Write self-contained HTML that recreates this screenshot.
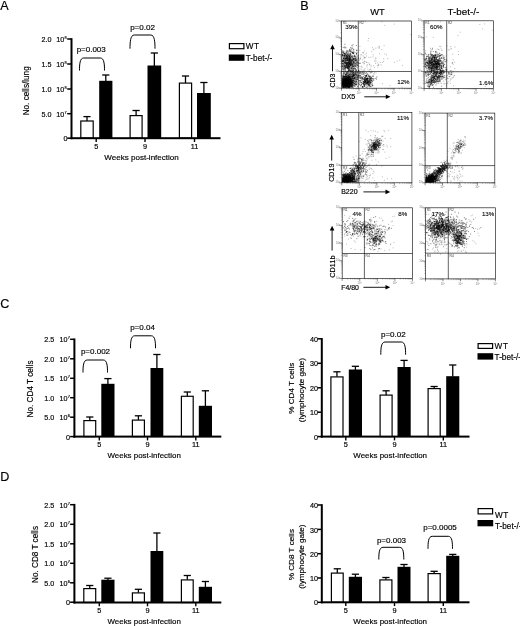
<!DOCTYPE html>
<html lang="en"><head><meta charset="utf-8"><title>Figure</title>
<style>html,body{margin:0;padding:0;background:#fff;overflow:hidden}svg{display:block}text{font-family:'Liberation Sans', sans-serif;fill:#000;stroke:#000;stroke-width:0.17px}</style></head><body>
<svg width="520" height="626" viewBox="0 0 520 626">
<rect width="520" height="626" fill="#fff"/>
<defs><filter id="soft" x="0" y="0" width="520" height="626" filterUnits="userSpaceOnUse"><feGaussianBlur stdDeviation="0.38"/></filter></defs>
<g id="fig" filter="url(#soft)">
<text x="0.3" y="10.3" font-size="12.6">A</text>
<text x="300.3" y="10.2" font-size="12.6">B</text>
<text x="0.2" y="308.2" font-size="12.6">C</text>
<text x="0.3" y="481.4" font-size="12.6">D</text>
<line x1="87.0" y1="116.6" x2="87.0" y2="120.9" stroke="#000" stroke-width="1.3"/>
<line x1="83.4" y1="116.6" x2="90.6" y2="116.6" stroke="#000" stroke-width="1.3"/>
<rect x="80.8" y="121.0" width="12.399999999999995" height="17.19999999999998" fill="#fff" stroke="#000" stroke-width="1.2"/>
<line x1="105.80000000000001" y1="75" x2="105.80000000000001" y2="81.3" stroke="#000" stroke-width="1.3"/>
<line x1="102.20000000000002" y1="75" x2="109.4" y2="75" stroke="#000" stroke-width="1.3"/>
<rect x="99.2" y="80.8" width="13.200000000000003" height="57.39999999999999" fill="#000"/>
<line x1="136.1" y1="110.5" x2="136.1" y2="115.5" stroke="#000" stroke-width="1.3"/>
<line x1="132.5" y1="110.5" x2="139.7" y2="110.5" stroke="#000" stroke-width="1.3"/>
<rect x="130.1" y="115.6" width="11.99999999999999" height="22.599999999999987" fill="#fff" stroke="#000" stroke-width="1.2"/>
<line x1="154.35" y1="53" x2="154.35" y2="66.0" stroke="#000" stroke-width="1.3"/>
<line x1="150.75" y1="53" x2="157.95" y2="53" stroke="#000" stroke-width="1.3"/>
<rect x="147.5" y="65.5" width="13.699999999999989" height="72.69999999999999" fill="#000"/>
<line x1="185.5" y1="76" x2="185.5" y2="83.0" stroke="#000" stroke-width="1.3"/>
<line x1="181.9" y1="76" x2="189.1" y2="76" stroke="#000" stroke-width="1.3"/>
<rect x="179.4" y="83.1" width="12.199999999999978" height="55.09999999999999" fill="#fff" stroke="#000" stroke-width="1.2"/>
<line x1="203.9" y1="82.5" x2="203.9" y2="93.5" stroke="#000" stroke-width="1.3"/>
<line x1="200.3" y1="82.5" x2="207.5" y2="82.5" stroke="#000" stroke-width="1.3"/>
<rect x="197" y="93" width="13.800000000000011" height="45.19999999999999" fill="#000"/>
<rect x="70.5" y="38.2" width="2" height="100.99999999999999" fill="#000"/>
<rect x="70.5" y="137.2" width="150.0" height="2" fill="#000"/>
<line x1="67.2" y1="39" x2="71.5" y2="39" stroke="#000" stroke-width="1.5"/>
<line x1="67.2" y1="64" x2="71.5" y2="64" stroke="#000" stroke-width="1.5"/>
<line x1="67.2" y1="89" x2="71.5" y2="89" stroke="#000" stroke-width="1.5"/>
<line x1="67.2" y1="113.7" x2="71.5" y2="113.7" stroke="#000" stroke-width="1.5"/>
<line x1="67.2" y1="138.2" x2="71.5" y2="138.2" stroke="#000" stroke-width="1.5"/>
<line x1="96.2" y1="138.2" x2="96.2" y2="142.0" stroke="#000" stroke-width="1.4"/>
<text x="96.2" y="149.3" font-size="7.3" text-anchor="middle">5</text>
<line x1="145" y1="138.2" x2="145" y2="142.0" stroke="#000" stroke-width="1.4"/>
<text x="145" y="149.3" font-size="7.3" text-anchor="middle">9</text>
<line x1="194.5" y1="138.2" x2="194.5" y2="142.0" stroke="#000" stroke-width="1.4"/>
<text x="194.5" y="149.3" font-size="7.3" text-anchor="middle">11</text>
<text x="104.3" y="160" font-size="8" textLength="74.5" lengthAdjust="spacingAndGlyphs">Weeks post-infection</text>
<text x="51.4" y="42.2" font-size="7.2" text-anchor="end">2.0</text>
<text x="56.3" y="42.2" font-size="7.2">10<tspan dx="0.3" dy="-3.1" font-size="3.9">8</tspan></text>
<text x="51.4" y="67.19999999999999" font-size="7.2" text-anchor="end">1.5</text>
<text x="56.3" y="67.19999999999999" font-size="7.2">10<tspan dx="0.3" dy="-3.1" font-size="3.9">8</tspan></text>
<text x="51.4" y="92.19999999999999" font-size="7.2" text-anchor="end">1.0</text>
<text x="56.3" y="92.19999999999999" font-size="7.2">10<tspan dx="0.3" dy="-3.1" font-size="3.9">8</tspan></text>
<text x="51.4" y="116.89999999999999" font-size="7.2" text-anchor="end">5.0</text>
<text x="56.3" y="116.89999999999999" font-size="7.2">10<tspan dx="0.3" dy="-3.1" font-size="3.9">7</tspan></text>
<text x="67.4" y="141.39999999999998" font-size="7.2" text-anchor="end">0</text>
<text x="29.2" y="115.3" font-size="8.3" textLength="49" lengthAdjust="spacingAndGlyphs" transform="rotate(-90 29.2 115.3)">No. cells/lung</text>
<path d="M79.5 70.5 C79.5 64.5 79.8 58 83.7 58 L100.3 58 C104.2 58 104.5 64.5 104.5 70.5" fill="none" stroke="#000" stroke-width="1"/>
<text x="91.2" y="52.28" font-size="8" text-anchor="middle">p=0.003</text>
<path d="M130 48.7 C130 42.7 130.3 35 134.2 35 L150.8 35 C154.7 35 155 42.7 155 48.7" fill="none" stroke="#000" stroke-width="1"/>
<text x="142.5" y="30.279999999999998" font-size="8" text-anchor="middle">p=0.02</text>
<rect x="229.4" y="43.6" width="14.49999999999999" height="5.099999999999997" fill="#fff" stroke="#000" stroke-width="1.2"/>
<rect x="228.8" y="54.5" width="15.699999999999989" height="6.299999999999997" fill="#000"/>
<text x="245.8" y="48.9" font-size="8.2" textLength="13.3" lengthAdjust="spacing">WT</text>
<text x="245.8" y="60.5" font-size="8.2">T-bet-/-</text>
<line x1="89.8" y1="417" x2="89.8" y2="420.5" stroke="#000" stroke-width="1.3"/>
<line x1="86.2" y1="417" x2="93.39999999999999" y2="417" stroke="#000" stroke-width="1.3"/>
<rect x="83.89999999999999" y="420.6" width="11.8" height="16.00000000000002" fill="#fff" stroke="#000" stroke-width="1.2"/>
<line x1="107.9" y1="378.6" x2="107.9" y2="384.3" stroke="#000" stroke-width="1.3"/>
<line x1="104.30000000000001" y1="378.6" x2="111.5" y2="378.6" stroke="#000" stroke-width="1.3"/>
<rect x="101.3" y="383.8" width="13.200000000000003" height="52.80000000000001" fill="#000"/>
<line x1="138.4" y1="415.8" x2="138.4" y2="420.0" stroke="#000" stroke-width="1.3"/>
<line x1="134.8" y1="415.8" x2="142.0" y2="415.8" stroke="#000" stroke-width="1.3"/>
<rect x="132.4" y="420.1" width="11.99999999999999" height="16.50000000000002" fill="#fff" stroke="#000" stroke-width="1.2"/>
<line x1="156.9" y1="354.5" x2="156.9" y2="368.5" stroke="#000" stroke-width="1.3"/>
<line x1="153.3" y1="354.5" x2="160.5" y2="354.5" stroke="#000" stroke-width="1.3"/>
<rect x="150.5" y="368" width="12.800000000000011" height="68.60000000000002" fill="#000"/>
<line x1="187.3" y1="392" x2="187.3" y2="396.2" stroke="#000" stroke-width="1.3"/>
<line x1="183.70000000000002" y1="392" x2="190.9" y2="392" stroke="#000" stroke-width="1.3"/>
<rect x="181.4" y="396.3" width="11.8" height="40.30000000000003" fill="#fff" stroke="#000" stroke-width="1.2"/>
<line x1="205.4" y1="390.8" x2="205.4" y2="406.3" stroke="#000" stroke-width="1.3"/>
<line x1="201.8" y1="390.8" x2="209.0" y2="390.8" stroke="#000" stroke-width="1.3"/>
<rect x="198.8" y="405.8" width="13.199999999999989" height="30.80000000000001" fill="#000"/>
<rect x="73.4" y="338.5" width="2" height="99.10000000000001" fill="#000"/>
<rect x="73.4" y="435.6" width="147.9" height="2" fill="#000"/>
<line x1="70.10000000000001" y1="339.3" x2="74.4" y2="339.3" stroke="#000" stroke-width="1.5"/>
<line x1="70.10000000000001" y1="358.8" x2="74.4" y2="358.8" stroke="#000" stroke-width="1.5"/>
<line x1="70.10000000000001" y1="378.3" x2="74.4" y2="378.3" stroke="#000" stroke-width="1.5"/>
<line x1="70.10000000000001" y1="397.7" x2="74.4" y2="397.7" stroke="#000" stroke-width="1.5"/>
<line x1="70.10000000000001" y1="417.2" x2="74.4" y2="417.2" stroke="#000" stroke-width="1.5"/>
<line x1="70.10000000000001" y1="436.6" x2="74.4" y2="436.6" stroke="#000" stroke-width="1.5"/>
<line x1="99.3" y1="436.6" x2="99.3" y2="440.40000000000003" stroke="#000" stroke-width="1.4"/>
<text x="99.3" y="447.3" font-size="7.3" text-anchor="middle">5</text>
<line x1="147.5" y1="436.6" x2="147.5" y2="440.40000000000003" stroke="#000" stroke-width="1.4"/>
<text x="147.5" y="447.3" font-size="7.3" text-anchor="middle">9</text>
<line x1="195.8" y1="436.6" x2="195.8" y2="440.40000000000003" stroke="#000" stroke-width="1.4"/>
<text x="195.8" y="447.3" font-size="7.3" text-anchor="middle">11</text>
<text x="107.5" y="458.2" font-size="8" textLength="73.3" lengthAdjust="spacingAndGlyphs">Weeks post-infection</text>
<text x="54.3" y="342.3" font-size="7.2" text-anchor="end">2.5</text>
<text x="59.5" y="342.3" font-size="7.2">10<tspan dx="0.3" dy="-3.1" font-size="3.9">7</tspan></text>
<text x="54.3" y="361.8" font-size="7.2" text-anchor="end">2.0</text>
<text x="59.5" y="361.8" font-size="7.2">10<tspan dx="0.3" dy="-3.1" font-size="3.9">7</tspan></text>
<text x="54.3" y="381.3" font-size="7.2" text-anchor="end">1.5</text>
<text x="59.5" y="381.3" font-size="7.2">10<tspan dx="0.3" dy="-3.1" font-size="3.9">7</tspan></text>
<text x="54.3" y="400.7" font-size="7.2" text-anchor="end">1.0</text>
<text x="59.5" y="400.7" font-size="7.2">10<tspan dx="0.3" dy="-3.1" font-size="3.9">7</tspan></text>
<text x="54.3" y="420.2" font-size="7.2" text-anchor="end">5.0</text>
<text x="59.5" y="420.2" font-size="7.2">10<tspan dx="0.3" dy="-3.1" font-size="3.9">6</tspan></text>
<text x="70" y="439.6" font-size="7.2" text-anchor="end">0</text>
<text x="33.4" y="417.4" font-size="8.3" textLength="57" lengthAdjust="spacingAndGlyphs" transform="rotate(-90 33.4 417.4)">No. CD4 T cells</text>
<path d="M83 372.5 C83 366.5 83.3 360 87.2 360 L103.3 360 C107.2 360 107.5 366.5 107.5 372.5" fill="none" stroke="#000" stroke-width="1"/>
<text x="95.5" y="354.08" font-size="8" text-anchor="middle">p=0.002</text>
<path d="M130.5 348.3 C130.5 342.3 130.8 335.8 134.7 335.8 L151.3 335.8 C155.2 335.8 155.5 342.3 155.5 348.3" fill="none" stroke="#000" stroke-width="1"/>
<text x="142.5" y="330.28" font-size="8" text-anchor="middle">p=0.04</text>
<line x1="336.95000000000005" y1="371.8" x2="336.95000000000005" y2="376.8" stroke="#000" stroke-width="1.3"/>
<line x1="333.35" y1="371.8" x2="340.55000000000007" y2="371.8" stroke="#000" stroke-width="1.3"/>
<rect x="330.90000000000003" y="376.90000000000003" width="12.100000000000012" height="59.70000000000001" fill="#fff" stroke="#000" stroke-width="1.2"/>
<line x1="355.4" y1="366.3" x2="355.4" y2="370.0" stroke="#000" stroke-width="1.3"/>
<line x1="351.79999999999995" y1="366.3" x2="359.0" y2="366.3" stroke="#000" stroke-width="1.3"/>
<rect x="348.8" y="369.5" width="13.199999999999989" height="67.10000000000002" fill="#000"/>
<line x1="386.1" y1="390.8" x2="386.1" y2="395.0" stroke="#000" stroke-width="1.3"/>
<line x1="382.5" y1="390.8" x2="389.70000000000005" y2="390.8" stroke="#000" stroke-width="1.3"/>
<rect x="380.1" y="395.1" width="11.99999999999999" height="41.50000000000002" fill="#fff" stroke="#000" stroke-width="1.2"/>
<line x1="404.1" y1="360.4" x2="404.1" y2="367.5" stroke="#000" stroke-width="1.3"/>
<line x1="400.5" y1="360.4" x2="407.70000000000005" y2="360.4" stroke="#000" stroke-width="1.3"/>
<rect x="397.5" y="367" width="13.199999999999989" height="69.60000000000002" fill="#000"/>
<line x1="434.15" y1="386.5" x2="434.15" y2="388.5" stroke="#000" stroke-width="1.3"/>
<line x1="430.54999999999995" y1="386.5" x2="437.75" y2="386.5" stroke="#000" stroke-width="1.3"/>
<rect x="428.1" y="388.6" width="12.100000000000012" height="48.00000000000002" fill="#fff" stroke="#000" stroke-width="1.2"/>
<line x1="452.75" y1="365" x2="452.75" y2="376.7" stroke="#000" stroke-width="1.3"/>
<line x1="449.15" y1="365" x2="456.35" y2="365" stroke="#000" stroke-width="1.3"/>
<rect x="446.2" y="376.2" width="13.100000000000023" height="60.400000000000034" fill="#000"/>
<rect x="320.8" y="338.0" width="2" height="99.60000000000001" fill="#000"/>
<rect x="320.8" y="435.6" width="148.7" height="2" fill="#000"/>
<line x1="317.5" y1="338.8" x2="321.8" y2="338.8" stroke="#000" stroke-width="1.5"/>
<line x1="317.5" y1="363.3" x2="321.8" y2="363.3" stroke="#000" stroke-width="1.5"/>
<line x1="317.5" y1="387.8" x2="321.8" y2="387.8" stroke="#000" stroke-width="1.5"/>
<line x1="317.5" y1="412.2" x2="321.8" y2="412.2" stroke="#000" stroke-width="1.5"/>
<line x1="317.5" y1="436.6" x2="321.8" y2="436.6" stroke="#000" stroke-width="1.5"/>
<line x1="345.8" y1="436.6" x2="345.8" y2="440.40000000000003" stroke="#000" stroke-width="1.4"/>
<text x="345.8" y="447.3" font-size="7.3" text-anchor="middle">5</text>
<line x1="394.5" y1="436.6" x2="394.5" y2="440.40000000000003" stroke="#000" stroke-width="1.4"/>
<text x="394.5" y="447.3" font-size="7.3" text-anchor="middle">9</text>
<line x1="443.3" y1="436.6" x2="443.3" y2="440.40000000000003" stroke="#000" stroke-width="1.4"/>
<text x="443.3" y="447.3" font-size="7.3" text-anchor="middle">11</text>
<text x="353.3" y="457.7" font-size="8" textLength="73.7" lengthAdjust="spacingAndGlyphs">Weeks post-infection</text>
<text x="318.0" y="341.95" font-size="7.2" text-anchor="end">40</text>
<text x="318.0" y="366.45" font-size="7.2" text-anchor="end">30</text>
<text x="318.0" y="390.95" font-size="7.2" text-anchor="end">20</text>
<text x="318.0" y="415.34999999999997" font-size="7.2" text-anchor="end">10</text>
<text x="318.0" y="439.75" font-size="7.2" text-anchor="end">0</text>
<text x="293.6" y="413.7" font-size="8" textLength="51" lengthAdjust="spacingAndGlyphs" transform="rotate(-90 293.6 413.7)">% CD4 T cells</text>
<text x="304.3" y="422.2" font-size="8" textLength="64.2" lengthAdjust="spacingAndGlyphs" transform="rotate(-90 304.3 422.2)">(lymphocyte gate)</text>
<path d="M380.8 354.7 C380.8 348.7 381.1 342 385.0 342 L401.40000000000003 342 C405.3 342 405.6 348.7 405.6 354.7" fill="none" stroke="#000" stroke-width="1"/>
<text x="393.3" y="337.08" font-size="8" text-anchor="middle">p=0.02</text>
<rect x="478.1" y="343.6" width="14.49999999999999" height="4.8" fill="#fff" stroke="#000" stroke-width="1.2"/>
<rect x="477.5" y="353.2" width="15.699999999999989" height="6.400000000000034" fill="#000"/>
<text x="494.6" y="348.9" font-size="8.2" textLength="13.3" lengthAdjust="spacing">WT</text>
<text x="494.6" y="359.7" font-size="8.2">T-bet-/-</text>
<line x1="89.75" y1="585.5" x2="89.75" y2="588.5" stroke="#000" stroke-width="1.3"/>
<line x1="86.15" y1="585.5" x2="93.35" y2="585.5" stroke="#000" stroke-width="1.3"/>
<rect x="83.8" y="588.6" width="11.899999999999995" height="13.9" fill="#fff" stroke="#000" stroke-width="1.2"/>
<line x1="107.9" y1="578.2" x2="107.9" y2="580.2" stroke="#000" stroke-width="1.3"/>
<line x1="104.30000000000001" y1="578.2" x2="111.5" y2="578.2" stroke="#000" stroke-width="1.3"/>
<rect x="101.3" y="579.7" width="13.200000000000003" height="22.799999999999955" fill="#000"/>
<line x1="138.4" y1="589.3" x2="138.4" y2="592.8" stroke="#000" stroke-width="1.3"/>
<line x1="134.8" y1="589.3" x2="142.0" y2="589.3" stroke="#000" stroke-width="1.3"/>
<rect x="132.4" y="592.9" width="11.99999999999999" height="9.600000000000046" fill="#fff" stroke="#000" stroke-width="1.2"/>
<line x1="156.9" y1="533" x2="156.9" y2="551.5" stroke="#000" stroke-width="1.3"/>
<line x1="153.3" y1="533" x2="160.5" y2="533" stroke="#000" stroke-width="1.3"/>
<rect x="150.5" y="551" width="12.800000000000011" height="51.5" fill="#000"/>
<line x1="187.3" y1="575.5" x2="187.3" y2="579.8" stroke="#000" stroke-width="1.3"/>
<line x1="183.70000000000002" y1="575.5" x2="190.9" y2="575.5" stroke="#000" stroke-width="1.3"/>
<rect x="181.4" y="579.9" width="11.8" height="22.600000000000044" fill="#fff" stroke="#000" stroke-width="1.2"/>
<line x1="205.4" y1="581.5" x2="205.4" y2="587.3" stroke="#000" stroke-width="1.3"/>
<line x1="201.8" y1="581.5" x2="209.0" y2="581.5" stroke="#000" stroke-width="1.3"/>
<rect x="198.8" y="586.8" width="13.199999999999989" height="15.700000000000045" fill="#000"/>
<rect x="73.4" y="503.9" width="2" height="99.60000000000001" fill="#000"/>
<rect x="73.4" y="601.5" width="147.9" height="2" fill="#000"/>
<line x1="70.10000000000001" y1="504.7" x2="74.4" y2="504.7" stroke="#000" stroke-width="1.5"/>
<line x1="70.10000000000001" y1="524.3" x2="74.4" y2="524.3" stroke="#000" stroke-width="1.5"/>
<line x1="70.10000000000001" y1="543.8" x2="74.4" y2="543.8" stroke="#000" stroke-width="1.5"/>
<line x1="70.10000000000001" y1="563.3" x2="74.4" y2="563.3" stroke="#000" stroke-width="1.5"/>
<line x1="70.10000000000001" y1="582.8" x2="74.4" y2="582.8" stroke="#000" stroke-width="1.5"/>
<line x1="70.10000000000001" y1="602.2" x2="74.4" y2="602.2" stroke="#000" stroke-width="1.5"/>
<line x1="99.3" y1="602.5" x2="99.3" y2="606.3" stroke="#000" stroke-width="1.4"/>
<text x="99.3" y="613" font-size="7.3" text-anchor="middle">5</text>
<line x1="147.5" y1="602.5" x2="147.5" y2="606.3" stroke="#000" stroke-width="1.4"/>
<text x="147.5" y="613" font-size="7.3" text-anchor="middle">9</text>
<line x1="195.8" y1="602.5" x2="195.8" y2="606.3" stroke="#000" stroke-width="1.4"/>
<text x="195.8" y="613" font-size="7.3" text-anchor="middle">11</text>
<text x="107.5" y="623.8" font-size="8" textLength="73.3" lengthAdjust="spacingAndGlyphs">Weeks post-infection</text>
<text x="54.3" y="507.7" font-size="7.2" text-anchor="end">2.5</text>
<text x="59.5" y="507.7" font-size="7.2">10<tspan dx="0.3" dy="-3.1" font-size="3.9">7</tspan></text>
<text x="54.3" y="527.3" font-size="7.2" text-anchor="end">2.0</text>
<text x="59.5" y="527.3" font-size="7.2">10<tspan dx="0.3" dy="-3.1" font-size="3.9">7</tspan></text>
<text x="54.3" y="546.8" font-size="7.2" text-anchor="end">1.5</text>
<text x="59.5" y="546.8" font-size="7.2">10<tspan dx="0.3" dy="-3.1" font-size="3.9">7</tspan></text>
<text x="54.3" y="566.3" font-size="7.2" text-anchor="end">1.0</text>
<text x="59.5" y="566.3" font-size="7.2">10<tspan dx="0.3" dy="-3.1" font-size="3.9">7</tspan></text>
<text x="54.3" y="585.8" font-size="7.2" text-anchor="end">5.0</text>
<text x="59.5" y="585.8" font-size="7.2">10<tspan dx="0.3" dy="-3.1" font-size="3.9">6</tspan></text>
<text x="70" y="605.2" font-size="7.2" text-anchor="end">0</text>
<text x="38.3" y="583" font-size="8.3" textLength="57" lengthAdjust="spacingAndGlyphs" transform="rotate(-90 38.3 583)">No. CD8 T cells</text>
<line x1="337.3" y1="568.8" x2="337.3" y2="573.0" stroke="#000" stroke-width="1.3"/>
<line x1="333.7" y1="568.8" x2="340.90000000000003" y2="568.8" stroke="#000" stroke-width="1.3"/>
<rect x="331.40000000000003" y="573.1" width="11.8" height="29.199999999999953" fill="#fff" stroke="#000" stroke-width="1.2"/>
<line x1="355.4" y1="574.2" x2="355.4" y2="577.3" stroke="#000" stroke-width="1.3"/>
<line x1="351.79999999999995" y1="574.2" x2="359.0" y2="574.2" stroke="#000" stroke-width="1.3"/>
<rect x="348.8" y="576.8" width="13.199999999999989" height="25.5" fill="#000"/>
<line x1="385.9" y1="577.5" x2="385.9" y2="579.8" stroke="#000" stroke-width="1.3"/>
<line x1="382.29999999999995" y1="577.5" x2="389.5" y2="577.5" stroke="#000" stroke-width="1.3"/>
<rect x="379.90000000000003" y="579.9" width="11.99999999999999" height="22.4" fill="#fff" stroke="#000" stroke-width="1.2"/>
<line x1="404.0" y1="564.5" x2="404.0" y2="567.3" stroke="#000" stroke-width="1.3"/>
<line x1="400.4" y1="564.5" x2="407.6" y2="564.5" stroke="#000" stroke-width="1.3"/>
<rect x="397.5" y="566.8" width="13.0" height="35.5" fill="#000"/>
<line x1="434.15" y1="571.3" x2="434.15" y2="573.5" stroke="#000" stroke-width="1.3"/>
<line x1="430.54999999999995" y1="571.3" x2="437.75" y2="571.3" stroke="#000" stroke-width="1.3"/>
<rect x="428.1" y="573.6" width="12.100000000000012" height="28.699999999999953" fill="#fff" stroke="#000" stroke-width="1.2"/>
<line x1="452.75" y1="554.4" x2="452.75" y2="556.3" stroke="#000" stroke-width="1.3"/>
<line x1="449.15" y1="554.4" x2="456.35" y2="554.4" stroke="#000" stroke-width="1.3"/>
<rect x="446.2" y="555.8" width="13.100000000000023" height="46.5" fill="#000"/>
<rect x="320.8" y="504.2" width="2" height="99.09999999999995" fill="#000"/>
<rect x="320.8" y="601.3" width="148.7" height="2" fill="#000"/>
<line x1="317.5" y1="505" x2="321.8" y2="505" stroke="#000" stroke-width="1.5"/>
<line x1="317.5" y1="529.4" x2="321.8" y2="529.4" stroke="#000" stroke-width="1.5"/>
<line x1="317.5" y1="553.7" x2="321.8" y2="553.7" stroke="#000" stroke-width="1.5"/>
<line x1="317.5" y1="578" x2="321.8" y2="578" stroke="#000" stroke-width="1.5"/>
<line x1="317.5" y1="602.3" x2="321.8" y2="602.3" stroke="#000" stroke-width="1.5"/>
<line x1="345.8" y1="602.3" x2="345.8" y2="606.0999999999999" stroke="#000" stroke-width="1.4"/>
<text x="345.8" y="613" font-size="7.3" text-anchor="middle">5</text>
<line x1="394.5" y1="602.3" x2="394.5" y2="606.0999999999999" stroke="#000" stroke-width="1.4"/>
<text x="394.5" y="613" font-size="7.3" text-anchor="middle">9</text>
<line x1="443.3" y1="602.3" x2="443.3" y2="606.0999999999999" stroke="#000" stroke-width="1.4"/>
<text x="443.3" y="613" font-size="7.3" text-anchor="middle">11</text>
<text x="353.3" y="623.5" font-size="8" textLength="73.7" lengthAdjust="spacingAndGlyphs">Weeks post-infection</text>
<text x="318.0" y="508.15" font-size="7.2" text-anchor="end">40</text>
<text x="318.0" y="532.55" font-size="7.2" text-anchor="end">30</text>
<text x="318.0" y="556.85" font-size="7.2" text-anchor="end">20</text>
<text x="318.0" y="581.15" font-size="7.2" text-anchor="end">10</text>
<text x="318.0" y="605.4499999999999" font-size="7.2" text-anchor="end">0</text>
<text x="293.6" y="580.3" font-size="8" textLength="51.3" lengthAdjust="spacingAndGlyphs" transform="rotate(-90 293.6 580.3)">% CD8 T cells</text>
<text x="304.3" y="588.8" font-size="8" textLength="64.2" lengthAdjust="spacingAndGlyphs" transform="rotate(-90 304.3 588.8)">(lymphocyte gate)</text>
<path d="M378.8 559.5 C378.8 553.5 379.1 547.3 383.0 547.3 L399.6 547.3 C403.5 547.3 403.8 553.5 403.8 559.5" fill="none" stroke="#000" stroke-width="1"/>
<text x="391.5" y="543.0799999999999" font-size="8" text-anchor="middle">p=0.003</text>
<path d="M428 548.8 C428 542.8 428.3 536.3 432.2 536.3 L448.3 536.3 C452.2 536.3 452.5 542.8 452.5 548.8" fill="none" stroke="#000" stroke-width="1"/>
<text x="440" y="530.28" font-size="8" text-anchor="middle">p=0.0005</text>
<rect x="478.1" y="508.6" width="14.49999999999999" height="5.3" fill="#fff" stroke="#000" stroke-width="1.2"/>
<rect x="477.5" y="520" width="15.699999999999989" height="6.2999999999999545" fill="#000"/>
<text x="495" y="517.5" font-size="8.2" textLength="13.3" lengthAdjust="spacing">WT</text>
<text x="495" y="528.8" font-size="8.2">T-bet-/-</text>
<text x="377.5" y="15" font-size="9.3" text-anchor="middle">WT</text>
<text x="463.4" y="15.3" font-size="9.8" text-anchor="middle">T-bet-/-</text>
<path d="M365.1 54.4h0M375.6 58.2h0M373.3 54.8h0M366.6 72.9h0M358.0 65.6h0M344.8 72.7h0M371.7 51.6h0M365.7 76.5h0M346.3 81.1h0M379.4 47.2h0M352.7 48.6h0M352.9 48.7h0M363.0 55.8h0M354.9 64.8h0M358.0 78.9h0M373.1 49.9h0M351.6 45.4h0M356.2 49.7h0M372.0 78.6h0M384.8 54.0h0M343.6 77.5h0M359.7 85.0h0M358.9 58.4h0M345.1 85.8h0M364.0 63.9h0M360.8 78.0h0M377.7 65.5h0M349.7 62.5h0M380.3 62.5h0M370.4 69.1h0M361.8 69.7h0M352.5 69.0h0M379.2 48.4h0M357.9 82.9h0M384.1 45.6h0M369.0 72.2h0M378.3 65.2h0M347.6 57.9h0M372.6 76.3h0M350.8 72.6h0M370.2 73.3h0M342.9 64.0h0M356.0 70.7h0M356.5 50.5h0M370.8 57.3h0M376.0 58.1h0M365.5 79.7h0M347.0 76.4h0M344.9 85.3h0M343.1 76.1h0M357.9 52.7h0M359.0 66.6h0M359.8 50.3h0M364.5 57.9h0M383.6 61.5h0M360.7 54.8h0M383.7 58.8h0M369.8 80.8h0M358.9 77.5h0M354.0 49.7h0M343.8 64.3h0M379.6 53.7h0M360.9 77.8h0M353.9 51.6h0M364.3 63.3h0M382.4 83.6h0M352.2 69.1h0M359.9 46.5h0M361.1 84.4h0M355.0 70.2h0M372.5 47.7h0M381.7 49.7h0M355.0 75.8h0M342.8 61.1h0M347.4 65.4h0M342.7 51.5h0M351.6 48.5h0M345.9 53.4h0M364.3 50.9h0M377.3 62.9h0M352.8 55.4h0M378.1 47.0h0M373.9 49.2h0M382.6 62.6h0M367.7 82.1h0M346.3 47.8h0M371.8 70.3h0M373.0 56.9h0M363.4 53.0h0M360.8 57.1h0M356.2 63.0h0M360.2 75.9h0M374.4 72.4h0M356.2 66.1h0M369.2 71.5h0M349.2 65.7h0M356.2 71.1h0M367.0 62.5h0M378.8 64.2h0M381.1 65.0h0M361.3 78.8h0M357.9 62.9h0M373.6 65.8h0M365.7 57.7h0M376.0 72.7h0M364.8 70.8h0M358.1 62.9h0M349.7 68.6h0M371.7 71.8h0M369.2 70.9h0M354.8 57.4h0M367.0 67.2h0M369.7 64.3h0M355.1 69.1h0M357.6 55.2h0M357.2 60.2h0M353.3 62.4h0M369.4 81.8h0M375.5 63.3h0M370.9 65.6h0M365.2 61.6h0M361.4 54.9h0M376.0 61.0h0M366.6 62.2h0M364.1 58.3h0M359.1 72.2h0M366.7 53.2h0M368.7 57.4h0M364.2 69.6h0M357.0 64.0h0M360.1 68.8h0M369.2 75.2h0M364.6 79.4h0M354.6 78.0h0M360.0 71.2h0M361.0 66.7h0M354.8 68.7h0M377.9 67.1h0M361.8 66.1h0M367.6 64.8h0M362.0 67.6h0M372.2 72.4h0M353.8 61.9h0M362.2 71.8h0M369.6 64.7h0M378.7 65.0h0M373.0 75.6h0M374.5 67.5h0M366.5 56.0h0M348.1 62.1h0M367.6 73.2h0M361.2 73.0h0M366.5 76.2h0M349.5 60.6h0M354.5 59.2h0M374.9 60.0h0M355.5 63.5h0M368.9 63.0h0M367.8 69.8h0M357.0 50.4h0M354.8 57.8h0M374.8 61.3h0M353.6 68.6h0M362.4 59.9h0M370.6 72.2h0M364.2 61.1h0M355.2 52.5h0M365.0 68.7h0M354.8 66.3h0M387.7 58.6h0M348.6 70.2h0M358.7 62.8h0M366.9 65.2h0M369.8 69.5h0M371.1 66.9h0M345.1 75.1h0M348.7 73.0h0M364.0 56.9h0M362.5 72.0h0M354.0 66.4h0M386.5 54.9h0M364.3 61.7h0M410.8 34.6h0M365.2 21.8h0M348.5 24.7h0M371.2 77.0h0M390.1 85.7h0M399.7 60.3h0M382.0 21.8h0M368.5 38.5h0M384.8 25.4h0M379.4 46.2h0M375.9 48.1h0M349.1 70.0h0M397.2 61.1h0M350.0 61.1h0M402.1 87.1h0M394.3 24.1h0M402.6 65.6h0M361.1 82.6h0M399.0 81.0h0M359.1 59.7h0M368.1 40.8h0M394.5 62.3h0M364.9 57.4h0" stroke="#000" stroke-width="0.6" stroke-linecap="square" stroke-opacity="0.45" fill="none"/>
<path d="M345.7 84.1h0M345.8 81.5h0M343.5 81.8h0M350.1 83.9h0M349.8 83.3h0M347.8 83.1h0M348.1 84.1h0M343.7 81.0h0M347.5 82.4h0M348.2 80.4h0M347.5 83.8h0M348.3 86.3h0M344.5 80.1h0M345.4 82.2h0M348.5 83.3h0M345.1 79.4h0M344.8 86.4h0M343.9 83.3h0M347.9 77.7h0M346.7 86.7h0M346.2 79.9h0M348.1 82.3h0M348.6 85.5h0M351.1 83.7h0M346.9 78.3h0M348.5 80.5h0M345.1 78.5h0M343.4 80.8h0M350.6 76.0h0M351.1 84.4h0M347.6 80.1h0M342.9 85.6h0M350.0 83.0h0M347.3 83.9h0M351.6 84.5h0M348.2 84.3h0M349.6 84.2h0M349.2 76.7h0M345.9 85.8h0M348.3 82.0h0M347.5 84.6h0M346.9 86.2h0M344.4 81.2h0M349.8 82.6h0M343.7 85.5h0M351.2 81.1h0M346.0 81.5h0M351.0 79.2h0M350.5 78.4h0M344.0 84.5h0M350.1 85.2h0M347.6 83.0h0M347.0 84.3h0M345.9 83.4h0M348.3 82.5h0M348.9 84.3h0M352.9 83.5h0M345.1 81.3h0M346.5 85.5h0M345.4 83.7h0M352.4 74.3h0M342.9 83.3h0M347.8 83.3h0M345.1 84.6h0M347.4 80.8h0M354.3 83.6h0M344.7 82.2h0M345.8 82.3h0M349.7 78.8h0M346.3 85.6h0M349.2 87.3h0M345.4 84.5h0M350.0 73.9h0M350.0 77.9h0M348.7 77.7h0M347.1 86.3h0M346.0 83.1h0M349.1 83.0h0M346.2 87.4h0M349.9 81.6h0M355.3 78.8h0M349.4 81.6h0M346.9 84.8h0M347.2 84.5h0M348.5 79.4h0M343.2 77.8h0M350.6 84.9h0M351.2 79.5h0M346.5 78.9h0M349.0 87.6h0M343.7 87.5h0M349.7 81.9h0M346.2 80.6h0M347.8 83.8h0M351.3 79.2h0M350.1 87.3h0M351.1 81.9h0M344.1 85.8h0M346.9 82.9h0M351.1 81.7h0M347.5 80.5h0M346.5 85.2h0M346.8 86.7h0M346.3 85.8h0M344.4 85.3h0M342.6 82.5h0M345.9 82.4h0M344.6 83.2h0M352.2 82.6h0M348.2 85.7h0M345.9 78.5h0M344.7 85.9h0M349.7 85.0h0M346.5 85.1h0M347.0 78.7h0M349.5 80.7h0M343.6 80.0h0M342.7 83.7h0M344.4 76.3h0M348.8 81.6h0M347.4 81.0h0M349.0 84.9h0M348.6 83.5h0M350.8 84.6h0M347.9 75.8h0M349.4 86.7h0M345.5 81.0h0M352.7 76.9h0M343.5 84.7h0M352.5 82.1h0M348.3 85.4h0M343.6 82.2h0M347.4 85.1h0M346.4 81.9h0M343.2 81.4h0M349.4 82.8h0M343.8 79.8h0M355.0 86.1h0M348.5 74.2h0M348.5 84.0h0M351.9 83.9h0M346.3 84.2h0M347.5 80.3h0M347.4 83.1h0M345.2 79.4h0M353.3 85.8h0M342.7 78.2h0M352.0 85.7h0M352.3 85.1h0M343.7 83.3h0M346.3 84.2h0M344.2 82.1h0M348.0 83.7h0M348.5 83.2h0M345.5 85.0h0M346.7 79.9h0M344.5 82.5h0M346.1 83.0h0M346.5 83.1h0M346.1 78.5h0M347.8 85.9h0M347.9 81.9h0M347.9 79.4h0M343.5 84.9h0M343.0 74.1h0M343.2 87.5h0M345.3 78.1h0M344.1 84.2h0M348.1 83.1h0M351.2 84.8h0M346.4 84.4h0M351.8 85.6h0M349.8 79.0h0M346.0 84.8h0M345.6 85.9h0M348.4 85.4h0M350.5 81.8h0M345.4 85.3h0M349.6 82.5h0M342.8 83.1h0M347.7 86.1h0M349.0 82.6h0M349.2 84.2h0M347.2 82.7h0M345.7 84.7h0M343.1 80.5h0M346.5 77.8h0M345.1 76.1h0M344.3 84.3h0M348.3 82.3h0M345.8 78.0h0M352.3 84.2h0M350.0 79.7h0M345.9 76.7h0M349.0 85.5h0M348.5 76.9h0M344.5 78.0h0M346.6 83.3h0M348.5 84.7h0M351.3 86.2h0M342.3 80.9h0M343.1 79.1h0M346.2 82.5h0M348.1 77.4h0M342.5 82.4h0M345.9 81.5h0M346.3 80.1h0M348.7 83.6h0M346.2 80.3h0M345.9 73.8h0M343.4 82.6h0M347.0 78.1h0M345.7 81.5h0M348.0 84.5h0M346.4 79.8h0M346.0 82.3h0M348.9 83.4h0M344.2 78.2h0M345.3 80.1h0M342.9 82.1h0M344.9 82.8h0M348.2 81.2h0M353.9 81.5h0M350.0 82.9h0M350.1 74.9h0M344.1 83.3h0M347.5 86.6h0M349.0 85.5h0M348.1 82.0h0M348.1 79.0h0M350.3 79.2h0M345.8 82.6h0M350.2 82.6h0M343.9 83.3h0M348.4 84.8h0M351.8 82.6h0M347.4 81.1h0M351.0 80.2h0M348.7 81.0h0M344.3 84.8h0M350.8 82.5h0M344.3 85.1h0M346.3 83.5h0M351.4 86.1h0M346.5 85.0h0M344.4 82.4h0M350.9 78.6h0M350.3 81.0h0M346.3 81.5h0M346.1 79.0h0M346.6 77.9h0M346.3 83.5h0M348.0 81.8h0M343.6 83.0h0M344.9 87.5h0M349.0 82.1h0M345.0 80.3h0M343.5 81.4h0M347.4 84.1h0M344.2 82.5h0M355.4 76.5h0M344.8 83.0h0M347.0 83.8h0M345.7 83.7h0M346.7 85.0h0M346.5 79.2h0M343.2 84.5h0M344.4 84.5h0M348.9 83.5h0M348.1 82.2h0M348.0 80.8h0M346.2 84.9h0M343.7 84.5h0M352.5 80.7h0M347.0 82.0h0M351.4 83.5h0M349.4 80.3h0M346.4 82.5h0M349.4 76.9h0M348.9 82.1h0M347.9 83.7h0M351.3 80.7h0M343.2 78.1h0M342.6 83.6h0M351.9 83.9h0M344.8 80.3h0M348.2 84.3h0M343.3 78.8h0M347.4 83.3h0M342.3 81.9h0M344.8 84.0h0M346.1 82.2h0M345.4 85.9h0M351.0 81.3h0M349.2 80.1h0M346.7 84.9h0M351.3 81.3h0M346.3 83.1h0M344.3 83.7h0M342.9 76.2h0M346.6 83.3h0M344.7 85.3h0M345.6 80.6h0M348.0 77.5h0M344.3 82.4h0M349.2 82.0h0M347.5 80.4h0M344.4 82.6h0M347.1 85.8h0M342.5 75.8h0M348.4 85.0h0M347.2 83.3h0M349.5 83.7h0M351.8 78.5h0M345.3 71.5h0M349.1 81.3h0M346.5 81.7h0M344.9 79.8h0M344.5 84.5h0M346.6 82.7h0M345.9 85.4h0M348.1 82.0h0M348.6 82.0h0M342.8 87.2h0M348.0 79.4h0M350.0 83.6h0M347.6 85.4h0M347.1 82.0h0M346.6 81.6h0M347.6 82.7h0M348.7 81.3h0M346.4 75.7h0M345.1 84.7h0M350.8 81.3h0M346.1 87.6h0M345.5 84.8h0M351.9 82.6h0M350.4 80.2h0M347.2 82.3h0M346.9 86.1h0M354.1 80.4h0M344.7 84.1h0M343.1 84.1h0M348.3 81.6h0M348.2 77.5h0M348.9 77.6h0M344.3 80.7h0M345.2 85.2h0M346.8 81.2h0M348.2 87.6h0M346.5 83.7h0M350.5 83.4h0M353.6 76.1h0M346.4 83.8h0M349.6 84.6h0M345.6 79.1h0M346.8 85.8h0M343.0 79.2h0M346.4 76.3h0M345.7 81.1h0M347.9 80.3h0M343.7 81.2h0M346.3 80.4h0M346.5 84.9h0M344.0 81.2h0M344.2 82.4h0M348.2 78.2h0M348.0 82.4h0M350.3 76.5h0M349.1 83.2h0M348.0 83.9h0M350.7 81.8h0M349.3 81.2h0M348.8 79.9h0M347.9 82.0h0M342.8 80.0h0M347.1 85.5h0M347.9 84.2h0M346.4 86.8h0M345.2 80.7h0M349.3 82.7h0M345.6 80.7h0M345.7 84.5h0M347.6 78.6h0M347.9 83.1h0M343.3 85.0h0M345.6 81.4h0M349.0 86.7h0M344.3 83.9h0M344.9 86.3h0M344.4 85.1h0M353.6 74.4h0M345.1 84.1h0M346.2 80.4h0M353.4 82.8h0M344.7 83.0h0M350.5 82.9h0M350.3 84.9h0M343.9 85.3h0M348.1 84.6h0M349.4 84.8h0M349.3 74.6h0M347.0 84.1h0M354.7 79.4h0M345.4 82.6h0M349.3 81.1h0M350.2 80.0h0M347.4 80.8h0M347.0 80.3h0M347.5 80.7h0M347.1 85.7h0M343.4 82.1h0M348.2 84.2h0M345.4 75.8h0M350.5 83.6h0M346.5 81.6h0M347.3 81.1h0M343.2 80.1h0M344.6 80.5h0M342.8 84.5h0M342.3 84.6h0M343.3 83.6h0M350.9 83.2h0M344.2 82.7h0M347.0 77.0h0M344.6 83.0h0M345.0 82.8h0M348.8 85.0h0M349.4 84.4h0M345.6 82.4h0M345.6 81.5h0M345.9 77.0h0M345.4 82.4h0M343.4 82.4h0M348.1 82.0h0M353.1 74.2h0M345.8 76.7h0M348.2 81.5h0M348.3 75.3h0M349.2 83.7h0M346.6 80.6h0M348.5 80.9h0M347.2 80.9h0M347.1 84.9h0M343.7 82.4h0M348.5 83.0h0M343.6 76.4h0M349.2 87.4h0M349.5 85.1h0M344.5 80.2h0M349.3 79.6h0M344.3 80.2h0M347.2 80.1h0M350.7 82.2h0M343.0 86.7h0M344.6 83.2h0M346.5 81.5h0M347.5 80.3h0M342.4 80.1h0M346.4 82.7h0M348.3 82.9h0M344.0 80.2h0M348.1 84.2h0M346.1 81.9h0M349.5 82.5h0M348.9 84.4h0M347.2 86.7h0M344.7 81.4h0M343.9 79.9h0M346.6 84.3h0M350.3 85.1h0M350.4 78.5h0M344.5 83.9h0M351.1 82.8h0M343.8 81.4h0M344.4 79.8h0M351.3 80.5h0M350.3 83.6h0M344.5 83.8h0M351.7 84.5h0M350.5 82.8h0M348.2 81.9h0M347.9 86.7h0M347.3 80.7h0M345.5 85.0h0M352.9 84.5h0M347.5 77.5h0M352.7 82.7h0M346.4 78.9h0M346.3 79.0h0M346.7 84.0h0M346.6 83.4h0M343.8 87.1h0M344.4 76.7h0M345.9 80.1h0M343.3 81.4h0M347.4 78.7h0M346.1 87.1h0M348.7 82.0h0M346.9 82.1h0M346.3 84.8h0M346.2 74.8h0M346.4 79.7h0M348.6 80.5h0M343.1 78.9h0M344.5 76.5h0M344.0 81.3h0M347.6 86.8h0M352.7 85.8h0M347.0 83.1h0M352.3 87.1h0M345.5 84.0h0M347.4 82.7h0M344.9 78.3h0M344.8 77.6h0M350.4 84.2h0M342.6 87.0h0M349.4 76.4h0M352.4 85.1h0M353.1 78.6h0M348.2 83.9h0M347.1 83.0h0M349.9 77.7h0M342.5 78.0h0M344.7 80.6h0M347.7 83.4h0M346.6 80.3h0M345.1 85.5h0M348.9 82.8h0M345.5 87.5h0M344.6 84.6h0M350.2 81.7h0M349.1 78.9h0M349.7 83.1h0M343.6 86.6h0M344.3 82.0h0M347.4 81.4h0M347.3 80.7h0M348.6 82.5h0M347.2 73.7h0M350.2 82.6h0M348.0 85.9h0M343.0 87.5h0M346.0 84.7h0M345.3 78.9h0M350.0 85.4h0M351.4 85.2h0M344.7 77.2h0M344.4 80.3h0M343.9 84.4h0M347.5 81.6h0M347.1 82.0h0M347.2 84.9h0M349.6 80.3h0M346.9 86.0h0M346.6 77.9h0M344.8 84.8h0M343.7 78.0h0M348.2 85.5h0M347.1 78.3h0M349.0 85.0h0M348.3 80.9h0M347.5 85.0h0M344.7 76.6h0M347.6 84.0h0M346.5 85.3h0M344.6 82.2h0M345.5 84.3h0M351.6 81.7h0M353.1 87.4h0M349.0 84.4h0M352.2 81.9h0M346.1 79.1h0M348.0 86.8h0M348.2 83.9h0M345.9 83.0h0M345.2 79.0h0M344.1 79.9h0M349.2 85.9h0M342.2 85.5h0M349.3 80.6h0M344.5 83.6h0M345.4 76.0h0M347.2 77.6h0M349.4 78.6h0M344.3 79.8h0M344.8 86.7h0M349.2 84.4h0M347.5 77.5h0M344.8 80.7h0M343.4 84.1h0M344.1 80.2h0M343.2 75.9h0M348.4 86.8h0M347.1 79.4h0M350.4 83.5h0M349.5 87.2h0M350.1 81.1h0M349.9 85.0h0M348.4 79.1h0M347.7 87.2h0M342.3 85.9h0M345.8 83.4h0M346.0 85.7h0M349.8 82.8h0M342.2 84.9h0M345.0 84.5h0M350.1 81.1h0M344.8 83.9h0M350.3 86.5h0M348.2 78.3h0M342.5 83.3h0M343.7 86.1h0M349.0 77.2h0M343.9 83.0h0M344.9 82.0h0M348.0 79.9h0M348.0 80.5h0M344.8 84.2h0M344.7 83.4h0M351.6 82.6h0M346.0 84.9h0M345.3 86.0h0M342.4 84.5h0M344.9 79.9h0M352.2 79.8h0M352.1 84.6h0M351.1 79.4h0M350.3 87.2h0M346.1 82.1h0M354.4 83.1h0M345.1 80.5h0M347.9 83.6h0M345.5 84.0h0M351.2 79.3h0M342.2 79.0h0M343.2 76.6h0M347.9 76.6h0M348.1 87.2h0M344.1 81.6h0M346.7 84.2h0M345.4 82.5h0M344.8 82.9h0M342.7 82.7h0M352.6 82.8h0M342.5 83.3h0M343.4 77.2h0M344.1 84.9h0M347.7 82.2h0M343.5 79.0h0M350.8 83.3h0M343.5 75.7h0M342.8 82.3h0M347.2 82.0h0M345.6 78.1h0M344.1 85.2h0M347.3 85.8h0M342.9 84.4h0M347.7 80.1h0M348.0 79.6h0M344.0 82.4h0M343.3 77.8h0M345.1 84.9h0M345.2 86.6h0M342.8 78.3h0M351.5 83.8h0M349.5 79.9h0M349.1 83.3h0M348.6 82.6h0M350.4 80.4h0M343.4 77.8h0M350.2 80.1h0M343.2 79.5h0M345.1 78.4h0M345.6 80.5h0M344.7 79.4h0M346.6 81.0h0M346.9 83.3h0M347.6 75.5h0M344.8 80.0h0M349.0 77.5h0M344.2 81.6h0M345.4 85.7h0M345.1 85.6h0M350.4 83.9h0M348.1 82.9h0M348.0 78.6h0M349.5 80.8h0M349.7 82.8h0M350.1 82.1h0M345.2 83.3h0M345.1 80.8h0M346.8 83.0h0M351.4 82.6h0M352.0 85.9h0M346.9 82.9h0M346.0 80.2h0M346.3 80.4h0M351.7 84.2h0M345.1 76.4h0M346.3 81.2h0M343.0 78.9h0M346.4 82.0h0M351.1 82.9h0M347.0 81.3h0M344.6 87.3h0M345.4 82.6h0M343.7 85.6h0M350.0 87.0h0M343.5 86.0h0M344.2 80.1h0M342.3 86.2h0M351.8 80.6h0M344.1 81.4h0M354.5 85.7h0M344.8 76.8h0M344.3 86.3h0M352.5 81.6h0M344.3 80.9h0M343.0 85.9h0M347.4 80.1h0M349.0 82.5h0M342.7 84.5h0M349.2 76.4h0M352.3 84.1h0M348.9 76.5h0M344.2 81.4h0M349.9 77.8h0M343.7 76.0h0M345.7 83.6h0M348.1 87.6h0M348.6 81.5h0M342.7 79.5h0M344.4 83.0h0M347.4 79.1h0M351.4 85.5h0M346.8 80.2h0M349.4 79.9h0M342.3 83.1h0M347.3 84.4h0M348.6 87.0h0M343.8 85.6h0M343.3 84.7h0M347.1 83.3h0M349.6 82.4h0M350.1 85.3h0M346.9 80.7h0M344.1 80.8h0M345.9 82.4h0M356.0 84.5h0M349.0 79.7h0M344.2 81.5h0M347.1 79.2h0M351.7 80.7h0M350.0 75.0h0M346.5 83.4h0M347.1 84.4h0M347.4 83.0h0M347.5 81.9h0M343.9 80.6h0M346.3 86.6h0M345.0 79.7h0M344.7 83.1h0M356.2 80.4h0M346.7 83.4h0M346.4 85.5h0M352.2 78.5h0M347.0 81.7h0M347.6 77.6h0M348.2 83.1h0M346.7 74.9h0M345.3 80.1h0M348.7 84.2h0M346.4 84.1h0M344.6 82.7h0M346.6 84.3h0M346.3 82.0h0M346.1 80.4h0M353.6 84.1h0M351.0 77.5h0M348.7 85.2h0M352.5 86.7h0M349.0 78.7h0M343.7 83.4h0M348.1 79.2h0M345.3 81.2h0M346.7 83.6h0M345.6 78.5h0M346.2 85.8h0M347.9 84.6h0M348.0 80.1h0M348.3 85.7h0M352.9 84.9h0M345.4 80.6h0M343.9 82.9h0M346.4 84.6h0M353.8 82.4h0M348.7 84.0h0M347.4 81.8h0M346.1 79.9h0M347.1 82.4h0M347.5 79.8h0M346.6 82.7h0M348.4 79.1h0M347.8 85.6h0M348.4 81.3h0M344.9 81.7h0M348.8 87.5h0M346.0 80.4h0M347.7 83.2h0M343.6 80.1h0M346.2 84.6h0M342.7 79.2h0M348.1 78.6h0M346.8 83.6h0M346.1 79.2h0M346.3 81.4h0M347.6 79.8h0M350.0 77.1h0M345.9 82.5h0M349.6 80.6h0M348.2 80.7h0M345.2 83.9h0M343.5 85.6h0M350.4 82.6h0M342.9 83.8h0M350.2 86.0h0M349.1 76.6h0M344.3 87.1h0M342.6 86.1h0M352.5 84.9h0M350.1 81.4h0M342.6 82.2h0M345.9 82.3h0M348.7 82.0h0M347.1 83.9h0M347.9 82.8h0M345.8 80.5h0M350.8 83.0h0M343.0 80.7h0M346.1 81.1h0M350.0 78.8h0M348.1 83.0h0M342.7 82.7h0M346.2 84.1h0M345.1 83.5h0M349.0 85.8h0M346.5 80.6h0M350.0 75.8h0M343.9 84.7h0M348.6 79.2h0M347.0 79.6h0M346.7 85.4h0M348.9 75.8h0M349.0 76.8h0M350.1 83.8h0M353.7 80.5h0M346.5 85.9h0M344.5 80.2h0M345.3 82.3h0M343.0 84.0h0M348.2 82.7h0M351.9 81.5h0M350.7 80.8h0M348.9 76.3h0M347.1 81.9h0M344.9 80.5h0M345.4 80.2h0M344.7 80.8h0M343.1 82.1h0M349.0 81.7h0M344.9 86.8h0M349.6 85.4h0M350.2 81.5h0M346.1 86.1h0M344.7 82.1h0M347.7 83.7h0M345.6 85.6h0M345.9 84.8h0M349.9 84.6h0M348.8 78.8h0M342.3 80.5h0M348.0 87.3h0M342.6 83.5h0M343.8 80.2h0M345.6 84.7h0M347.2 86.3h0M343.3 85.3h0M349.5 82.7h0M348.0 80.7h0M343.0 81.2h0M347.1 83.5h0M348.9 80.0h0M349.4 83.7h0M348.3 83.9h0M351.6 81.2h0M348.1 84.9h0M343.6 86.3h0M348.2 79.0h0M346.1 77.2h0M346.7 78.9h0M347.6 77.6h0M347.9 81.6h0M346.7 82.3h0M346.9 78.3h0M343.5 81.0h0M347.9 76.1h0M344.1 80.5h0M343.1 83.5h0M346.1 79.9h0M343.3 85.1h0M344.4 84.4h0M347.9 76.4h0M343.0 82.5h0M347.6 85.0h0M349.1 85.8h0M345.3 81.8h0M349.0 81.1h0M349.9 77.4h0M348.6 81.9h0M347.5 82.6h0M343.1 81.0h0M351.3 79.9h0M342.7 82.1h0M345.2 79.6h0M343.8 85.9h0M344.8 79.0h0M349.0 84.3h0M343.2 84.9h0M350.1 81.7h0M342.3 84.1h0M349.4 82.4h0M347.8 85.0h0M352.4 81.7h0M345.0 82.4h0M350.4 79.5h0M350.7 73.7h0M349.1 80.3h0M348.0 84.7h0M342.7 82.2h0M347.3 84.4h0M343.5 79.3h0M345.9 81.8h0M344.8 87.1h0M349.2 82.6h0M348.8 78.9h0M345.5 80.7h0M342.4 82.6h0M346.0 87.1h0M343.6 81.0h0M347.9 83.8h0M346.6 81.0h0M348.1 83.7h0M342.1 78.7h0M347.0 82.7h0M346.9 79.7h0M345.9 79.6h0M347.7 84.7h0M352.1 86.6h0M343.9 81.0h0M343.5 83.5h0M352.8 84.8h0M342.4 84.1h0M346.5 83.5h0M352.2 79.9h0M347.6 80.0h0M346.6 85.7h0M346.1 80.3h0M346.6 84.5h0M345.2 84.1h0M349.1 82.0h0M345.0 81.9h0M343.4 81.8h0M345.5 83.2h0M350.8 86.7h0M345.1 84.4h0M347.4 84.9h0M346.6 83.4h0M345.0 80.0h0M349.3 86.7h0M348.6 83.9h0M347.4 81.1h0M347.1 80.7h0M343.4 86.6h0M344.2 82.4h0M344.9 83.0h0M345.8 80.1h0M349.9 80.0h0M344.9 84.3h0M344.8 81.1h0M347.6 81.3h0M342.5 82.2h0M343.0 85.6h0M344.0 81.4h0M345.5 83.4h0M344.5 86.8h0M349.7 85.1h0M344.1 85.4h0M346.2 83.6h0M345.6 84.6h0M350.1 86.1h0M345.8 85.7h0M351.1 79.5h0M351.2 78.2h0M348.2 84.4h0M351.2 83.4h0M345.0 80.0h0M342.5 85.0h0M345.7 80.2h0M348.2 80.1h0M345.1 81.0h0M351.8 87.2h0M346.0 77.5h0M347.4 82.7h0M347.6 84.3h0M345.5 85.5h0M349.2 83.2h0M345.2 81.0h0M348.7 79.0h0M346.0 80.1h0M346.4 82.6h0M349.3 77.7h0M346.3 83.4h0M349.2 79.0h0M348.8 83.2h0M350.8 86.1h0M346.5 81.1h0M345.4 79.5h0M346.4 76.5h0M346.2 83.9h0M349.7 81.4h0M350.9 80.4h0M346.1 76.5h0M344.1 80.0h0M351.2 84.2h0M343.0 84.2h0M348.0 81.8h0M346.6 81.5h0M344.8 77.0h0M346.2 86.5h0M351.0 81.6h0M344.2 81.8h0M349.3 83.6h0M344.7 83.6h0M345.9 84.1h0M345.2 77.9h0M346.7 84.9h0M343.0 82.2h0M349.2 81.3h0M349.1 85.7h0M343.6 87.6h0M348.8 86.6h0M343.6 80.4h0M347.1 76.5h0M348.5 84.2h0M345.1 84.2h0M348.9 83.5h0M348.1 87.2h0M345.0 83.0h0M344.9 85.7h0M345.2 84.0h0M346.9 82.7h0M351.8 82.2h0M350.9 85.1h0M350.6 82.0h0M349.4 84.8h0M344.6 83.3h0M346.1 82.4h0M350.5 80.3h0M345.1 80.5h0M346.5 84.2h0M351.9 83.5h0M347.9 80.2h0M348.3 86.7h0M350.6 76.5h0M349.2 87.4h0M349.1 77.9h0M345.6 84.3h0M347.8 80.0h0M343.8 85.5h0M342.4 86.9h0M346.6 83.4h0M342.4 80.7h0M348.6 78.0h0M352.9 78.2h0M342.7 82.6h0M348.0 84.8h0M345.4 81.9h0M345.8 80.7h0M347.3 83.0h0M344.6 83.3h0M346.5 82.3h0M349.9 77.2h0M347.3 79.2h0M345.5 87.1h0M343.2 82.2h0M344.7 85.4h0M343.5 77.3h0M348.1 81.4h0M345.5 85.8h0M343.8 81.4h0M347.0 83.8h0M344.9 85.7h0M353.4 81.2h0M352.2 76.0h0M350.8 81.4h0M346.9 81.5h0M344.5 78.6h0M345.3 86.5h0M350.0 81.4h0M344.9 80.3h0M348.5 82.9h0M345.0 79.4h0M350.5 84.9h0M343.6 85.5h0M343.1 84.5h0M343.5 81.2h0M348.0 83.8h0M349.6 79.9h0M351.4 86.6h0M346.5 83.9h0M344.1 82.0h0M342.4 82.8h0M347.1 86.6h0M349.4 85.0h0M345.4 81.8h0M345.5 83.2h0M346.6 80.9h0M351.6 82.2h0M351.3 86.1h0M345.0 83.7h0M350.5 81.5h0M346.8 80.8h0M346.7 81.4h0M346.8 85.6h0M350.8 82.9h0M347.1 85.1h0M345.6 79.2h0M349.9 79.6h0M349.4 79.5h0M352.1 79.3h0M349.1 87.1h0M343.5 87.1h0M344.0 77.1h0M348.7 84.7h0M345.9 74.7h0M346.3 81.6h0M345.3 81.6h0M352.0 87.3h0M345.4 80.3h0M347.7 85.8h0M348.7 78.9h0M347.0 82.9h0M350.9 86.2h0M348.1 86.2h0M345.3 87.2h0M345.2 83.7h0M349.3 79.7h0M344.3 77.1h0M347.0 82.3h0M345.5 84.0h0M346.8 81.7h0M345.1 79.6h0M344.6 82.8h0M348.3 79.9h0M349.6 79.4h0M349.0 83.8h0M345.7 82.0h0M348.0 85.2h0M342.4 83.3h0M344.2 84.4h0M350.7 82.7h0M346.2 83.1h0M348.2 83.0h0M345.3 80.3h0M345.9 86.2h0M346.2 86.6h0M347.3 82.5h0M350.3 78.5h0M343.5 79.1h0M344.8 84.5h0M348.3 76.3h0M351.0 80.7h0M346.2 78.7h0M344.5 80.3h0M343.4 81.5h0M349.2 83.6h0M343.5 82.9h0M346.6 84.8h0M345.5 83.9h0M353.0 82.8h0M343.2 83.5h0M344.0 81.4h0M347.1 83.5h0M345.6 85.1h0M345.9 78.5h0M349.2 81.4h0M350.2 80.5h0M348.3 83.5h0M343.1 86.8h0M349.9 84.0h0M348.6 81.0h0M346.5 83.2h0M347.8 84.7h0M345.9 80.3h0M344.8 83.8h0M345.2 80.8h0M345.7 74.3h0M345.5 81.7h0M348.9 76.4h0M345.6 84.0h0M348.0 86.2h0M349.7 79.3h0M348.5 81.5h0M344.0 87.2h0M344.6 79.9h0M345.2 79.9h0M349.6 83.7h0M350.8 83.8h0M344.6 85.7h0M344.5 81.1h0M346.0 82.6h0M350.2 80.6h0M347.6 82.4h0M342.6 79.1h0M345.8 83.7h0M347.5 84.0h0M346.6 81.1h0M347.8 79.4h0M342.4 81.5h0M344.2 80.8h0M346.4 80.0h0M345.2 77.2h0M346.9 79.8h0M347.7 73.8h0M344.0 83.2h0M346.8 82.8h0M347.0 79.5h0M348.8 82.3h0M346.6 81.1h0M348.2 82.8h0M350.0 83.9h0M344.6 81.8h0M349.3 81.4h0M347.7 84.1h0M345.9 75.3h0M346.9 83.2h0M346.9 80.2h0M350.2 82.1h0M344.6 80.3h0M347.6 79.1h0M350.6 85.8h0M350.7 84.3h0M350.3 84.0h0M350.7 81.0h0M346.9 84.9h0M346.2 85.9h0M346.8 84.6h0M346.8 77.9h0M347.4 86.6h0M348.2 80.7h0M346.6 76.5h0M345.9 85.3h0M349.1 86.6h0M343.6 80.5h0M342.9 86.8h0M347.8 81.0h0M353.3 74.7h0M346.3 83.2h0M353.5 82.9h0M349.5 86.7h0M348.1 83.6h0M345.9 81.2h0M345.1 76.0h0M347.3 82.4h0M346.2 81.7h0M344.2 82.4h0M345.1 83.1h0M356.2 83.7h0M349.2 85.0h0M348.7 85.1h0M348.6 86.9h0M349.6 86.7h0M344.9 82.5h0M344.2 85.5h0M349.1 81.0h0M350.4 79.0h0M346.2 84.5h0M346.4 83.7h0M350.2 83.5h0M343.1 84.7h0M346.2 82.9h0M344.7 78.2h0M342.6 81.4h0M343.2 74.0h0M350.1 78.9h0M344.2 84.2h0M344.1 84.6h0M345.0 83.5h0M346.8 82.5h0M346.4 86.9h0M345.3 65.1h0M348.8 64.8h0M352.8 53.2h0M349.3 61.0h0M346.5 57.0h0M344.2 56.0h0M342.7 76.7h0M356.3 62.1h0M351.6 56.3h0M348.7 70.4h0M347.8 56.1h0M346.8 56.2h0M346.1 57.3h0M343.7 56.6h0M349.2 70.1h0M347.0 75.1h0M342.4 61.1h0M348.5 65.3h0M353.5 58.8h0M349.4 57.9h0M352.4 71.8h0M353.0 50.8h0M349.0 60.7h0M349.1 59.2h0M350.2 65.8h0M351.7 65.4h0M350.0 55.1h0M345.9 62.8h0M346.2 55.8h0M348.2 58.6h0M346.0 56.8h0M344.3 61.4h0M344.9 66.0h0M347.3 62.8h0M350.0 69.4h0M350.9 63.3h0M347.2 57.3h0M346.3 66.0h0M349.1 59.7h0M349.6 68.0h0M349.8 54.0h0M347.0 63.3h0M343.5 64.0h0M347.0 57.1h0M349.7 56.8h0M343.1 67.2h0M350.9 60.2h0M355.8 60.3h0M342.9 68.4h0M347.1 64.0h0M348.2 56.1h0M342.2 60.9h0M354.8 56.1h0M354.6 63.3h0M342.6 63.6h0M350.8 56.7h0M342.6 64.6h0M344.1 53.4h0M346.8 63.0h0M345.3 55.1h0M349.0 51.8h0M350.6 64.9h0M356.2 67.2h0M349.7 63.5h0M348.1 54.3h0M355.1 65.1h0M346.6 55.3h0M355.2 65.1h0M342.2 65.9h0M357.2 61.9h0M349.9 59.6h0M344.9 68.3h0M363.0 62.7h0M347.4 66.6h0M346.5 66.2h0M352.0 56.1h0M342.8 61.6h0M352.0 63.6h0M354.0 54.0h0M350.4 58.4h0M348.5 63.9h0M343.3 60.7h0M342.4 63.5h0M343.9 59.1h0M349.1 58.2h0M353.6 58.3h0M352.1 63.6h0M343.0 60.7h0M343.9 59.9h0M346.7 72.6h0M346.0 71.1h0M350.2 54.4h0M353.0 64.3h0M347.0 60.5h0M349.3 60.2h0M345.4 59.8h0M353.7 58.4h0M349.8 55.3h0M344.5 54.0h0M347.0 66.0h0M349.5 59.1h0M351.0 60.0h0M349.8 63.6h0M350.6 47.6h0M347.5 75.0h0M346.9 58.8h0M355.2 65.2h0M357.2 65.0h0M347.0 66.2h0M344.2 59.4h0M345.3 60.7h0M351.8 59.2h0M349.6 59.1h0M352.3 46.0h0M347.0 63.0h0M342.8 67.9h0M349.0 69.4h0M352.6 65.7h0M347.3 55.7h0M346.9 59.3h0M349.2 59.3h0M362.8 52.7h0M353.7 59.3h0M346.8 67.4h0M348.0 55.0h0M350.0 60.9h0M342.9 57.7h0M350.3 63.7h0M346.6 74.6h0M350.0 58.4h0M349.1 61.3h0M347.1 60.4h0M345.3 67.7h0M348.1 71.9h0M351.8 71.5h0M347.4 64.2h0M345.9 61.0h0M343.4 58.2h0M353.9 63.5h0M353.9 67.0h0M352.4 67.8h0M345.1 66.6h0M346.4 58.9h0M353.8 74.5h0M343.3 72.0h0M352.0 57.1h0M349.3 64.1h0M349.8 59.9h0M352.2 66.5h0M351.2 68.4h0M343.2 61.8h0M349.6 67.8h0M348.8 65.0h0M348.6 74.1h0M359.9 63.4h0M349.1 71.9h0M350.2 65.9h0M352.9 63.2h0M343.9 61.4h0M349.6 60.4h0M344.8 59.9h0M347.6 59.9h0M348.2 70.1h0M349.4 61.8h0M342.4 55.8h0M349.8 57.0h0M350.1 55.8h0M348.6 61.6h0M352.8 59.7h0M346.2 63.4h0M348.3 71.8h0M346.8 58.9h0M346.5 64.7h0M349.1 66.0h0M356.9 61.8h0M342.2 62.9h0M350.0 49.1h0M348.1 53.5h0M350.2 70.0h0M353.0 53.3h0M354.6 67.2h0M346.3 64.9h0M355.3 60.1h0M347.9 58.8h0M353.6 49.6h0M354.8 56.4h0M352.5 52.6h0M343.5 58.5h0M352.0 52.6h0M350.9 58.3h0M354.0 60.2h0M350.3 61.0h0M356.6 59.9h0M347.9 73.5h0M348.4 66.0h0M344.5 63.2h0M344.9 53.3h0M350.1 53.2h0M356.7 58.0h0M346.2 63.4h0M342.5 52.7h0M344.4 68.8h0M352.6 52.9h0M353.8 62.2h0M350.4 62.3h0M350.0 56.2h0M343.6 57.9h0M346.2 65.6h0M342.1 71.2h0M345.0 58.6h0M351.4 64.5h0M346.4 55.8h0M343.2 52.8h0M353.5 68.3h0M357.0 64.9h0M349.6 66.4h0M352.6 60.5h0M349.7 74.4h0M343.4 66.4h0M353.7 60.0h0M351.2 61.7h0M349.4 58.9h0M347.9 62.0h0M353.4 74.9h0M348.0 67.6h0M353.1 66.5h0M351.9 56.5h0M353.8 56.5h0M354.2 65.9h0M343.2 68.7h0M344.7 57.7h0M352.9 58.1h0M356.9 66.0h0M345.4 55.0h0M354.3 55.9h0M348.0 60.4h0M346.8 64.9h0M358.1 58.3h0M352.1 68.3h0M346.6 61.1h0M345.4 58.2h0M348.3 57.0h0M343.0 60.3h0M355.2 60.8h0M350.5 53.5h0M346.1 53.1h0M347.5 65.5h0M349.3 56.7h0M351.8 67.6h0M350.1 59.5h0M347.8 58.3h0M347.4 63.8h0M346.6 67.6h0M360.5 58.8h0M349.7 66.8h0M351.1 60.6h0M345.7 67.8h0M351.0 64.9h0M344.1 65.7h0M351.8 60.9h0M351.1 74.6h0M342.3 54.1h0M346.9 65.2h0M348.3 55.2h0M348.1 57.2h0M343.9 61.1h0M345.3 58.6h0M348.2 60.3h0M351.0 55.1h0M347.6 66.5h0M353.7 65.2h0M348.2 53.0h0M351.3 65.3h0M342.9 55.1h0M348.8 56.1h0M355.7 58.4h0M345.3 67.0h0M349.6 56.8h0M352.0 73.2h0M342.8 50.7h0M351.0 66.1h0M352.7 64.5h0M344.8 55.1h0M342.6 66.5h0M346.6 73.5h0M350.3 50.9h0M352.3 69.3h0M348.2 54.9h0M356.6 54.3h0M347.6 50.9h0M353.3 68.9h0M346.0 54.1h0M347.7 64.2h0M347.5 66.1h0M348.4 64.6h0M349.5 56.6h0M347.4 59.8h0M350.3 57.5h0M355.0 62.2h0M350.6 65.7h0M353.1 64.4h0M357.1 64.8h0M350.7 64.7h0M344.9 58.0h0M344.8 68.8h0M349.8 72.4h0M350.4 73.1h0M350.2 55.1h0M356.5 64.0h0M353.8 63.3h0M346.4 63.0h0M342.5 55.0h0M343.6 58.9h0M349.5 73.9h0M357.0 61.7h0M352.3 60.7h0M349.9 61.8h0M345.3 62.4h0M346.6 55.6h0M346.2 65.3h0M344.7 64.8h0M350.8 71.2h0M342.7 61.3h0M350.5 70.9h0M349.3 66.5h0M356.2 60.3h0M358.6 57.7h0M346.6 52.6h0M351.1 63.6h0M357.9 63.0h0M346.8 53.7h0M347.6 67.6h0M351.7 69.3h0M352.3 61.7h0M351.0 63.0h0M349.8 55.8h0M349.9 63.7h0M352.9 70.6h0M355.6 56.4h0M349.7 64.1h0M342.5 59.2h0M349.0 66.4h0M358.8 63.7h0M345.0 48.0h0M353.3 61.2h0M347.5 56.1h0M351.6 51.3h0M348.5 62.7h0M349.5 69.8h0M347.5 62.6h0M352.2 52.8h0M346.6 62.4h0M352.7 57.2h0M352.0 64.3h0M349.0 66.3h0M352.1 58.7h0M353.3 66.9h0M350.3 64.9h0M342.9 54.9h0M346.3 62.8h0M347.7 60.0h0M343.0 63.1h0M344.3 53.6h0M348.5 70.7h0M346.0 55.7h0M354.9 72.2h0M346.5 60.7h0M349.1 79.6h0M348.7 67.9h0M350.2 51.1h0M342.5 54.6h0M350.2 62.6h0M356.9 60.4h0M349.5 62.4h0M348.7 75.8h0M349.4 70.8h0M354.5 58.4h0M351.4 59.7h0M348.5 62.9h0M348.1 59.2h0M355.8 60.4h0M351.5 72.0h0M351.1 68.1h0M354.9 68.5h0M356.6 53.5h0M357.8 62.2h0M349.5 62.9h0M344.0 60.6h0M347.5 62.4h0M348.0 60.7h0M352.4 52.4h0M345.5 62.8h0M346.0 58.7h0M345.8 63.3h0M354.2 60.9h0M346.7 64.1h0M346.8 50.4h0M349.3 59.7h0M345.1 65.8h0M348.2 58.6h0M348.1 61.3h0M350.2 63.3h0M345.6 54.4h0M342.5 61.2h0M342.3 66.5h0M347.0 51.4h0M356.1 56.0h0M347.7 60.5h0M343.9 51.4h0M353.1 75.0h0M347.9 67.1h0M345.4 66.3h0M352.5 65.6h0M355.2 61.0h0M355.7 57.8h0M356.3 45.5h0M348.1 57.2h0M348.0 68.2h0M351.6 62.6h0M356.5 53.1h0M343.9 71.1h0M349.6 49.6h0M349.7 54.9h0M355.4 68.9h0M345.3 69.8h0M343.8 67.5h0M350.9 61.2h0M343.2 47.4h0M350.9 64.2h0M345.5 74.7h0M351.9 62.4h0M344.8 44.3h0M350.4 67.8h0M345.0 53.5h0M347.8 52.0h0M348.0 66.6h0M355.5 63.6h0M349.0 66.5h0M355.0 60.1h0M347.4 64.1h0M348.8 62.4h0M346.2 64.5h0M352.4 66.6h0M355.5 60.3h0M346.7 72.2h0M349.0 64.5h0M346.3 67.8h0M346.0 56.0h0M347.7 59.3h0M352.2 59.7h0M348.6 60.7h0M349.7 58.2h0M353.5 53.5h0M346.1 57.7h0M351.2 62.2h0M350.4 60.0h0M344.4 55.3h0M346.3 58.8h0M349.4 64.1h0M352.9 61.4h0M344.3 55.6h0M348.3 64.2h0M357.7 63.1h0M356.8 73.2h0M342.8 69.3h0M353.7 70.1h0M348.0 67.7h0M345.6 61.6h0M348.1 72.7h0M346.9 67.7h0M348.3 57.7h0M349.2 66.0h0M344.4 65.8h0M344.4 56.7h0M349.1 60.6h0M343.1 52.2h0M348.1 63.5h0M345.7 63.1h0M350.1 63.7h0M344.9 62.5h0M348.7 68.4h0M349.4 63.5h0M344.4 67.2h0M353.9 59.0h0M351.2 63.8h0M347.8 54.3h0M356.8 50.8h0M349.5 59.7h0M353.7 59.5h0M348.2 65.7h0M350.3 58.9h0M351.4 64.3h0M352.9 58.9h0M347.8 59.7h0M343.8 63.5h0M350.0 70.5h0M346.4 64.3h0M353.7 61.3h0M348.3 62.8h0M344.6 56.1h0M353.6 63.0h0M347.6 54.6h0M348.6 69.0h0M342.3 56.7h0M353.5 70.6h0M355.7 58.7h0M351.0 57.5h0M350.6 59.8h0M349.0 70.0h0M349.7 60.6h0M348.3 63.6h0M345.4 63.2h0M351.0 71.3h0M360.1 63.2h0M348.6 68.8h0M345.5 59.1h0M349.7 58.5h0M353.5 62.0h0M349.9 77.1h0M345.8 67.5h0M343.9 69.4h0M352.8 62.8h0M352.9 71.6h0M354.8 62.0h0M347.7 68.6h0M350.4 65.4h0M357.2 72.5h0M349.6 64.6h0M349.3 60.7h0M348.3 65.6h0M343.3 58.6h0M342.8 51.9h0M351.8 60.7h0M352.8 59.8h0M358.5 66.2h0M348.7 62.7h0M347.0 66.8h0M357.9 59.5h0M342.6 65.5h0M353.3 53.1h0M344.6 56.1h0M350.8 65.0h0M344.4 55.3h0M351.4 49.8h0M351.2 61.1h0M357.5 67.9h0M345.1 60.4h0M346.6 57.7h0M348.4 67.7h0M355.4 66.4h0M344.0 57.2h0M343.8 52.5h0M353.7 62.4h0M344.6 53.5h0M346.1 59.0h0M356.5 59.3h0M348.6 68.3h0M351.3 60.9h0M350.9 59.4h0M347.6 56.4h0M343.6 53.2h0M350.5 65.1h0M348.9 66.6h0M350.6 62.7h0M343.7 65.5h0M353.8 65.7h0M354.1 59.2h0M343.2 69.4h0M345.1 63.4h0M347.1 62.1h0M346.7 58.8h0M349.0 50.7h0M343.5 55.4h0M344.4 47.0h0M350.8 71.7h0M346.8 66.4h0M350.9 54.7h0M354.0 52.1h0M345.2 59.9h0M354.2 62.7h0M347.4 57.3h0M348.4 62.2h0M351.6 70.2h0M351.6 62.1h0M347.3 71.4h0M349.0 61.9h0M356.8 71.2h0M350.8 61.4h0M344.9 68.3h0M345.8 67.6h0M344.2 62.6h0M350.0 62.9h0M349.1 64.2h0M342.5 55.5h0M347.3 72.6h0M347.4 56.6h0M344.8 62.2h0M353.8 58.7h0M350.7 63.1h0M346.3 56.5h0M347.3 57.8h0M350.6 51.7h0M353.5 66.4h0M350.8 70.8h0M350.9 52.0h0M348.3 64.6h0M344.7 55.4h0M350.1 65.0h0M345.9 60.6h0M345.5 58.7h0M347.7 68.3h0M355.9 63.9h0M348.8 66.9h0M343.1 54.9h0M349.2 67.0h0M346.0 58.0h0M350.0 65.6h0M349.3 50.9h0M345.3 47.2h0M349.2 57.0h0M344.8 70.8h0M354.4 64.8h0M349.3 63.0h0M345.1 61.7h0M357.3 56.9h0M344.8 62.9h0M352.3 66.9h0M343.3 61.2h0M346.7 54.8h0M348.4 59.2h0M352.5 64.5h0M344.2 62.5h0M346.3 58.3h0M345.6 68.2h0M346.0 52.0h0M344.2 66.7h0M358.5 55.9h0M346.3 60.1h0M347.8 63.6h0M358.9 60.4h0M351.9 66.9h0M344.9 58.5h0M355.6 66.2h0M348.7 55.6h0M352.3 65.1h0M358.7 70.6h0M351.9 63.6h0M348.3 58.8h0M349.5 63.4h0M351.2 68.3h0M349.5 58.8h0M351.9 71.1h0M343.9 64.5h0M350.7 65.1h0M350.5 61.5h0M347.5 71.8h0M356.4 53.8h0M344.7 59.0h0M347.7 58.9h0M352.4 76.2h0M355.2 68.8h0M346.0 65.8h0M347.8 68.7h0M350.8 61.8h0M350.7 57.8h0M351.9 70.8h0M346.2 65.2h0M352.3 56.1h0M356.5 62.7h0M352.2 60.4h0M353.4 53.0h0M347.5 67.7h0M344.7 66.0h0M346.3 64.0h0M349.6 75.0h0M354.4 55.4h0M348.4 75.5h0M353.1 44.7h0M346.8 52.0h0M349.5 57.8h0M345.3 57.1h0M349.4 59.3h0M343.6 60.7h0M350.0 57.0h0M353.4 52.3h0M350.0 59.7h0M355.6 58.3h0M344.8 54.2h0M357.6 65.6h0M342.7 60.0h0M343.3 70.9h0M350.0 50.1h0M349.0 67.3h0M348.0 64.8h0M347.5 63.2h0M349.0 57.9h0M349.7 63.0h0M347.8 58.0h0M343.1 63.4h0M352.0 47.9h0M345.4 69.9h0M352.4 57.8h0M354.6 56.2h0M344.2 73.3h0M345.9 60.7h0M342.3 61.2h0M346.3 58.5h0M344.9 66.3h0M355.5 59.6h0M371.7 86.3h0M370.9 82.0h0M362.7 83.2h0M365.8 81.6h0M361.5 80.1h0M367.7 77.9h0M367.9 86.5h0M367.7 78.7h0M374.0 73.9h0M364.3 82.4h0M365.3 73.4h0M367.8 83.8h0M364.7 85.9h0M368.5 84.9h0M362.5 81.0h0M370.9 81.0h0M367.5 78.9h0M370.2 78.7h0M367.4 74.2h0M362.6 86.9h0M367.2 81.7h0M360.6 80.9h0M373.1 76.0h0M360.0 80.5h0M365.4 80.3h0M363.3 76.5h0M363.4 83.1h0M366.9 83.7h0M363.8 83.0h0M365.7 81.3h0M369.7 81.1h0M366.0 75.5h0M367.2 83.6h0M365.1 80.8h0M361.8 76.6h0M368.2 85.3h0M366.1 75.4h0M365.9 75.8h0M366.2 87.4h0M367.9 80.5h0M370.0 79.7h0M368.0 81.7h0M368.3 76.1h0M369.1 83.9h0M360.3 72.0h0M364.4 86.0h0M367.1 83.3h0M368.6 84.0h0M365.1 79.0h0M368.1 83.0h0M368.7 82.1h0M365.6 84.7h0M368.4 84.6h0M359.5 84.4h0M359.8 81.7h0M365.0 81.4h0M365.6 80.0h0M367.6 82.2h0M364.6 72.5h0M364.7 82.8h0M364.5 82.4h0M365.9 77.8h0M370.5 86.6h0M366.7 80.8h0M369.8 76.5h0M364.4 84.8h0M369.7 79.3h0M364.7 82.2h0M362.8 79.3h0M366.3 72.7h0M368.8 83.6h0M370.2 76.2h0M363.2 78.3h0M364.1 79.9h0M367.6 82.5h0M371.3 77.3h0M369.6 81.5h0M363.5 81.5h0M362.8 86.5h0M364.8 84.4h0M370.9 78.9h0M364.3 81.4h0M363.9 84.0h0M367.5 78.4h0M365.0 83.4h0M362.7 86.7h0M364.7 80.3h0M364.2 86.5h0M369.5 85.4h0M368.9 81.3h0M372.1 83.2h0M368.3 83.0h0M369.2 81.9h0M366.5 75.6h0M373.1 76.6h0M360.6 78.6h0M372.8 85.1h0M365.2 81.9h0M366.9 74.3h0M366.0 82.0h0M370.5 76.9h0M360.3 75.7h0M368.0 81.3h0M367.4 81.5h0M365.9 76.4h0M368.4 82.3h0M368.7 85.2h0M363.3 73.1h0M364.3 82.4h0M367.0 83.5h0M376.6 79.2h0M366.5 79.0h0M367.7 82.8h0M364.1 85.5h0M370.4 82.5h0M366.7 80.2h0M362.1 83.2h0M364.1 79.3h0M370.0 77.9h0M365.4 83.9h0M372.6 78.7h0M370.3 78.8h0M368.2 82.6h0M363.6 84.5h0M372.4 81.2h0M367.8 77.0h0M372.4 81.2h0M363.2 83.6h0M362.6 78.7h0M360.6 85.7h0M373.6 78.8h0M365.0 79.0h0M365.3 82.9h0M371.4 77.6h0M368.3 74.9h0M371.6 80.7h0M364.9 86.2h0M366.7 85.7h0M370.2 86.6h0M364.6 81.2h0M368.1 80.3h0M371.6 78.6h0M370.0 85.6h0M361.1 77.7h0M364.3 79.1h0M368.2 80.4h0M367.2 79.4h0M366.8 82.6h0M369.2 78.3h0M366.7 78.4h0M366.5 76.1h0M369.9 83.3h0M366.6 78.7h0M365.6 78.7h0M362.4 86.6h0M376.9 76.8h0M363.5 83.0h0M368.8 75.7h0M361.2 82.8h0M361.0 85.8h0M365.5 81.3h0M367.0 79.1h0M366.6 80.0h0M370.7 80.7h0M366.9 79.2h0M365.1 78.5h0M367.0 87.2h0M370.3 81.8h0M372.0 84.4h0M367.6 80.4h0M363.7 81.8h0M366.1 75.6h0M363.1 87.6h0M367.6 82.7h0M367.6 79.4h0M368.4 84.7h0M366.1 82.7h0M370.1 79.4h0M367.5 78.5h0M368.8 79.7h0M370.4 78.4h0M372.1 79.9h0M364.5 77.9h0M369.0 78.1h0M372.4 85.4h0M368.6 76.2h0M366.9 78.5h0M361.6 82.4h0M373.6 79.2h0M369.4 85.4h0M364.1 79.8h0M367.8 82.6h0M363.6 81.7h0M366.7 84.2h0M362.2 79.1h0M365.5 79.9h0M369.2 78.9h0M375.2 78.6h0M369.5 84.5h0M369.9 80.3h0M364.5 80.1h0M369.0 81.4h0M368.7 83.0h0M364.3 77.8h0M371.3 79.3h0M362.2 87.3h0M364.5 77.8h0M369.9 77.2h0M364.4 84.6h0M367.4 81.2h0M365.1 80.2h0M365.5 80.9h0M369.3 76.7h0M364.2 73.9h0M371.5 80.7h0M367.0 80.8h0M370.0 82.1h0M369.6 80.4h0M366.6 80.8h0M361.4 84.7h0M362.3 77.6h0M369.0 81.2h0M369.4 86.8h0M372.6 85.7h0M364.4 80.7h0M370.0 80.3h0M366.6 79.8h0M371.1 72.6h0M370.8 84.6h0M366.8 82.9h0M364.1 84.8h0M376.2 77.9h0M371.2 80.8h0M366.0 79.3h0M366.4 76.7h0M362.9 86.7h0M366.9 82.9h0M367.9 82.6h0M362.4 77.8h0M368.9 84.4h0M363.6 79.0h0M363.8 83.2h0M368.0 81.1h0M365.1 82.2h0M367.1 78.5h0M368.0 78.7h0M369.9 83.1h0M364.9 83.0h0M367.2 78.6h0M364.3 75.3h0M363.6 82.2h0M370.6 78.9h0M367.5 82.2h0M369.3 82.5h0M370.7 83.6h0M364.7 82.3h0M360.0 80.4h0M367.1 83.0h0M366.1 83.8h0M371.0 78.1h0M365.4 81.9h0M368.5 81.5h0M369.5 77.0h0M369.3 85.0h0M370.3 82.5h0M366.3 82.4h0M366.8 75.6h0M365.2 80.9h0M365.5 77.8h0M366.3 79.7h0M367.2 80.8h0M367.5 84.4h0M367.4 82.4h0M363.3 71.0h0M365.8 83.3h0M366.0 78.9h0M363.3 84.0h0M365.4 81.8h0M370.4 82.8h0M373.7 80.5h0M369.9 83.4h0M365.0 81.2h0M365.3 77.5h0M367.9 78.4h0M372.0 78.5h0M365.4 81.3h0M365.4 81.2h0M365.2 76.2h0M359.8 76.6h0M371.6 82.5h0M367.5 79.4h0M366.6 82.0h0M362.8 78.3h0M364.3 85.3h0M351.8 81.7h0M354.8 77.1h0M359.1 80.5h0M357.8 72.7h0M358.4 83.7h0M354.7 75.1h0M351.7 81.1h0M355.9 77.0h0M351.3 83.5h0M357.6 76.9h0M359.4 73.2h0M357.6 73.0h0M359.2 75.9h0M358.7 75.3h0M356.2 81.6h0M352.3 77.4h0M352.5 80.4h0M353.2 75.5h0M354.4 81.7h0M351.9 76.9h0M354.0 74.8h0M352.6 76.4h0M355.6 70.8h0M355.7 72.3h0M355.0 86.1h0M352.1 76.7h0M354.2 80.9h0M353.6 69.9h0M350.2 77.7h0M355.8 81.3h0M353.4 79.7h0M351.8 82.2h0M354.8 74.3h0M355.5 84.0h0M352.5 72.0h0M352.0 72.4h0M354.8 78.4h0M354.5 77.8h0M358.6 75.8h0M351.2 67.9h0M355.7 74.3h0M354.3 78.6h0M356.4 70.7h0M352.1 77.3h0M354.6 81.6h0M353.5 68.7h0M358.5 70.5h0M352.1 78.6h0M351.8 87.0h0M355.7 79.1h0M353.7 85.9h0M356.6 74.1h0M358.8 70.2h0M353.2 78.2h0M355.4 73.2h0M359.7 82.9h0M352.2 78.5h0M353.1 75.3h0M358.0 77.5h0M354.7 77.4h0M351.5 81.9h0M352.7 82.2h0M353.6 75.2h0M359.5 77.8h0M353.1 74.9h0M356.8 84.5h0M356.8 75.4h0M351.6 74.3h0M354.6 78.0h0M353.0 82.1h0M352.1 74.1h0M356.5 78.9h0M353.8 80.8h0M350.8 83.5h0M361.6 84.8h0M355.4 84.9h0M355.2 82.3h0M354.4 77.8h0M356.6 70.0h0M354.4 83.9h0M346.2 78.5h0M357.8 78.3h0M355.6 82.5h0M356.0 69.4h0M352.2 75.8h0M355.4 75.2h0M354.7 83.7h0M346.2 81.6h0M357.8 79.4h0M355.0 77.3h0M356.1 78.0h0M352.8 80.1h0M352.5 76.8h0M353.9 72.4h0M356.8 76.7h0M351.5 76.7h0M350.9 82.7h0M356.5 84.9h0M353.3 79.8h0M352.1 73.6h0M354.7 78.6h0M357.8 75.9h0M358.3 80.9h0M352.4 76.3h0M352.3 83.8h0M353.4 80.5h0M357.7 76.0h0M353.5 78.4h0M352.7 72.0h0M352.1 78.4h0M355.6 84.0h0M349.5 79.0h0M351.6 81.6h0M357.1 77.5h0M359.4 75.5h0M353.4 72.8h0M353.0 77.5h0M357.0 82.1h0M354.2 74.1h0M354.0 75.3h0M353.6 75.4h0M352.4 76.8h0M353.5 76.3h0M350.9 77.6h0M356.7 79.6h0M353.4 72.5h0M351.1 72.3h0M353.1 75.8h0M349.7 79.7h0M350.4 74.3h0M352.9 80.3h0M360.5 75.6h0M354.2 75.4h0M354.4 76.3h0M362.3 72.7h0M354.7 73.9h0M356.1 74.9h0M356.7 72.7h0M361.3 77.8h0M349.7 79.8h0M353.6 72.4h0M356.3 75.0h0M357.2 74.8h0M357.7 77.6h0M356.1 77.6h0M353.9 75.6h0M356.3 79.8h0M353.8 85.8h0M360.0 72.5h0M358.2 76.7h0M355.7 73.9h0M359.9 73.7h0M354.8 74.1h0M360.7 82.0h0M351.1 75.2h0M356.1 75.3h0M354.0 72.8h0M355.7 72.7h0M357.5 86.5h0M354.0 83.5h0M356.1 74.4h0M354.0 73.2h0M355.3 79.8h0M357.8 75.9h0M351.5 76.7h0M360.0 78.1h0M354.8 68.8h0M353.7 79.1h0M352.2 82.3h0M353.3 73.6h0M353.3 76.6h0M358.0 74.8h0M349.7 76.7h0M356.5 83.1h0M351.7 82.8h0M357.0 78.8h0M352.7 73.5h0M352.2 80.7h0M355.6 81.2h0M360.4 77.1h0M354.9 84.5h0M351.1 75.3h0M353.9 75.5h0M355.4 73.7h0M358.4 71.7h0M352.6 70.4h0M350.9 79.3h0M356.9 76.2h0M357.5 79.4h0M353.3 76.9h0M356.1 84.9h0M353.7 78.5h0M356.6 81.8h0M356.3 81.2h0M351.9 76.0h0M349.3 76.8h0M361.9 78.0h0M355.3 78.1h0M355.4 71.8h0" stroke="#000" stroke-width="0.6" stroke-linecap="square" stroke-opacity="0.8" fill="none"/>
<rect x="341.5" y="21" width="70.0" height="67.2" fill="none" stroke="#111" stroke-width="0.65"/>
<line x1="358.3" y1="21" x2="358.3" y2="88.2" stroke="#000" stroke-width="0.62"/>
<line x1="341.5" y1="71.5" x2="411.5" y2="71.5" stroke="#000" stroke-width="0.62"/>
<line x1="338.5" y1="88.2" x2="341.5" y2="88.2" stroke="#000" stroke-width="0.6" stroke-opacity="0.75"/>
<line x1="341.5" y1="88.2" x2="341.5" y2="90.7" stroke="#000" stroke-width="0.6" stroke-opacity="0.75"/>
<text x="335.2" y="88.8" font-size="2.8" fill-opacity="0.55" style="stroke:none">10<tspan dy="-1" font-size="2">0</tspan></text>
<line x1="338.5" y1="71.4" x2="341.5" y2="71.4" stroke="#000" stroke-width="0.6" stroke-opacity="0.75"/>
<line x1="359.0" y1="88.2" x2="359.0" y2="90.7" stroke="#000" stroke-width="0.6" stroke-opacity="0.75"/>
<text x="335.2" y="72.0" font-size="2.8" fill-opacity="0.55" style="stroke:none">10<tspan dy="-1" font-size="2">1</tspan></text>
<text x="356.8" y="93.8" font-size="2.8" fill-opacity="0.55" style="stroke:none">10<tspan dy="-1" font-size="2">1</tspan></text>
<line x1="338.5" y1="54.6" x2="341.5" y2="54.6" stroke="#000" stroke-width="0.6" stroke-opacity="0.75"/>
<line x1="376.5" y1="88.2" x2="376.5" y2="90.7" stroke="#000" stroke-width="0.6" stroke-opacity="0.75"/>
<text x="335.2" y="55.2" font-size="2.8" fill-opacity="0.55" style="stroke:none">10<tspan dy="-1" font-size="2">2</tspan></text>
<text x="374.3" y="93.8" font-size="2.8" fill-opacity="0.55" style="stroke:none">10<tspan dy="-1" font-size="2">2</tspan></text>
<line x1="338.5" y1="37.8" x2="341.5" y2="37.8" stroke="#000" stroke-width="0.6" stroke-opacity="0.75"/>
<line x1="394.0" y1="88.2" x2="394.0" y2="90.7" stroke="#000" stroke-width="0.6" stroke-opacity="0.75"/>
<text x="335.2" y="38.4" font-size="2.8" fill-opacity="0.55" style="stroke:none">10<tspan dy="-1" font-size="2">3</tspan></text>
<text x="391.8" y="93.8" font-size="2.8" fill-opacity="0.55" style="stroke:none">10<tspan dy="-1" font-size="2">3</tspan></text>
<line x1="338.5" y1="21.0" x2="341.5" y2="21.0" stroke="#000" stroke-width="0.6" stroke-opacity="0.75"/>
<line x1="411.5" y1="88.2" x2="411.5" y2="90.7" stroke="#000" stroke-width="0.6" stroke-opacity="0.75"/>
<text x="335.2" y="21.6" font-size="2.8" fill-opacity="0.55" style="stroke:none">10<tspan dy="-1" font-size="2">4</tspan></text>
<text x="409.3" y="93.8" font-size="2.8" fill-opacity="0.55" style="stroke:none">10<tspan dy="-1" font-size="2">4</tspan></text>
<path d="M340.20 83.14h1.3M346.77 88.2v1.3M340.20 80.18h1.3M349.85 88.2v1.3M340.20 78.09h1.3M352.04 88.2v1.3M340.20 76.46h1.3M353.73 88.2v1.3M340.20 75.13h1.3M355.12 88.2v1.3M340.20 74.00h1.3M356.29 88.2v1.3M340.20 73.03h1.3M357.30 88.2v1.3M340.20 72.17h1.3M358.20 88.2v1.3M340.20 66.34h1.3M364.27 88.2v1.3M340.20 63.38h1.3M367.35 88.2v1.3M340.20 61.29h1.3M369.54 88.2v1.3M340.20 59.66h1.3M371.23 88.2v1.3M340.20 58.33h1.3M372.62 88.2v1.3M340.20 57.20h1.3M373.79 88.2v1.3M340.20 56.23h1.3M374.80 88.2v1.3M340.20 55.37h1.3M375.70 88.2v1.3M340.20 49.54h1.3M381.77 88.2v1.3M340.20 46.58h1.3M384.85 88.2v1.3M340.20 44.49h1.3M387.04 88.2v1.3M340.20 42.86h1.3M388.73 88.2v1.3M340.20 41.53h1.3M390.12 88.2v1.3M340.20 40.40h1.3M391.29 88.2v1.3M340.20 39.43h1.3M392.30 88.2v1.3M340.20 38.57h1.3M393.20 88.2v1.3M340.20 32.74h1.3M399.27 88.2v1.3M340.20 29.78h1.3M402.35 88.2v1.3M340.20 27.69h1.3M404.54 88.2v1.3M340.20 26.06h1.3M406.23 88.2v1.3M340.20 24.73h1.3M407.62 88.2v1.3M340.20 23.60h1.3M408.79 88.2v1.3M340.20 22.63h1.3M409.80 88.2v1.3M340.20 21.77h1.3M410.70 88.2v1.3" stroke="#000" stroke-width="0.4" stroke-opacity="0.55" fill="none"/>
<text x="357.6" y="29" font-size="6.2" text-anchor="end" style="stroke-width:0.1px">39%</text>
<text x="409.6" y="84" font-size="6.2" text-anchor="end" style="stroke-width:0.1px">12%</text>
<text x="342.7" y="24.4" font-size="3.3" fill-opacity="0.8" style="stroke:none">R1</text>
<text x="359.5" y="24.4" font-size="3.3" fill-opacity="0.8" style="stroke:none">R2</text>
<text x="342.7" y="74.9" font-size="3.3" fill-opacity="0.8" style="stroke:none">R3</text>
<text x="359.5" y="74.9" font-size="3.3" fill-opacity="0.8" style="stroke:none">R4</text>
<text x="335" y="87.5" font-size="7" transform="rotate(-90 335 87.5)">CD3</text>
<line x1="332.5" y1="71.3" x2="332.5" y2="48" stroke="#000" stroke-width="0.9"/>
<path d="M332.5 44.5L330.2 49.2L334.8 49.2Z" fill="#000"/>
<text x="341.3" y="99.3" font-size="7.2">DX5</text>
<line x1="364.3" y1="96.8" x2="387" y2="96.8" stroke="#000" stroke-width="0.9"/>
<path d="M390.5 96.8L385.8 94.5L385.8 99.1Z" fill="#000"/>
<path d="M440.6 73.0h0M452.8 72.9h0M440.5 78.1h0M439.7 46.4h0M441.4 62.8h0M435.1 61.9h0M431.6 58.4h0M447.4 83.1h0M438.7 81.4h0M428.8 67.2h0M447.3 78.6h0M436.6 52.2h0M453.8 71.2h0M444.6 59.9h0M428.4 69.5h0M437.1 83.3h0M444.9 77.5h0M442.1 77.4h0M442.4 70.7h0M430.7 48.9h0M446.2 76.2h0M445.0 56.0h0M439.6 78.0h0M444.2 84.1h0M427.7 78.3h0M425.4 71.9h0M441.0 48.2h0M437.6 73.7h0M451.0 48.3h0M440.3 79.2h0M428.5 83.4h0M453.2 59.7h0M431.3 51.3h0M431.6 63.0h0M446.2 85.3h0M441.8 86.0h0M437.8 73.3h0M425.0 63.0h0M425.7 50.7h0M449.3 49.9h0M434.0 67.6h0M440.8 46.3h0M428.3 74.1h0M437.1 49.0h0M439.4 61.0h0M455.0 47.1h0M430.4 48.2h0M441.5 86.3h0M448.3 49.8h0M441.2 60.4h0M454.3 75.4h0M443.1 56.0h0M438.1 67.6h0M436.4 69.3h0M427.7 63.1h0M454.6 62.2h0M440.2 77.4h0M449.4 76.7h0M436.4 75.6h0M431.0 71.5h0M425.5 53.3h0M430.3 60.1h0M447.1 45.9h0M451.3 48.9h0M453.5 85.8h0M443.4 81.1h0M453.2 64.3h0M450.7 46.5h0M448.4 72.9h0M448.4 72.2h0M452.2 78.0h0M443.2 70.3h0M450.2 80.8h0M451.0 74.3h0M452.3 63.5h0M446.0 70.2h0M444.1 77.8h0M449.1 76.4h0M447.5 78.0h0M451.1 72.2h0M451.7 70.5h0M454.8 68.6h0M446.9 69.7h0M448.2 81.4h0M445.2 83.7h0M453.5 76.9h0M445.8 79.4h0M437.0 71.3h0M451.8 74.8h0M457.6 71.7h0M442.9 73.9h0M450.3 83.3h0M441.3 75.8h0M452.9 71.7h0M446.3 69.1h0M451.0 79.1h0M450.3 76.2h0M451.9 74.4h0M450.8 79.0h0M453.1 77.5h0M448.4 78.5h0M442.1 66.4h0M454.3 75.7h0M444.0 72.2h0M447.5 75.4h0M445.1 79.9h0M443.9 83.2h0M450.6 66.7h0M458.5 54.5h0M482.4 28.9h0M440.3 21.9h0M458.4 51.4h0M490.0 83.4h0M452.6 54.2h0M432.1 71.5h0M460.3 32.2h0M484.6 23.9h0M438.1 53.0h0M492.8 30.3h0M443.1 74.0h0M447.9 83.2h0M426.3 36.9h0M446.1 77.8h0M431.9 66.2h0M485.3 86.3h0M479.8 24.4h0M457.9 35.6h0M433.3 37.3h0" stroke="#000" stroke-width="0.6" stroke-linecap="square" stroke-opacity="0.45" fill="none"/>
<path d="M439.8 60.9h0M439.5 60.3h0M435.2 63.9h0M427.9 65.7h0M432.1 49.7h0M429.9 59.6h0M429.9 58.9h0M430.6 51.2h0M438.4 64.4h0M435.3 62.6h0M434.3 62.7h0M428.6 56.1h0M434.4 69.4h0M435.2 72.5h0M427.3 62.7h0M431.0 70.5h0M442.3 61.3h0M437.6 62.8h0M429.1 63.5h0M428.9 72.2h0M436.9 70.3h0M435.8 51.3h0M437.9 64.5h0M439.0 73.0h0M429.0 68.2h0M435.6 63.1h0M432.6 66.8h0M436.8 67.5h0M432.0 57.1h0M440.5 70.9h0M431.2 63.9h0M438.0 54.8h0M436.5 76.7h0M435.3 60.3h0M444.0 64.1h0M435.0 61.8h0M434.9 54.6h0M427.7 56.3h0M438.4 63.5h0M439.7 53.3h0M431.1 71.7h0M430.1 54.2h0M430.3 62.2h0M433.9 70.9h0M440.5 72.2h0M436.9 61.4h0M431.6 56.2h0M440.3 70.6h0M434.4 59.3h0M437.3 66.6h0M434.8 57.9h0M435.2 61.0h0M437.6 67.2h0M436.2 61.8h0M441.5 68.1h0M440.2 68.4h0M437.3 66.1h0M428.7 54.4h0M429.4 67.2h0M438.5 65.0h0M434.4 73.7h0M432.0 54.6h0M426.4 62.3h0M437.4 67.9h0M432.9 68.3h0M433.8 60.2h0M432.1 68.0h0M438.7 58.1h0M429.1 64.7h0M444.4 57.8h0M427.9 66.2h0M436.5 60.8h0M433.9 66.6h0M425.4 63.9h0M436.9 68.9h0M439.7 63.6h0M426.9 71.1h0M437.8 60.6h0M439.1 69.5h0M433.3 51.6h0M431.7 60.0h0M429.9 63.6h0M428.7 66.1h0M443.3 57.7h0M439.1 61.2h0M436.7 63.3h0M440.3 60.3h0M437.6 59.9h0M435.1 63.9h0M439.3 55.7h0M427.4 71.3h0M435.9 73.0h0M429.0 65.1h0M437.0 73.3h0M433.7 61.6h0M437.5 63.5h0M430.3 68.0h0M440.7 61.4h0M432.4 66.0h0M439.5 66.8h0M429.3 61.0h0M439.1 63.4h0M430.9 68.6h0M439.6 75.5h0M428.7 60.3h0M430.6 65.9h0M431.7 69.9h0M430.9 62.6h0M436.8 65.1h0M429.1 71.9h0M436.8 61.4h0M435.0 58.2h0M428.0 62.4h0M435.8 64.5h0M430.2 56.7h0M425.8 72.4h0M435.8 59.8h0M439.8 66.9h0M432.0 60.8h0M439.6 65.7h0M442.0 65.9h0M431.1 60.8h0M430.6 65.3h0M435.2 67.2h0M436.2 58.5h0M433.0 59.0h0M436.4 57.1h0M431.2 59.5h0M431.0 62.6h0M441.4 62.7h0M427.0 62.4h0M437.6 66.9h0M435.2 74.5h0M439.4 64.5h0M439.9 56.9h0M433.2 59.4h0M434.9 72.5h0M431.6 72.4h0M429.0 71.5h0M425.8 59.5h0M438.9 63.5h0M434.7 63.9h0M434.9 63.1h0M429.2 62.5h0M434.5 59.3h0M436.3 73.3h0M426.0 61.1h0M432.6 64.1h0M434.5 60.2h0M433.8 64.0h0M433.6 72.1h0M434.6 56.2h0M426.4 67.1h0M432.3 60.7h0M427.4 62.4h0M433.6 60.4h0M432.3 68.7h0M437.8 66.9h0M433.2 56.8h0M437.8 71.9h0M440.2 70.1h0M435.3 66.0h0M433.9 70.6h0M432.7 75.3h0M437.8 62.3h0M434.0 55.5h0M430.4 62.4h0M445.9 59.7h0M438.5 64.4h0M432.6 67.3h0M443.4 65.6h0M433.7 64.8h0M437.2 61.4h0M434.6 66.7h0M432.3 66.1h0M435.6 67.8h0M429.2 61.2h0M431.9 70.3h0M435.2 55.3h0M427.8 74.2h0M435.6 57.2h0M429.6 64.8h0M440.9 72.5h0M432.2 62.4h0M443.3 58.8h0M441.6 65.8h0M434.5 70.8h0M436.3 59.6h0M426.6 64.1h0M436.5 71.2h0M437.0 72.0h0M437.9 65.1h0M436.1 66.1h0M431.0 63.4h0M434.6 61.6h0M426.9 56.4h0M436.5 66.8h0M434.5 57.8h0M438.1 61.9h0M426.8 75.9h0M436.6 61.7h0M441.2 71.2h0M435.3 55.0h0M432.2 62.5h0M436.2 63.3h0M435.7 55.4h0M430.9 71.6h0M426.9 68.9h0M445.2 67.4h0M427.3 70.6h0M425.0 65.8h0M432.0 70.5h0M439.7 65.0h0M442.7 69.2h0M431.7 58.8h0M446.0 61.9h0M436.0 63.4h0M431.7 55.5h0M433.3 63.4h0M438.8 61.3h0M426.4 58.3h0M433.8 65.3h0M437.5 62.0h0M436.6 64.8h0M442.2 63.7h0M434.7 67.0h0M439.9 59.1h0M431.7 62.5h0M439.2 64.1h0M450.3 70.7h0M443.8 72.3h0M438.4 56.5h0M441.4 66.2h0M428.2 64.3h0M437.7 69.2h0M434.9 61.2h0M437.7 60.0h0M433.6 68.0h0M427.0 66.0h0M428.0 63.5h0M437.5 63.7h0M438.4 64.5h0M433.0 66.6h0M432.8 64.7h0M439.1 61.0h0M439.6 58.1h0M432.9 54.8h0M431.4 72.4h0M435.7 70.7h0M426.9 58.6h0M436.3 68.4h0M438.1 55.1h0M436.5 63.6h0M434.6 66.5h0M432.6 55.0h0M428.8 56.3h0M427.6 63.3h0M440.4 60.2h0M430.3 57.9h0M425.6 64.4h0M431.6 62.7h0M429.3 66.6h0M428.2 66.9h0M430.8 68.2h0M429.7 66.4h0M436.1 63.6h0M441.9 64.9h0M429.7 67.7h0M430.0 61.1h0M434.1 65.0h0M442.3 54.7h0M432.7 70.0h0M433.2 65.7h0M441.4 57.5h0M434.2 68.2h0M431.1 54.7h0M429.1 65.0h0M434.9 73.8h0M440.5 55.8h0M439.1 68.9h0M441.9 63.2h0M431.3 64.8h0M441.5 67.3h0M442.3 68.2h0M431.1 58.6h0M443.0 56.0h0M432.3 62.3h0M429.6 61.0h0M434.0 76.6h0M433.7 61.2h0M434.6 69.0h0M430.0 61.8h0M425.5 67.7h0M437.3 72.0h0M428.2 75.6h0M438.3 62.5h0M432.1 62.4h0M428.1 68.1h0M431.0 60.2h0M436.5 64.6h0M431.2 62.8h0M431.6 71.2h0M438.9 60.1h0M433.8 71.3h0M432.6 73.5h0M436.2 67.6h0M435.7 67.1h0M436.3 66.8h0M431.5 68.8h0M434.3 58.4h0M429.0 64.9h0M435.6 52.3h0M433.9 79.2h0M426.5 62.7h0M431.1 67.0h0M440.9 72.6h0M429.1 70.6h0M428.1 65.6h0M434.8 67.3h0M430.1 71.1h0M433.7 63.9h0M432.7 58.3h0M437.5 65.8h0M436.2 73.9h0M429.8 62.5h0M434.0 68.6h0M433.1 69.0h0M436.2 54.6h0M430.7 53.2h0M432.6 61.8h0M436.9 64.9h0M433.7 70.7h0M436.9 57.4h0M430.6 65.8h0M442.3 62.9h0M433.2 65.4h0M437.8 63.5h0M435.4 61.8h0M431.3 59.8h0M437.2 61.0h0M436.7 66.2h0M438.8 49.7h0M429.3 57.5h0M433.2 68.3h0M446.4 72.2h0M440.6 66.0h0M432.1 66.9h0M434.0 67.3h0M429.0 58.2h0M430.9 63.8h0M435.7 62.1h0M435.7 67.6h0M428.3 63.5h0M426.4 61.1h0M438.4 60.2h0M443.1 66.7h0M438.3 64.6h0M438.2 69.8h0M434.5 61.2h0M431.3 74.3h0M433.1 61.6h0M430.5 55.0h0M431.6 65.7h0M431.6 59.9h0M436.0 66.5h0M431.9 65.6h0M429.2 68.6h0M429.2 62.2h0M434.7 61.8h0M428.4 75.2h0M441.4 54.7h0M434.6 57.2h0M435.5 57.0h0M436.8 66.8h0M442.3 70.4h0M431.8 69.1h0M431.8 63.4h0M431.6 54.6h0M436.9 53.1h0M432.8 66.8h0M434.6 55.6h0M430.8 67.6h0M439.4 72.5h0M425.1 66.5h0M431.6 68.1h0M425.8 63.2h0M437.5 60.5h0M432.2 58.8h0M439.4 56.9h0M429.5 62.2h0M432.5 75.3h0M435.3 59.5h0M436.8 65.8h0M435.4 63.7h0M436.3 57.7h0M428.1 61.7h0M428.6 67.8h0M443.5 70.6h0M436.2 65.8h0M430.7 57.0h0M436.7 56.1h0M435.5 63.2h0M437.7 64.3h0M434.5 60.9h0M425.6 62.2h0M437.4 69.6h0M440.7 58.7h0M429.4 67.8h0M431.8 77.8h0M435.5 55.9h0M431.3 72.4h0M425.1 64.8h0M427.2 72.6h0M431.8 58.5h0M425.7 60.2h0M444.7 64.5h0M432.7 57.8h0M435.7 61.5h0M429.9 71.4h0M436.1 59.2h0M441.2 63.7h0M436.5 64.8h0M439.8 67.3h0M432.3 67.8h0M432.1 64.7h0M442.0 58.3h0M428.9 61.9h0M431.6 71.0h0M426.2 76.3h0M441.7 61.6h0M434.9 62.1h0M437.3 67.6h0M437.7 68.1h0M443.4 63.1h0M437.4 63.0h0M434.2 65.2h0M433.7 65.9h0M429.8 63.2h0M431.0 57.7h0M430.5 61.3h0M433.3 55.6h0M432.7 57.9h0M430.0 65.0h0M439.4 65.5h0M431.6 61.6h0M440.6 55.3h0M439.6 55.9h0M430.9 64.2h0M432.9 72.9h0M436.4 63.7h0M438.7 64.2h0M430.1 70.0h0M441.3 70.9h0M428.3 74.2h0M432.0 68.1h0M439.8 76.8h0M426.1 58.5h0M439.8 66.7h0M432.5 48.3h0M436.2 63.0h0M434.0 65.3h0M437.7 62.6h0M429.6 62.1h0M443.7 60.3h0M433.6 74.2h0M439.2 64.7h0M437.6 62.6h0M429.6 69.4h0M434.7 72.6h0M432.7 62.0h0M435.7 63.0h0M432.5 59.2h0M435.2 65.7h0M443.0 63.9h0M425.4 66.5h0M445.2 61.6h0M430.1 63.1h0M433.1 55.9h0M436.8 59.3h0M424.9 60.1h0M437.1 74.3h0M440.1 65.1h0M431.5 62.6h0M438.7 61.2h0M436.0 69.2h0M429.6 60.8h0M436.2 64.0h0M433.4 61.2h0M433.7 74.0h0M440.7 55.3h0M434.2 64.5h0M434.2 56.6h0M433.4 64.8h0M430.7 65.7h0M434.5 66.1h0M433.2 61.5h0M434.9 69.8h0M438.4 63.6h0M431.7 69.7h0M436.7 68.8h0M432.6 59.4h0M434.9 60.6h0M439.6 68.6h0M440.5 69.6h0M431.7 59.4h0M438.8 69.5h0M434.3 57.8h0M426.5 65.4h0M429.9 60.3h0M436.2 69.7h0M440.4 63.8h0M432.3 67.4h0M428.4 57.4h0M434.1 72.4h0M439.0 64.0h0M439.0 61.8h0M428.2 55.0h0M435.3 68.8h0M435.8 63.8h0M432.0 69.9h0M433.8 56.2h0M440.7 60.5h0M435.9 64.0h0M439.2 65.3h0M440.0 65.1h0M431.7 61.3h0M437.2 59.5h0M438.6 62.7h0M429.4 59.3h0M433.3 73.5h0M437.8 64.1h0M429.6 74.3h0M432.6 64.0h0M431.9 71.2h0M434.9 61.5h0M434.9 58.6h0M428.8 63.1h0M443.8 58.0h0M433.3 55.5h0M434.8 65.1h0M437.6 56.8h0M431.0 60.5h0M432.8 76.3h0M433.0 63.8h0M431.5 68.3h0M446.6 70.3h0M441.5 58.2h0M439.2 64.2h0M440.1 69.7h0M437.2 55.0h0M434.7 61.3h0M436.2 64.2h0M439.2 55.4h0M430.4 63.6h0M435.6 61.8h0M433.9 64.3h0M439.1 63.4h0M435.2 54.2h0M435.8 51.6h0M436.0 63.5h0M434.0 60.1h0M431.9 68.5h0M435.8 63.9h0M431.6 65.1h0M439.9 63.9h0M432.2 57.6h0M434.5 59.0h0M426.9 68.7h0M430.9 53.0h0M430.5 73.9h0M433.5 56.8h0M428.6 67.9h0M436.0 65.2h0M433.0 66.6h0M441.6 66.6h0M433.2 56.4h0M436.2 72.5h0M437.2 57.2h0M434.9 71.0h0M430.9 66.7h0M440.0 72.8h0M426.2 54.6h0M435.8 67.8h0M432.3 63.9h0M432.0 70.5h0M427.7 60.3h0M426.5 59.1h0M433.9 64.1h0M442.8 62.8h0M435.7 65.9h0M435.3 71.9h0M434.7 64.8h0M433.4 64.0h0M433.7 69.4h0M434.1 64.4h0M433.8 68.1h0M431.7 69.1h0M431.2 67.8h0M443.5 65.3h0M433.6 57.6h0M437.6 64.1h0M438.5 60.4h0M436.6 73.8h0M436.0 62.2h0M427.6 64.0h0M437.2 67.2h0M428.5 58.4h0M429.2 58.5h0M432.6 65.4h0M443.5 65.1h0M441.2 55.0h0M441.6 68.3h0M436.2 68.5h0M437.0 74.4h0M438.0 54.6h0M425.4 72.7h0M433.6 71.2h0M432.3 60.4h0M432.3 65.7h0M434.9 60.6h0M436.6 67.3h0M429.5 58.0h0M434.1 60.2h0M431.0 63.3h0M434.1 67.1h0M438.1 66.4h0M439.5 58.7h0M437.0 66.0h0M428.8 60.3h0M436.2 64.4h0M427.8 61.0h0M441.5 68.6h0M434.4 71.3h0M429.5 63.1h0M438.7 62.2h0M428.5 67.2h0M441.9 50.2h0M434.8 57.2h0M432.5 56.3h0M446.8 60.3h0M434.2 60.2h0M429.1 61.5h0M435.0 73.5h0M435.4 72.5h0M428.7 64.4h0M431.8 55.5h0M452.4 62.7h0M435.2 59.9h0M431.2 58.4h0M439.1 61.8h0M433.3 65.0h0M427.9 65.3h0M433.2 66.4h0M432.1 64.2h0M436.6 69.3h0M430.6 69.3h0M429.1 63.0h0M434.6 64.8h0M433.1 69.0h0M430.5 72.2h0M425.1 64.4h0M436.7 64.1h0M435.3 69.1h0M430.0 67.2h0M439.3 62.7h0M429.8 58.2h0M436.1 59.6h0M446.3 67.1h0M427.5 62.4h0M441.6 67.7h0M429.0 69.6h0M431.7 76.0h0M431.3 67.2h0M436.8 61.6h0M433.2 70.3h0M436.5 63.7h0M436.2 73.5h0M438.6 66.6h0M435.6 55.5h0M434.7 61.4h0M437.6 60.7h0M436.2 58.3h0M438.4 60.0h0M433.9 67.1h0M432.4 64.0h0M439.2 73.6h0M425.1 59.1h0M437.3 69.1h0M431.7 64.5h0M433.0 76.4h0M433.0 57.5h0M426.3 57.1h0M440.4 61.9h0M443.6 67.5h0M435.9 67.5h0M437.9 69.0h0M429.2 61.0h0M431.3 64.6h0M432.8 57.3h0M430.6 73.7h0M444.5 59.4h0M435.9 63.8h0M429.8 67.9h0M433.7 73.1h0M436.3 62.3h0M438.2 60.1h0M438.4 67.7h0M425.3 62.9h0M435.6 68.1h0M434.8 63.9h0M432.3 62.4h0M434.0 58.2h0M437.2 62.2h0M436.6 61.2h0M436.0 64.7h0M438.4 66.5h0M438.6 63.1h0M433.7 62.6h0M427.8 63.3h0M439.4 68.2h0M429.8 65.6h0M437.7 56.6h0M435.7 65.8h0M437.7 65.4h0M425.4 53.1h0M443.8 61.9h0M440.3 70.9h0M434.4 57.8h0M440.8 63.8h0M436.6 66.6h0M438.7 69.5h0M427.0 56.4h0M434.7 64.0h0M437.8 63.3h0M433.1 75.0h0M440.8 70.3h0M439.1 59.7h0M433.6 63.6h0M428.6 59.3h0M434.8 57.4h0M436.7 66.6h0M432.8 62.2h0M437.0 66.6h0M435.8 57.4h0M426.0 75.1h0M430.8 62.0h0M425.0 59.7h0M430.4 68.3h0M432.0 61.3h0M430.2 61.6h0M426.2 65.4h0M439.9 64.8h0M431.4 70.8h0M436.4 58.4h0M431.2 60.7h0M433.8 70.6h0M430.5 63.2h0M434.6 57.6h0M431.6 67.3h0M439.6 53.9h0M437.5 62.4h0M440.4 67.4h0M443.7 65.7h0M432.0 59.5h0M426.9 67.0h0M436.5 68.4h0M435.7 55.9h0M432.0 62.7h0M434.8 68.1h0M441.0 65.5h0M433.1 78.6h0M437.7 77.8h0M428.0 85.3h0M434.3 77.0h0M441.1 72.7h0M428.4 80.5h0M436.8 76.8h0M436.6 76.1h0M433.4 87.3h0M438.1 81.4h0M443.4 71.1h0M441.9 76.6h0M438.8 76.3h0M440.2 74.2h0M437.9 76.4h0M437.4 79.7h0M430.2 82.5h0M434.3 72.5h0M443.5 77.9h0M438.7 76.9h0M429.6 81.6h0M436.6 71.9h0M433.7 81.8h0M436.3 76.7h0M434.1 77.6h0M427.4 82.6h0M432.8 78.9h0M425.1 83.5h0M442.8 76.6h0M433.4 77.6h0M437.4 81.8h0M428.9 87.1h0M432.5 77.5h0M433.0 80.7h0M428.9 84.3h0M445.0 71.1h0M432.3 80.6h0M437.5 72.4h0M438.1 80.6h0M436.3 73.3h0M430.3 82.5h0M432.7 80.5h0M430.4 77.2h0M427.5 86.2h0M434.0 78.2h0M430.8 79.5h0M446.6 69.9h0M431.4 80.9h0M436.3 81.4h0M441.6 71.1h0M433.3 80.6h0M440.6 74.0h0M439.9 71.6h0M432.2 77.4h0M442.0 73.1h0M429.8 80.4h0M438.4 77.2h0M438.8 76.2h0M442.9 76.6h0M426.0 81.8h0M431.5 75.7h0M441.3 69.0h0M433.9 74.7h0M436.9 72.4h0M430.1 83.9h0M440.6 72.5h0M442.8 73.4h0M438.7 83.2h0M429.9 83.2h0M434.1 76.2h0M436.9 78.4h0M434.5 78.4h0M426.4 82.2h0M440.1 81.4h0M431.4 82.0h0M438.6 78.4h0M434.6 76.7h0M432.0 81.1h0M434.2 80.4h0M428.5 81.8h0M442.0 77.0h0M435.6 79.1h0M433.4 82.1h0M431.4 78.7h0M437.5 78.9h0M435.5 74.3h0M435.6 79.9h0M431.5 83.8h0M434.7 81.3h0M432.1 83.0h0M429.5 79.4h0M433.7 77.8h0M431.7 77.0h0M436.7 80.4h0M438.8 76.1h0M430.9 78.1h0M431.8 82.1h0M432.6 82.5h0M431.7 76.1h0M445.7 69.1h0M441.2 75.0h0M444.1 70.8h0M434.6 78.2h0M429.0 81.8h0M432.8 80.3h0M439.5 77.5h0M433.4 79.5h0M435.3 76.1h0M427.0 83.4h0M440.1 76.5h0M433.6 78.9h0M438.3 77.2h0M437.0 76.2h0M437.5 77.9h0M433.6 79.3h0M432.0 81.3h0M433.2 81.8h0M442.5 71.7h0M435.3 76.8h0M429.3 82.2h0M436.9 77.8h0M429.2 79.4h0M440.3 70.5h0M432.0 83.1h0M444.7 75.8h0M435.7 81.3h0M428.4 82.3h0M439.9 79.7h0M435.6 71.3h0M431.8 78.5h0M442.6 70.4h0M436.4 82.8h0M443.8 72.6h0M437.6 70.6h0M437.0 75.9h0M437.6 72.7h0M440.8 74.5h0M439.0 81.6h0M431.5 81.8h0M430.8 78.8h0M431.7 77.7h0M438.2 73.4h0M431.8 80.9h0M428.4 77.4h0M436.6 75.0h0M432.9 84.6h0M441.5 73.1h0M439.7 73.1h0M441.0 76.6h0M435.3 75.6h0M434.6 78.8h0M434.9 82.2h0M435.8 79.0h0M441.8 79.1h0M426.7 79.0h0M433.2 82.4h0M432.8 79.9h0M429.1 86.5h0M429.4 87.2h0M435.1 82.5h0M426.9 82.3h0M428.1 82.4h0M434.6 72.2h0M437.5 78.8h0M438.5 75.4h0M433.8 82.2h0M436.5 72.9h0M438.3 79.0h0M430.8 80.4h0M440.0 80.8h0M429.2 86.7h0M437.7 77.7h0M431.1 83.1h0M429.6 82.1h0M440.1 75.8h0M436.1 81.5h0M433.3 77.3h0M442.4 72.1h0M443.5 71.9h0M436.9 80.1h0M433.0 84.8h0M433.6 77.2h0M443.9 77.4h0M434.4 77.1h0M434.7 78.6h0M437.9 79.2h0M442.3 76.1h0M435.6 75.8h0M431.1 79.4h0M428.0 83.1h0M436.6 79.2h0M433.9 80.0h0M440.3 72.3h0M442.0 78.2h0M439.5 79.0h0M434.4 76.7h0M440.1 73.3h0M441.2 73.6h0M441.5 72.2h0M430.9 81.6h0M438.3 72.6h0M443.4 66.5h0M437.8 71.6h0M435.3 78.3h0M436.0 80.3h0M442.2 71.5h0M434.7 76.2h0M440.4 76.8h0M442.4 76.0h0M430.8 79.4h0M440.0 80.2h0M428.0 81.8h0M435.6 76.9h0M429.0 85.1h0M439.7 81.2h0M439.2 80.2h0M432.2 80.3h0M440.6 71.6h0M437.3 77.5h0M433.0 77.2h0M430.9 85.4h0M431.8 84.6h0M431.7 81.7h0M439.3 73.7h0M439.5 77.9h0M435.9 79.4h0M440.5 75.9h0M430.1 76.3h0M441.1 83.3h0M433.5 75.9h0M426.8 80.3h0M438.7 74.7h0M434.8 82.1h0M431.2 80.5h0M438.2 76.2h0M433.1 82.1h0M441.2 74.0h0M437.8 77.2h0M443.8 73.1h0M429.9 86.2h0M429.1 86.7h0M438.6 77.6h0M434.4 81.1h0M431.9 78.0h0M431.2 79.0h0M436.0 81.2h0M436.0 84.9h0M435.5 79.4h0M432.6 85.5h0M429.0 79.2h0M430.3 81.7h0M437.7 71.6h0M441.9 79.1h0M435.8 75.1h0M435.5 75.5h0M430.9 80.8h0M439.1 79.0h0M434.1 76.3h0M433.7 73.6h0M436.5 74.6h0M430.4 84.8h0M431.5 80.2h0M441.7 70.6h0M439.4 75.6h0M439.5 76.5h0M441.1 72.3h0M431.8 80.0h0M429.6 81.1h0M444.3 72.0h0M431.1 82.3h0M430.8 83.1h0M437.6 81.4h0M434.4 83.3h0M438.0 81.1h0M440.3 74.3h0M432.0 79.8h0M439.8 70.8h0M429.1 86.0h0M443.8 75.9h0M434.1 82.4h0M439.6 73.5h0M435.2 82.1h0M430.6 84.5h0M441.5 71.9h0M442.4 74.5h0M434.3 78.7h0M435.0 74.1h0M434.5 80.6h0M434.2 75.9h0M431.3 83.5h0M439.6 73.3h0M441.2 76.7h0M432.7 77.2h0M438.1 77.2h0M437.2 76.6h0M441.8 73.4h0" stroke="#000" stroke-width="0.6" stroke-linecap="square" stroke-opacity="0.8" fill="none"/>
<rect x="424.1" y="20.8" width="69.29999999999995" height="67.60000000000001" fill="none" stroke="#111" stroke-width="0.65"/>
<line x1="446.7" y1="20.8" x2="446.7" y2="88.4" stroke="#000" stroke-width="0.62"/>
<line x1="424.1" y1="71.7" x2="493.4" y2="71.7" stroke="#000" stroke-width="0.62"/>
<line x1="421.1" y1="88.4" x2="424.1" y2="88.4" stroke="#000" stroke-width="0.6" stroke-opacity="0.75"/>
<line x1="424.1" y1="88.4" x2="424.1" y2="90.9" stroke="#000" stroke-width="0.6" stroke-opacity="0.75"/>
<text x="417.8" y="89.0" font-size="2.8" fill-opacity="0.55" style="stroke:none">10<tspan dy="-1" font-size="2">0</tspan></text>
<line x1="421.1" y1="71.5" x2="424.1" y2="71.5" stroke="#000" stroke-width="0.6" stroke-opacity="0.75"/>
<line x1="441.425" y1="88.4" x2="441.425" y2="90.9" stroke="#000" stroke-width="0.6" stroke-opacity="0.75"/>
<text x="417.8" y="72.1" font-size="2.8" fill-opacity="0.55" style="stroke:none">10<tspan dy="-1" font-size="2">1</tspan></text>
<text x="439.225" y="94.0" font-size="2.8" fill-opacity="0.55" style="stroke:none">10<tspan dy="-1" font-size="2">1</tspan></text>
<line x1="421.1" y1="54.6" x2="424.1" y2="54.6" stroke="#000" stroke-width="0.6" stroke-opacity="0.75"/>
<line x1="458.75" y1="88.4" x2="458.75" y2="90.9" stroke="#000" stroke-width="0.6" stroke-opacity="0.75"/>
<text x="417.8" y="55.2" font-size="2.8" fill-opacity="0.55" style="stroke:none">10<tspan dy="-1" font-size="2">2</tspan></text>
<text x="456.55" y="94.0" font-size="2.8" fill-opacity="0.55" style="stroke:none">10<tspan dy="-1" font-size="2">2</tspan></text>
<line x1="421.1" y1="37.7" x2="424.1" y2="37.7" stroke="#000" stroke-width="0.6" stroke-opacity="0.75"/>
<line x1="476.075" y1="88.4" x2="476.075" y2="90.9" stroke="#000" stroke-width="0.6" stroke-opacity="0.75"/>
<text x="417.8" y="38.300000000000004" font-size="2.8" fill-opacity="0.55" style="stroke:none">10<tspan dy="-1" font-size="2">3</tspan></text>
<text x="473.875" y="94.0" font-size="2.8" fill-opacity="0.55" style="stroke:none">10<tspan dy="-1" font-size="2">3</tspan></text>
<line x1="421.1" y1="20.799999999999997" x2="424.1" y2="20.799999999999997" stroke="#000" stroke-width="0.6" stroke-opacity="0.75"/>
<line x1="493.4" y1="88.4" x2="493.4" y2="90.9" stroke="#000" stroke-width="0.6" stroke-opacity="0.75"/>
<text x="417.8" y="21.4" font-size="2.8" fill-opacity="0.55" style="stroke:none">10<tspan dy="-1" font-size="2">4</tspan></text>
<text x="491.2" y="94.0" font-size="2.8" fill-opacity="0.55" style="stroke:none">10<tspan dy="-1" font-size="2">4</tspan></text>
<path d="M422.80 83.31h1.3M429.32 88.4v1.3M422.80 80.34h1.3M432.37 88.4v1.3M422.80 78.23h1.3M434.53 88.4v1.3M422.80 76.59h1.3M436.21 88.4v1.3M422.80 75.25h1.3M437.58 88.4v1.3M422.80 74.12h1.3M438.74 88.4v1.3M422.80 73.14h1.3M439.75 88.4v1.3M422.80 72.27h1.3M440.63 88.4v1.3M422.80 66.41h1.3M446.64 88.4v1.3M422.80 63.44h1.3M449.69 88.4v1.3M422.80 61.33h1.3M451.86 88.4v1.3M422.80 59.69h1.3M453.53 88.4v1.3M422.80 58.35h1.3M454.91 88.4v1.3M422.80 57.22h1.3M456.07 88.4v1.3M422.80 56.24h1.3M457.07 88.4v1.3M422.80 55.37h1.3M457.96 88.4v1.3M422.80 49.51h1.3M463.97 88.4v1.3M422.80 46.54h1.3M467.02 88.4v1.3M422.80 44.43h1.3M469.18 88.4v1.3M422.80 42.79h1.3M470.86 88.4v1.3M422.80 41.45h1.3M472.23 88.4v1.3M422.80 40.32h1.3M473.39 88.4v1.3M422.80 39.34h1.3M474.40 88.4v1.3M422.80 38.47h1.3M475.28 88.4v1.3M422.80 32.61h1.3M481.29 88.4v1.3M422.80 29.64h1.3M484.34 88.4v1.3M422.80 27.53h1.3M486.51 88.4v1.3M422.80 25.89h1.3M488.18 88.4v1.3M422.80 24.55h1.3M489.56 88.4v1.3M422.80 23.42h1.3M490.72 88.4v1.3M422.80 22.44h1.3M491.72 88.4v1.3M422.80 21.57h1.3M492.61 88.4v1.3" stroke="#000" stroke-width="0.4" stroke-opacity="0.55" fill="none"/>
<text x="442.4" y="28.9" font-size="6.2" text-anchor="end" style="stroke-width:0.1px">60%</text>
<text x="493.2" y="84.6" font-size="6.2" text-anchor="end" style="stroke-width:0.1px">1.6%</text>
<text x="425.3" y="24.2" font-size="3.3" fill-opacity="0.8" style="stroke:none">R1</text>
<text x="447.9" y="24.2" font-size="3.3" fill-opacity="0.8" style="stroke:none">R2</text>
<text x="425.3" y="75.10000000000001" font-size="3.3" fill-opacity="0.8" style="stroke:none">R3</text>
<text x="447.9" y="75.10000000000001" font-size="3.3" fill-opacity="0.8" style="stroke:none">R4</text>
<path d="M355.7 162.7h0M366.8 158.1h0M356.2 168.4h0M361.9 168.4h0M357.2 169.6h0M355.7 166.5h0M358.0 168.3h0M362.9 162.4h0M355.9 166.2h0M354.7 170.4h0M365.4 156.3h0M373.1 150.5h0M369.2 152.7h0M355.6 173.9h0M363.0 159.1h0M362.3 160.9h0M369.2 164.1h0M360.1 155.3h0M360.0 158.7h0M361.9 158.3h0M359.6 177.2h0M369.1 156.9h0M356.2 156.1h0M378.8 151.3h0M374.4 137.8h0M359.0 158.2h0M369.6 144.9h0M363.1 158.7h0M372.0 151.4h0M372.6 144.2h0M359.6 170.7h0M373.1 156.1h0M358.4 171.5h0M364.3 149.4h0M365.5 169.6h0M371.6 154.0h0M356.0 170.5h0M362.5 167.1h0M378.3 162.0h0M368.9 151.7h0M373.6 144.1h0M367.9 152.5h0M366.2 160.7h0M368.9 156.4h0M362.9 158.1h0M355.4 167.4h0M355.1 167.6h0M371.6 145.3h0M362.3 159.5h0M354.4 159.2h0M369.3 165.2h0M371.5 154.6h0M355.9 168.7h0M370.3 144.6h0M366.3 158.3h0M371.1 156.9h0M372.9 154.8h0M367.2 159.8h0M368.1 157.9h0M366.3 163.4h0M354.0 167.5h0M355.6 176.3h0M358.2 170.8h0M363.8 162.4h0M354.6 169.1h0M353.9 159.5h0M366.6 162.1h0M370.9 150.3h0M360.5 168.7h0M358.7 158.8h0M359.9 176.0h0M373.0 147.1h0M373.5 156.4h0M363.0 160.5h0M363.1 151.5h0M370.0 144.9h0M361.4 161.0h0M365.5 160.9h0M366.2 155.7h0M372.9 151.5h0M369.3 169.5h0M372.5 150.4h0M380.3 143.8h0M359.4 168.6h0M356.5 168.6h0M360.8 164.4h0M354.3 162.1h0M356.2 167.6h0M367.8 154.4h0M357.5 166.6h0M358.8 163.3h0M375.9 152.8h0M367.7 154.0h0M352.7 175.5h0M376.5 150.1h0M359.7 158.3h0M363.0 162.6h0M368.8 142.2h0M360.2 155.4h0M365.7 167.8h0M368.9 147.7h0M362.6 163.3h0M367.3 145.0h0M358.4 174.4h0M367.3 155.5h0M379.3 152.2h0M358.4 161.4h0M358.5 168.1h0M364.9 162.5h0M364.6 168.4h0M366.9 179.3h0M371.8 143.6h0M382.4 176.9h0M370.6 168.1h0M369.3 181.7h0M368.2 131.9h0M358.1 158.2h0M379.2 144.9h0M372.1 151.3h0M370.4 139.8h0M376.5 164.6h0M358.9 175.8h0M366.8 154.7h0M365.4 165.0h0M371.8 160.2h0M371.9 156.4h0M360.9 181.0h0M372.5 147.2h0M386.8 145.3h0M384.9 152.1h0M362.0 159.9h0M367.5 140.5h0M391.7 178.7h0M374.0 172.0h0M380.8 145.7h0M362.4 160.2h0M364.5 169.3h0M378.2 141.4h0M384.4 180.3h0M374.3 180.4h0M373.3 130.9h0M373.7 148.3h0M389.2 157.2h0M390.7 138.5h0M371.0 130.7h0M359.7 167.0h0M359.1 141.6h0M372.8 177.9h0M366.0 130.2h0M381.8 166.2h0M362.7 178.3h0M387.4 178.7h0M386.0 158.4h0M381.8 136.4h0M379.9 148.4h0M369.4 146.3h0M360.8 172.2h0M384.0 130.5h0M375.4 131.2h0M376.5 138.7h0M390.7 146.6h0M375.8 143.6h0M388.7 130.4h0M368.3 141.7h0M383.4 149.3h0M387.3 147.0h0M362.3 153.7h0M360.9 137.9h0M375.8 159.9h0M365.3 139.3h0M356.6 171.3h0M354.6 172.9h0M362.5 172.6h0M370.2 175.5h0M361.2 169.2h0M359.9 175.8h0M366.6 169.6h0M361.5 169.9h0M365.5 172.9h0M358.6 167.8h0M368.5 165.3h0M353.2 157.3h0M372.0 169.4h0M366.3 174.7h0M366.2 177.4h0M359.8 171.9h0M366.9 174.7h0M358.4 168.4h0M355.0 173.3h0M359.5 164.6h0M359.4 173.6h0M363.0 170.9h0M362.9 175.1h0M356.2 168.1h0M366.9 175.5h0M355.2 168.5h0M369.2 175.6h0M361.4 176.9h0M368.8 178.8h0M355.3 165.8h0M359.6 171.8h0M360.4 173.2h0M369.4 177.3h0M367.0 172.0h0M370.2 174.2h0M363.3 171.9h0M362.0 176.3h0M373.2 171.1h0M356.4 176.9h0M363.3 167.5h0M366.8 172.1h0M357.4 159.9h0M357.2 173.8h0M357.0 176.7h0M372.9 173.5h0M363.2 171.6h0M366.3 172.2h0M367.2 178.8h0M366.3 167.4h0M365.4 170.8h0M363.6 176.6h0M358.8 173.0h0M369.3 168.0h0M361.1 175.5h0M361.0 176.9h0M357.1 164.9h0M364.0 171.4h0M363.6 176.6h0M367.3 170.4h0M360.2 162.8h0M357.3 173.2h0M363.2 164.9h0M366.0 171.8h0M367.5 170.3h0M366.9 166.7h0M352.9 168.2h0M365.5 174.0h0M352.8 172.7h0M365.4 180.0h0M365.9 174.4h0M354.3 173.8h0M352.4 170.6h0M360.3 167.4h0M357.1 171.3h0M365.0 168.9h0M363.6 175.4h0M362.0 181.1h0M360.5 168.5h0M352.7 177.1h0M365.4 171.1h0M363.6 171.4h0M366.4 172.0h0M363.2 171.6h0M357.7 161.5h0M364.8 166.1h0M364.1 175.1h0M371.4 168.5h0M362.8 176.5h0M358.8 169.2h0M364.3 181.8h0M367.4 176.6h0M357.3 175.1h0M367.7 166.0h0M362.1 171.1h0M365.3 163.8h0M365.6 172.0h0M360.8 162.0h0M351.8 169.4h0M365.3 174.0h0M365.8 164.0h0M363.1 178.4h0M354.4 175.1h0M358.5 174.6h0M362.6 164.3h0M356.9 178.0h0M361.5 177.9h0M363.8 176.2h0M360.1 173.1h0M360.2 176.3h0M372.2 152.5h0M382.9 136.2h0M374.2 148.9h0M383.9 146.3h0M375.5 137.9h0M379.2 141.0h0M376.0 147.3h0M368.1 154.6h0M379.6 146.1h0M378.0 146.0h0M368.2 147.5h0M379.1 142.3h0M375.2 147.6h0M375.5 146.9h0M377.5 144.7h0M369.6 147.8h0M379.8 140.3h0M377.4 146.1h0M370.7 135.7h0M375.0 142.5h0M372.0 151.9h0M371.3 149.6h0M375.7 146.6h0M384.9 131.7h0M379.8 142.7h0M373.7 143.7h0M375.3 146.1h0M370.5 155.8h0M371.4 147.4h0M368.8 150.1h0M376.8 149.9h0M379.9 141.1h0M383.0 141.1h0M382.7 149.5h0M373.1 142.2h0M377.7 151.0h0M377.0 149.8h0M378.0 148.4h0M381.6 141.1h0M368.1 149.3h0M371.2 142.8h0M374.2 149.6h0M366.0 144.2h0M379.0 139.8h0M373.1 153.1h0M380.6 144.5h0M377.7 132.3h0M377.8 146.2h0M368.2 150.6h0M377.3 144.2h0M379.0 147.8h0M375.3 144.7h0M369.2 154.3h0M372.2 149.0h0M382.6 145.3h0M368.8 149.0h0M371.6 140.5h0M371.1 150.8h0M376.7 144.1h0M375.9 140.3h0M371.3 147.3h0M379.0 142.4h0M374.2 147.9h0M382.3 136.3h0M377.7 145.4h0M374.7 147.3h0M365.3 151.5h0M373.9 141.1h0M379.2 143.1h0M373.4 150.3h0M370.5 145.3h0M379.1 147.6h0M385.0 138.4h0M367.9 143.3h0M369.2 149.7h0M373.9 143.6h0M370.1 145.6h0M373.3 152.3h0M378.1 150.4h0M379.1 147.2h0" stroke="#000" stroke-width="0.6" stroke-linecap="square" stroke-opacity="0.45" fill="none"/>
<path d="M346.4 176.6h0M347.1 177.1h0M359.1 178.5h0M342.5 178.5h0M347.8 176.9h0M348.4 180.2h0M344.5 180.6h0M346.9 177.3h0M350.5 176.7h0M352.7 179.5h0M348.3 177.9h0M353.1 178.7h0M352.8 179.2h0M346.8 176.5h0M347.3 181.7h0M346.8 177.2h0M351.4 177.6h0M346.9 175.0h0M342.5 181.8h0M343.1 181.7h0M348.7 174.4h0M347.1 180.9h0M343.9 175.7h0M346.2 177.9h0M347.6 174.7h0M343.7 181.5h0M343.3 180.1h0M352.9 182.1h0M345.6 176.0h0M349.4 180.7h0M352.7 180.9h0M343.8 180.2h0M346.6 180.5h0M348.3 179.8h0M344.0 177.5h0M342.8 174.4h0M350.0 173.0h0M347.1 177.5h0M352.2 181.8h0M346.6 177.6h0M342.9 174.6h0M346.1 180.9h0M342.7 178.8h0M350.3 180.9h0M344.9 177.1h0M347.0 176.3h0M350.9 179.4h0M348.9 178.7h0M346.7 180.2h0M349.2 177.6h0M344.7 182.1h0M344.8 176.6h0M350.4 181.3h0M350.3 179.5h0M349.4 180.3h0M343.5 181.3h0M342.7 174.9h0M347.9 180.8h0M350.0 182.2h0M359.1 178.8h0M354.0 176.3h0M348.7 181.9h0M352.7 177.8h0M347.1 179.4h0M346.3 180.1h0M346.3 175.2h0M346.9 180.7h0M345.3 169.8h0M343.9 178.5h0M351.2 179.9h0M342.6 181.9h0M352.0 180.1h0M349.8 178.1h0M354.4 179.6h0M344.6 175.1h0M356.7 176.9h0M342.6 179.9h0M352.5 180.7h0M346.9 180.6h0M350.9 180.4h0M347.7 180.3h0M343.9 176.5h0M345.0 180.6h0M350.7 176.1h0M348.7 177.2h0M346.4 175.6h0M354.3 178.6h0M352.5 181.3h0M348.5 180.0h0M351.5 178.0h0M354.2 180.4h0M345.5 175.6h0M345.0 181.2h0M352.6 175.6h0M346.4 178.4h0M349.4 179.5h0M347.6 177.6h0M346.8 178.0h0M345.1 177.9h0M348.1 177.1h0M346.9 180.8h0M351.4 178.3h0M350.4 178.6h0M351.5 180.3h0M345.8 174.9h0M348.5 176.8h0M344.6 178.5h0M347.8 174.4h0M350.9 177.1h0M347.2 180.7h0M346.7 177.7h0M346.6 175.5h0M346.2 181.0h0M350.1 177.3h0M358.8 180.9h0M343.6 178.5h0M355.0 177.0h0M346.5 180.3h0M343.7 178.3h0M349.1 180.8h0M349.6 179.8h0M344.3 178.3h0M345.8 179.0h0M352.7 181.6h0M346.6 178.9h0M353.4 181.8h0M346.0 178.8h0M345.7 181.0h0M350.6 182.0h0M354.1 175.9h0M347.1 176.2h0M344.1 177.6h0M344.5 181.7h0M347.3 179.0h0M344.1 180.7h0M342.9 176.9h0M354.2 176.7h0M348.2 177.6h0M344.1 181.0h0M350.8 182.1h0M353.5 182.0h0M345.7 175.6h0M345.8 180.0h0M353.6 178.6h0M342.7 180.6h0M347.3 179.0h0M349.8 178.6h0M344.7 175.2h0M355.2 181.1h0M344.5 181.1h0M350.5 177.5h0M346.6 175.6h0M350.8 181.4h0M347.2 181.2h0M348.8 181.9h0M346.3 180.6h0M343.6 180.1h0M348.3 181.1h0M349.8 178.6h0M347.2 177.1h0M349.0 179.4h0M345.2 174.1h0M354.0 177.0h0M349.6 178.1h0M347.0 181.3h0M347.7 182.1h0M350.5 179.4h0M345.3 177.5h0M346.8 181.4h0M348.4 179.8h0M348.4 176.6h0M351.0 179.3h0M344.4 176.0h0M346.5 180.0h0M344.1 175.8h0M347.7 181.8h0M352.1 182.0h0M346.5 177.3h0M350.1 178.8h0M353.6 181.1h0M344.5 176.5h0M349.7 175.3h0M346.0 179.3h0M346.0 176.7h0M355.8 178.4h0M347.0 176.7h0M350.1 181.1h0M345.7 179.3h0M344.4 178.3h0M351.0 176.3h0M357.2 179.9h0M345.6 179.7h0M348.1 180.0h0M345.9 178.8h0M360.4 174.7h0M348.6 177.3h0M351.8 174.2h0M346.4 179.3h0M345.2 181.9h0M344.6 180.9h0M345.0 180.7h0M346.5 178.4h0M349.0 179.9h0M342.6 177.3h0M350.2 176.9h0M348.1 179.8h0M346.7 180.6h0M343.4 181.2h0M345.6 180.8h0M347.2 178.5h0M346.3 181.6h0M347.1 176.9h0M356.2 171.8h0M345.8 180.1h0M348.4 180.8h0M351.6 180.4h0M348.4 176.0h0M349.4 179.6h0M348.0 180.5h0M345.2 177.4h0M346.0 177.5h0M345.2 176.8h0M346.7 173.2h0M348.2 178.3h0M350.2 179.0h0M352.7 179.4h0M356.2 179.4h0M347.9 177.7h0M348.6 177.6h0M349.5 179.3h0M344.5 180.3h0M352.6 181.6h0M343.7 178.4h0M348.7 176.9h0M346.2 179.3h0M346.6 181.0h0M352.9 176.4h0M358.4 178.8h0M347.3 178.1h0M348.2 179.4h0M352.2 177.7h0M343.2 178.8h0M346.0 177.3h0M344.9 174.5h0M347.7 180.8h0M349.8 179.8h0M348.8 177.7h0M347.1 181.0h0M347.6 180.7h0M347.0 178.2h0M346.1 178.1h0M346.9 176.9h0M350.9 181.5h0M344.0 179.6h0M345.1 181.9h0M348.2 179.7h0M348.7 179.8h0M349.9 178.7h0M349.8 181.2h0M351.4 177.7h0M347.1 177.5h0M343.5 174.4h0M344.7 174.1h0M345.6 181.1h0M348.2 178.3h0M346.0 177.1h0M345.9 180.8h0M348.9 177.0h0M347.3 180.5h0M343.4 181.0h0M345.7 179.6h0M349.1 180.3h0M348.7 179.7h0M347.9 177.1h0M350.8 181.7h0M349.0 177.6h0M353.3 181.6h0M346.1 179.2h0M353.2 178.4h0M351.1 180.5h0M342.8 181.1h0M349.9 178.4h0M345.8 178.8h0M343.6 179.9h0M350.7 179.0h0M352.6 179.4h0M353.3 178.6h0M349.6 177.0h0M345.2 179.4h0M350.2 176.8h0M344.7 178.4h0M347.4 176.8h0M348.0 176.0h0M350.7 176.6h0M352.6 178.0h0M349.9 177.0h0M351.5 180.9h0M350.7 178.6h0M347.5 180.8h0M349.6 177.6h0M346.0 180.8h0M347.1 180.6h0M348.1 179.9h0M344.1 179.6h0M343.1 177.1h0M349.0 180.4h0M346.4 181.8h0M355.0 181.5h0M350.1 175.6h0M352.9 181.1h0M350.8 177.1h0M343.2 178.6h0M349.4 177.2h0M344.1 180.8h0M343.0 175.5h0M346.6 180.1h0M344.7 177.1h0M346.6 181.0h0M346.2 178.8h0M342.6 178.3h0M346.6 179.1h0M354.4 179.7h0M349.0 179.1h0M346.2 177.6h0M344.9 176.1h0M346.4 178.8h0M350.2 178.9h0M348.9 179.4h0M346.5 175.9h0M347.9 181.2h0M345.4 179.9h0M345.8 176.8h0M354.6 178.2h0M343.3 180.4h0M343.8 176.8h0M350.8 179.1h0M347.7 174.1h0M351.8 180.2h0M342.6 180.7h0M347.8 178.3h0M350.1 180.1h0M343.7 180.9h0M351.8 174.1h0M349.4 179.7h0M351.8 181.0h0M346.7 176.7h0M359.9 178.3h0M345.6 178.4h0M345.7 181.1h0M345.7 179.4h0M344.0 181.4h0M348.8 177.6h0M350.8 180.2h0M345.0 181.6h0M354.7 181.0h0M346.5 179.4h0M355.8 182.0h0M349.9 178.1h0M347.6 177.2h0M344.4 171.4h0M347.0 176.9h0M346.7 177.0h0M342.9 179.0h0M359.2 177.0h0M350.0 179.5h0M347.5 178.2h0M346.2 178.1h0M355.4 181.7h0M343.7 180.2h0M346.8 178.6h0M350.0 181.4h0M344.0 178.2h0M347.6 175.7h0M345.0 178.7h0M345.8 179.1h0M352.6 179.8h0M352.9 178.4h0M343.7 178.6h0M344.3 175.8h0M345.7 178.6h0M356.6 179.1h0M351.1 180.4h0M344.5 180.6h0M353.1 181.0h0M347.2 181.0h0M349.8 178.3h0M352.9 176.6h0M351.1 174.4h0M347.2 181.5h0M342.9 179.7h0M346.3 178.4h0M343.4 178.5h0M347.3 177.3h0M344.1 181.1h0M344.6 181.2h0M348.8 179.3h0M357.0 181.8h0M344.5 175.1h0M342.7 182.0h0M349.9 181.8h0M349.5 178.7h0M353.9 177.2h0M349.2 179.7h0M352.5 181.0h0M344.0 179.9h0M350.3 178.2h0M346.4 181.9h0M345.5 176.8h0M345.4 173.9h0M343.6 179.3h0M342.6 178.2h0M349.2 180.9h0M344.8 181.4h0M352.4 178.8h0M349.7 177.2h0M344.6 181.2h0M349.6 174.4h0M346.4 180.9h0M347.5 178.3h0M354.1 181.3h0M344.8 179.8h0M349.4 181.1h0M347.4 181.4h0M342.9 179.9h0M349.7 178.8h0M344.9 176.9h0M345.5 177.8h0M346.9 180.4h0M355.0 182.1h0M348.3 179.6h0M348.9 178.3h0M348.9 180.1h0M348.3 179.9h0M345.2 174.0h0M350.0 179.1h0M348.4 173.9h0M347.8 176.6h0M351.2 178.9h0M344.4 181.1h0M348.9 176.8h0M346.9 180.7h0M358.1 178.5h0M343.0 181.6h0M354.0 177.5h0M345.4 178.3h0M349.2 181.7h0M343.5 179.4h0M346.8 180.7h0M352.7 180.7h0M352.6 181.2h0M352.0 181.0h0M342.9 178.0h0M355.1 179.6h0M357.9 177.2h0M351.1 180.3h0M351.5 180.6h0M348.4 179.6h0M349.1 178.2h0M352.7 179.8h0M346.2 176.0h0M345.0 177.9h0M346.1 177.8h0M347.2 181.9h0M344.4 179.9h0M352.4 179.9h0M342.7 179.6h0M345.3 182.0h0M347.4 181.8h0M346.7 181.3h0M346.0 179.1h0M343.6 179.8h0M346.9 177.6h0M347.2 181.3h0M349.3 180.4h0M351.4 181.5h0M349.5 172.5h0M346.2 181.6h0M347.1 180.8h0M348.6 179.7h0M343.1 178.9h0M348.4 180.9h0M352.0 181.8h0M347.1 180.3h0M344.9 177.6h0M344.4 177.5h0M355.2 179.6h0M343.4 179.6h0M342.7 181.9h0M345.1 179.9h0M343.2 176.5h0M351.9 181.3h0M344.9 177.7h0M348.4 180.8h0M345.7 177.4h0M346.9 182.1h0M345.5 181.3h0M347.6 177.5h0M350.4 178.6h0M350.0 180.8h0M352.4 177.5h0M350.2 181.8h0M357.0 181.6h0M343.5 180.0h0M352.7 181.3h0M353.5 178.5h0M352.8 175.8h0M346.2 179.6h0M344.3 181.6h0M345.1 178.3h0M350.4 173.6h0M358.4 178.2h0M356.8 180.3h0M351.0 178.8h0M354.0 177.9h0M346.0 178.8h0M355.3 180.4h0M345.1 177.5h0M344.7 180.3h0M352.5 176.8h0M354.1 178.3h0M351.1 175.8h0M346.4 180.3h0M344.5 177.7h0M345.9 181.5h0M346.6 175.3h0M350.2 176.4h0M351.2 173.2h0M346.8 179.1h0M345.3 179.8h0M346.5 177.8h0M344.4 182.2h0M349.4 176.5h0M345.3 177.3h0M349.5 175.2h0M353.7 179.5h0M342.5 180.4h0M345.2 176.3h0M354.0 178.8h0M344.3 182.1h0M354.5 182.0h0M342.9 181.8h0M352.0 181.6h0M349.9 179.1h0M346.7 175.4h0M343.8 177.1h0M342.8 180.2h0M352.2 178.2h0M348.7 182.1h0M350.7 178.3h0M348.0 178.5h0M343.7 180.9h0M349.0 176.7h0M345.6 178.1h0M354.1 179.7h0M342.6 181.3h0M347.9 177.5h0M345.7 181.3h0M347.9 179.0h0M356.9 179.5h0M345.1 178.1h0M344.9 179.9h0M343.3 181.0h0M345.4 177.0h0M347.1 180.9h0M349.3 174.7h0M344.7 180.9h0M346.4 176.8h0M356.9 180.1h0M349.9 179.2h0M348.8 180.9h0M350.7 177.8h0M347.7 178.4h0M345.8 177.7h0M343.2 181.1h0M350.1 178.4h0M345.9 178.9h0M357.0 178.5h0M349.1 178.2h0M350.1 176.7h0M351.3 181.1h0M345.2 176.9h0M354.5 178.8h0M353.5 173.3h0M355.1 180.6h0M345.4 180.9h0M347.7 176.9h0M350.8 180.8h0M350.4 179.7h0M353.2 176.9h0M348.6 180.7h0M347.8 181.2h0M348.7 179.0h0M348.8 180.9h0M350.2 181.7h0M357.2 180.5h0M348.6 174.8h0M351.9 180.0h0M343.0 179.6h0M348.5 180.3h0M346.9 177.9h0M344.1 179.1h0M346.0 177.1h0M349.0 180.5h0M348.6 179.8h0M357.1 182.1h0M345.5 179.7h0M348.8 175.8h0M346.0 179.1h0M354.4 181.8h0M353.0 179.3h0M346.3 176.4h0M351.0 181.6h0M353.2 178.1h0M343.1 181.7h0M346.7 178.8h0M346.4 178.4h0M347.6 179.4h0M354.7 177.4h0M349.6 180.8h0M354.1 177.7h0M344.0 179.4h0M345.2 177.6h0M346.3 178.3h0M344.6 182.2h0M349.8 181.8h0M347.6 180.5h0M345.5 179.2h0M347.6 182.1h0M351.2 179.9h0M352.5 177.8h0M347.3 176.7h0M352.5 180.0h0M349.0 179.6h0M346.5 176.5h0M350.0 178.7h0M350.7 176.9h0M346.2 180.5h0M347.4 177.4h0M350.4 173.0h0M345.8 178.9h0M351.1 180.5h0M348.6 182.0h0M344.5 181.3h0M345.1 180.5h0M345.0 179.7h0M345.7 179.6h0M347.4 180.8h0M344.2 180.1h0M346.6 182.0h0M349.0 179.5h0M343.3 175.7h0M346.3 179.4h0M346.3 178.9h0M344.2 180.7h0M346.6 177.9h0M351.6 181.6h0M351.9 178.6h0M354.1 179.1h0M347.9 178.9h0M347.6 177.8h0M343.4 177.0h0M345.8 179.8h0M352.5 177.6h0M352.2 178.2h0M346.8 176.2h0M348.0 180.7h0M345.2 174.8h0M344.7 181.8h0M347.1 178.9h0M346.9 178.2h0M350.5 178.5h0M351.6 181.0h0M346.1 181.1h0M350.0 178.1h0M353.9 175.8h0M351.5 176.7h0M345.7 176.5h0M349.8 180.2h0M353.1 177.5h0M354.1 176.5h0M344.3 175.1h0M343.2 177.7h0M357.8 179.5h0M350.7 181.2h0M349.3 180.2h0M343.9 179.3h0M347.1 179.4h0M345.5 178.4h0M350.9 179.8h0M346.5 179.9h0M352.9 178.9h0M353.4 178.0h0M344.8 181.9h0M352.1 177.7h0M346.0 181.4h0M346.1 179.7h0M347.1 181.4h0M346.4 176.2h0M345.0 179.5h0M351.8 174.5h0M344.2 180.1h0M350.0 181.7h0M350.9 180.0h0M354.8 181.6h0M347.7 178.0h0M356.5 181.7h0M349.8 175.8h0M346.3 179.9h0M353.9 180.0h0M350.1 180.9h0M347.2 180.0h0M347.6 181.6h0M344.9 179.7h0M348.1 177.3h0M349.0 174.0h0M349.9 180.2h0M345.6 174.9h0M348.8 181.9h0M343.7 176.3h0M348.2 178.5h0M346.6 180.5h0M345.7 178.6h0M344.7 177.9h0M349.0 180.9h0M343.2 175.1h0M343.1 176.0h0M350.2 177.1h0M344.4 180.2h0M347.2 181.8h0M348.7 178.4h0M353.7 177.0h0M347.5 181.5h0M348.0 180.5h0M350.2 174.9h0M348.2 179.6h0M355.8 181.4h0M345.3 177.0h0M345.8 182.0h0M348.0 180.0h0M343.5 180.5h0M347.9 179.0h0M343.2 179.3h0M354.1 178.2h0M350.8 180.5h0M350.4 177.0h0M350.3 178.7h0M348.9 181.9h0M347.1 181.8h0M352.7 179.9h0M348.5 177.3h0M343.8 180.2h0M350.6 178.5h0M357.6 172.9h0M349.2 177.7h0M347.6 177.7h0M344.3 178.7h0M348.1 175.9h0M344.9 179.3h0M348.3 176.6h0M345.1 179.2h0M350.4 180.8h0M344.0 174.8h0M350.2 179.5h0M347.0 182.0h0M346.0 181.7h0M352.7 179.6h0M345.5 180.6h0M349.9 179.3h0M347.4 178.5h0M346.7 182.1h0M343.4 180.0h0M347.4 182.1h0M342.5 180.2h0M342.9 181.4h0M348.2 181.8h0M346.1 176.3h0M344.6 176.5h0M344.0 180.3h0M351.8 178.6h0M343.6 181.1h0M344.1 178.1h0M348.7 179.2h0M350.0 178.0h0M348.2 177.6h0M349.9 176.7h0M351.9 169.7h0M360.6 158.4h0M360.3 166.1h0M351.3 175.7h0M346.7 182.1h0M347.7 178.1h0M359.0 170.0h0M352.1 174.9h0M354.0 171.3h0M345.5 177.6h0M352.9 177.6h0M351.4 168.0h0M345.7 179.4h0M347.2 180.0h0M352.8 177.0h0M346.3 180.6h0M349.0 176.9h0M347.9 178.8h0M355.5 162.8h0M354.5 171.4h0M346.5 176.9h0M349.6 181.3h0M360.5 174.1h0M352.4 175.6h0M357.1 169.7h0M347.9 180.6h0M345.0 180.3h0M354.7 173.4h0M350.2 176.9h0M348.5 181.3h0M352.7 174.8h0M349.6 176.8h0M346.7 181.7h0M351.0 179.8h0M351.0 170.4h0M350.5 176.4h0M353.8 172.4h0M353.5 171.3h0M345.1 178.2h0M362.4 165.4h0M347.1 179.6h0M355.2 164.4h0M361.5 171.6h0M348.2 180.5h0M364.1 163.2h0M353.0 171.0h0M358.5 167.7h0M354.7 173.1h0M360.0 169.7h0M356.1 164.0h0M354.1 169.7h0M352.3 172.0h0M363.1 163.3h0M347.5 174.3h0M358.8 170.2h0M348.4 175.2h0M353.5 170.6h0M349.7 178.3h0M347.6 177.0h0M353.9 169.8h0M345.0 174.2h0M361.2 167.5h0M358.6 168.6h0M344.5 181.5h0M344.8 177.2h0M352.1 170.8h0M347.8 177.8h0M357.8 170.7h0M342.8 181.7h0M353.9 174.9h0M357.5 166.5h0M357.7 168.3h0M361.6 159.5h0M346.2 177.5h0M361.7 162.1h0M358.3 168.2h0M354.2 168.8h0M349.5 176.6h0M362.4 164.2h0M351.0 174.5h0M354.4 162.6h0M343.1 177.4h0M358.7 169.4h0M355.7 173.9h0M347.9 182.0h0M352.3 173.7h0M351.5 178.7h0M352.6 168.8h0M343.6 173.7h0M346.0 179.3h0M343.5 175.7h0M347.1 173.9h0M361.0 166.8h0M348.8 178.4h0M362.0 170.2h0M346.0 181.8h0M345.6 179.1h0M357.6 166.9h0M348.2 177.7h0M356.4 166.1h0M350.4 178.1h0M359.8 162.7h0M349.9 174.1h0M344.9 178.5h0M358.8 169.2h0M347.8 179.1h0M353.7 175.3h0M352.0 175.6h0M349.2 175.0h0M343.5 180.0h0M351.8 173.7h0M347.8 170.7h0M357.0 167.7h0M348.2 175.6h0M351.8 174.6h0M357.9 168.6h0M358.9 171.1h0M345.4 180.1h0M355.5 165.4h0M345.5 179.1h0M352.2 169.8h0M350.7 178.8h0M362.4 163.1h0M357.6 166.2h0M350.4 168.3h0M357.5 171.2h0M347.4 176.6h0M351.5 179.6h0M349.7 175.6h0M345.0 177.3h0M364.9 166.1h0M356.3 178.0h0M351.3 171.9h0M345.3 181.0h0M343.8 179.8h0M357.7 170.7h0M350.9 172.2h0M348.0 181.4h0M349.6 175.1h0M348.4 175.9h0M349.7 180.8h0M347.4 180.7h0M347.6 174.6h0M351.7 173.2h0M362.0 168.9h0M350.3 179.8h0M349.5 174.3h0M343.5 181.4h0M352.5 172.9h0M348.0 181.9h0M352.7 173.6h0M348.4 176.1h0M343.7 182.1h0M358.3 165.6h0M348.3 173.9h0M351.7 172.0h0M348.0 175.0h0M352.3 177.6h0M355.1 175.2h0M363.5 168.0h0M353.4 171.0h0M353.5 171.7h0M357.8 170.6h0M357.6 175.8h0M359.0 164.3h0M352.8 171.2h0M349.9 168.5h0M355.4 166.3h0M356.4 164.2h0M350.4 180.1h0M348.3 179.1h0M358.8 167.8h0M349.3 180.3h0M355.4 173.7h0M346.8 175.6h0M357.1 166.4h0M359.9 168.2h0M347.1 180.9h0M359.5 167.6h0M363.5 166.8h0M353.4 172.2h0M354.7 169.3h0M348.4 181.8h0M353.0 177.1h0M344.2 180.3h0M360.7 172.3h0M362.1 165.4h0M361.0 173.9h0M356.5 171.2h0M355.1 172.8h0M347.8 179.6h0M359.7 161.4h0M350.7 171.4h0M350.5 177.4h0M346.7 180.4h0M360.4 169.4h0M359.4 172.6h0M350.3 175.4h0M346.0 178.0h0M346.5 174.5h0M360.3 162.5h0M347.9 173.6h0M354.3 163.3h0M350.3 175.3h0M347.8 177.9h0M351.7 177.1h0M360.4 166.0h0M352.2 173.0h0M345.2 177.7h0M355.8 174.7h0M354.7 175.5h0M363.2 163.3h0M351.7 171.5h0M353.2 172.8h0M353.1 168.2h0M347.0 179.8h0M348.0 176.6h0M344.0 174.7h0M344.3 177.4h0M352.7 169.8h0M357.1 170.5h0M351.7 175.2h0M347.4 178.8h0M349.3 172.6h0M362.6 164.7h0M353.4 174.6h0M359.9 163.7h0M349.1 179.0h0M349.4 180.1h0M354.0 181.5h0M363.6 169.4h0M355.0 173.4h0M353.4 176.1h0M348.1 178.0h0M357.0 170.6h0M358.6 169.1h0M348.6 179.0h0M360.9 168.2h0M353.6 177.8h0M346.3 178.2h0M358.8 167.8h0M345.9 181.7h0M350.4 177.6h0M349.4 175.7h0M346.3 179.6h0M358.3 166.9h0M351.2 177.5h0M348.4 182.0h0M347.6 181.0h0M354.9 173.2h0M358.9 167.5h0M358.2 169.1h0M357.2 175.5h0M358.1 168.9h0M351.6 173.7h0M357.2 172.3h0M348.4 181.8h0M352.3 175.4h0M352.3 169.9h0M345.2 178.3h0M345.3 177.8h0M361.3 159.3h0M349.4 179.0h0M351.7 170.6h0M360.4 163.9h0M361.6 165.2h0M356.5 166.1h0M354.5 174.5h0M354.1 173.2h0M354.7 168.5h0M351.8 175.7h0M343.4 178.9h0M349.8 179.0h0M363.9 160.2h0M350.4 174.7h0M343.0 172.2h0M344.1 180.8h0M362.5 168.3h0M354.7 174.7h0M351.0 178.4h0M342.7 175.1h0M349.7 175.7h0M345.2 176.7h0M344.0 181.9h0M360.4 171.1h0M345.3 180.1h0M350.4 168.4h0M361.4 170.1h0M351.4 178.4h0M364.4 165.9h0M354.2 172.0h0M347.7 178.1h0M354.9 171.7h0M346.6 179.0h0M363.6 170.5h0M342.7 179.0h0M354.8 172.0h0M357.7 162.2h0M351.0 179.0h0M351.8 180.3h0M357.7 173.2h0M356.1 168.2h0M357.9 166.8h0M357.1 165.5h0M350.2 176.5h0M344.8 180.1h0M358.2 166.4h0M346.2 176.8h0M350.8 173.5h0M360.1 163.5h0M353.3 164.5h0M350.4 178.9h0M344.6 181.2h0M347.4 174.6h0M356.4 168.9h0M364.4 164.8h0M346.3 177.7h0M354.3 171.0h0M352.6 174.1h0M353.0 170.5h0M356.3 170.8h0M364.9 164.0h0M361.7 160.9h0M346.0 172.8h0M359.7 165.4h0M348.0 176.1h0M359.4 165.1h0M354.1 176.3h0M356.6 165.6h0M350.2 178.2h0M354.6 176.1h0M347.5 178.0h0M349.7 181.4h0M347.9 176.1h0M352.4 176.3h0M350.7 170.5h0M353.6 173.0h0M352.9 174.4h0M357.3 167.2h0M359.3 165.2h0M344.2 179.0h0M357.6 167.6h0M347.2 180.2h0M353.1 165.9h0M359.6 172.4h0M361.4 171.9h0M344.7 179.0h0M351.5 173.2h0M357.5 167.2h0M373.1 147.1h0M370.7 150.5h0M375.0 144.2h0M373.2 154.8h0M373.7 145.4h0M373.3 145.6h0M378.9 145.7h0M376.3 146.3h0M371.6 140.9h0M379.5 145.5h0M375.7 146.4h0M375.6 145.7h0M374.2 139.9h0M376.7 145.1h0M377.9 145.2h0M374.1 148.3h0M375.6 144.4h0M373.9 145.4h0M374.1 145.2h0M377.9 152.9h0M374.7 149.5h0M369.1 139.9h0M373.6 146.4h0M372.8 143.3h0M372.4 146.0h0M375.5 144.7h0M371.4 147.0h0M379.5 140.8h0M375.2 148.9h0M372.6 145.7h0M383.7 144.6h0M373.4 147.4h0M375.3 146.3h0M376.4 144.3h0M368.3 147.0h0M375.5 141.7h0M374.0 151.0h0M375.7 143.7h0M375.4 148.8h0M369.9 145.3h0M373.0 145.9h0M374.7 144.4h0M375.3 146.1h0M371.5 146.2h0M371.3 149.0h0M375.8 147.5h0M372.4 146.0h0M368.3 149.9h0M370.2 149.8h0M378.2 145.4h0M376.9 145.6h0M376.1 148.1h0M378.8 149.7h0M374.2 148.9h0M377.6 145.7h0M375.8 141.8h0M378.3 141.5h0M373.0 144.6h0M376.7 142.2h0M376.4 146.9h0M375.3 144.8h0M376.8 148.8h0M373.6 143.7h0M373.2 144.5h0M374.3 146.0h0M368.1 154.3h0M372.6 146.2h0M369.1 143.6h0M372.0 148.4h0M377.5 139.2h0M375.7 150.1h0M374.2 149.2h0M375.9 142.7h0M378.0 142.5h0M376.1 144.2h0M374.4 146.8h0M379.0 138.7h0M371.7 148.2h0M377.9 143.7h0M374.4 147.9h0M379.7 140.6h0M370.2 148.0h0M377.3 140.8h0M378.4 146.8h0M377.4 142.1h0M371.1 150.2h0M375.8 147.6h0M371.0 139.7h0M378.4 147.0h0M374.2 146.5h0M376.4 147.4h0M374.4 144.8h0M372.1 150.7h0M375.3 135.8h0M376.0 143.7h0M371.2 146.7h0M371.2 146.9h0M373.4 148.5h0M372.0 142.4h0M373.2 143.0h0M377.2 144.1h0M370.0 146.3h0M374.9 145.9h0M369.5 148.8h0M375.9 148.4h0M378.3 143.7h0M371.1 147.2h0M376.9 142.2h0M378.8 141.0h0M371.6 150.4h0M374.7 147.1h0M374.1 146.6h0M373.2 152.6h0M377.0 144.5h0M376.4 147.6h0M373.4 147.4h0M375.6 144.0h0M372.7 146.8h0M374.1 145.3h0M369.2 149.6h0M377.0 145.1h0M380.1 145.5h0M373.9 144.6h0M376.5 144.0h0M370.2 149.2h0M374.1 145.9h0M376.8 145.5h0M381.1 140.3h0M374.7 147.1h0M373.7 145.3h0M380.2 138.7h0M376.0 140.2h0M376.0 139.8h0M371.5 151.4h0M379.6 143.7h0M366.9 153.7h0M375.7 142.3h0M373.9 142.7h0M374.7 145.9h0M375.4 148.1h0M373.1 140.7h0M371.5 144.4h0M373.9 145.4h0M374.9 150.1h0M375.1 142.8h0M374.1 144.0h0M374.3 148.1h0M371.6 150.0h0M380.3 147.3h0M379.9 143.4h0M371.0 154.2h0M374.8 146.8h0M373.9 143.9h0M376.8 140.8h0M370.9 150.0h0M373.9 144.2h0M376.5 149.3h0M374.1 146.1h0M376.7 147.8h0M378.1 146.2h0M373.0 148.7h0M375.0 141.0h0M378.7 145.5h0M379.1 143.4h0M377.2 144.5h0M375.5 148.4h0M375.2 147.7h0M374.9 149.6h0M376.9 140.0h0M380.0 144.4h0M373.5 145.1h0M380.9 142.8h0M376.5 146.8h0M373.2 152.1h0M381.3 140.1h0M378.4 139.3h0M374.0 146.8h0M375.2 147.6h0M376.2 146.4h0M374.6 147.1h0M373.3 152.7h0M375.2 149.5h0M375.3 145.4h0M374.5 142.6h0M381.2 143.6h0M375.4 144.4h0M378.8 142.8h0M373.6 145.2h0M379.6 144.2h0M374.6 144.4h0M378.8 144.6h0M374.0 149.2h0M377.6 141.6h0M378.4 147.2h0M374.3 142.6h0M378.3 143.1h0M374.4 145.5h0M374.2 148.9h0M371.8 149.4h0M378.5 147.0h0M377.2 145.5h0M374.4 146.0h0M372.4 152.4h0M374.7 143.3h0M377.5 148.9h0M375.8 144.6h0M371.7 149.8h0M374.3 144.5h0M376.8 141.2h0M377.2 137.7h0M373.2 142.9h0M374.3 148.7h0M371.2 152.2h0M373.0 145.8h0M378.0 142.2h0M379.3 142.9h0M374.7 143.4h0M378.4 143.8h0M373.6 144.1h0M373.1 146.8h0M372.9 149.5h0M374.9 144.3h0M376.4 149.3h0M368.9 150.6h0M378.2 144.5h0M377.5 140.1h0M372.8 150.2h0M374.8 146.3h0M376.9 146.0h0M376.4 143.8h0" stroke="#000" stroke-width="0.6" stroke-linecap="square" stroke-opacity="0.8" fill="none"/>
<rect x="341.8" y="112.5" width="70.09999999999997" height="70.30000000000001" fill="none" stroke="#111" stroke-width="0.65"/>
<line x1="358.8" y1="112.5" x2="358.8" y2="182.8" stroke="#000" stroke-width="0.62"/>
<line x1="341.8" y1="165.4" x2="411.9" y2="165.4" stroke="#000" stroke-width="0.62"/>
<line x1="338.8" y1="182.8" x2="341.8" y2="182.8" stroke="#000" stroke-width="0.6" stroke-opacity="0.75"/>
<line x1="341.8" y1="182.8" x2="341.8" y2="185.3" stroke="#000" stroke-width="0.6" stroke-opacity="0.75"/>
<text x="335.5" y="183.4" font-size="2.8" fill-opacity="0.55" style="stroke:none">10<tspan dy="-1" font-size="2">0</tspan></text>
<line x1="338.8" y1="165.22500000000002" x2="341.8" y2="165.22500000000002" stroke="#000" stroke-width="0.6" stroke-opacity="0.75"/>
<line x1="359.325" y1="182.8" x2="359.325" y2="185.3" stroke="#000" stroke-width="0.6" stroke-opacity="0.75"/>
<text x="335.5" y="165.82500000000002" font-size="2.8" fill-opacity="0.55" style="stroke:none">10<tspan dy="-1" font-size="2">1</tspan></text>
<text x="357.125" y="188.4" font-size="2.8" fill-opacity="0.55" style="stroke:none">10<tspan dy="-1" font-size="2">1</tspan></text>
<line x1="338.8" y1="147.65" x2="341.8" y2="147.65" stroke="#000" stroke-width="0.6" stroke-opacity="0.75"/>
<line x1="376.85" y1="182.8" x2="376.85" y2="185.3" stroke="#000" stroke-width="0.6" stroke-opacity="0.75"/>
<text x="335.5" y="148.25" font-size="2.8" fill-opacity="0.55" style="stroke:none">10<tspan dy="-1" font-size="2">2</tspan></text>
<text x="374.65000000000003" y="188.4" font-size="2.8" fill-opacity="0.55" style="stroke:none">10<tspan dy="-1" font-size="2">2</tspan></text>
<line x1="338.8" y1="130.075" x2="341.8" y2="130.075" stroke="#000" stroke-width="0.6" stroke-opacity="0.75"/>
<line x1="394.375" y1="182.8" x2="394.375" y2="185.3" stroke="#000" stroke-width="0.6" stroke-opacity="0.75"/>
<text x="335.5" y="130.67499999999998" font-size="2.8" fill-opacity="0.55" style="stroke:none">10<tspan dy="-1" font-size="2">3</tspan></text>
<text x="392.175" y="188.4" font-size="2.8" fill-opacity="0.55" style="stroke:none">10<tspan dy="-1" font-size="2">3</tspan></text>
<line x1="338.8" y1="112.5" x2="341.8" y2="112.5" stroke="#000" stroke-width="0.6" stroke-opacity="0.75"/>
<line x1="411.9" y1="182.8" x2="411.9" y2="185.3" stroke="#000" stroke-width="0.6" stroke-opacity="0.75"/>
<text x="335.5" y="113.1" font-size="2.8" fill-opacity="0.55" style="stroke:none">10<tspan dy="-1" font-size="2">4</tspan></text>
<text x="409.7" y="188.4" font-size="2.8" fill-opacity="0.55" style="stroke:none">10<tspan dy="-1" font-size="2">4</tspan></text>
<path d="M340.50 177.51h1.3M347.08 182.8v1.3M340.50 174.41h1.3M350.16 182.8v1.3M340.50 172.22h1.3M352.35 182.8v1.3M340.50 170.52h1.3M354.05 182.8v1.3M340.50 169.12h1.3M355.44 182.8v1.3M340.50 167.95h1.3M356.61 182.8v1.3M340.50 166.93h1.3M357.63 182.8v1.3M340.50 166.03h1.3M358.52 182.8v1.3M340.50 159.93h1.3M364.60 182.8v1.3M340.50 156.84h1.3M367.69 182.8v1.3M340.50 154.64h1.3M369.88 182.8v1.3M340.50 152.94h1.3M371.57 182.8v1.3M340.50 151.55h1.3M372.96 182.8v1.3M340.50 150.37h1.3M374.14 182.8v1.3M340.50 149.35h1.3M375.15 182.8v1.3M340.50 148.45h1.3M376.05 182.8v1.3M340.50 142.36h1.3M382.13 182.8v1.3M340.50 139.26h1.3M385.21 182.8v1.3M340.50 137.07h1.3M387.40 182.8v1.3M340.50 135.37h1.3M389.10 182.8v1.3M340.50 133.97h1.3M390.49 182.8v1.3M340.50 132.80h1.3M391.66 182.8v1.3M340.50 131.78h1.3M392.68 182.8v1.3M340.50 130.88h1.3M393.57 182.8v1.3M340.50 124.78h1.3M399.65 182.8v1.3M340.50 121.69h1.3M402.74 182.8v1.3M340.50 119.49h1.3M404.93 182.8v1.3M340.50 117.79h1.3M406.62 182.8v1.3M340.50 116.40h1.3M408.01 182.8v1.3M340.50 115.22h1.3M409.19 182.8v1.3M340.50 114.20h1.3M410.20 182.8v1.3M340.50 113.30h1.3M411.10 182.8v1.3" stroke="#000" stroke-width="0.4" stroke-opacity="0.55" fill="none"/>
<text x="409" y="120.4" font-size="6.2" text-anchor="end" style="stroke-width:0.1px">11%</text>
<text x="343.0" y="115.9" font-size="3.3" fill-opacity="0.8" style="stroke:none">R1</text>
<text x="360.0" y="115.9" font-size="3.3" fill-opacity="0.8" style="stroke:none">R2</text>
<text x="343.0" y="168.8" font-size="3.3" fill-opacity="0.8" style="stroke:none">R3</text>
<text x="360.0" y="168.8" font-size="3.3" fill-opacity="0.8" style="stroke:none">R4</text>
<text x="334.2" y="181.8" font-size="7.1" transform="rotate(-90 334.2 181.8)">CD19</text>
<line x1="331.7" y1="160.6" x2="331.7" y2="138.3" stroke="#000" stroke-width="0.9"/>
<path d="M331.7 134.8L329.4 139.5L334.0 139.5Z" fill="#000"/>
<text x="341.2" y="194.4" font-size="7">B220</text>
<line x1="363.4" y1="191.9" x2="386.7" y2="191.9" stroke="#000" stroke-width="0.9"/>
<path d="M390.2 191.9L385.5 189.6L385.5 194.20000000000002Z" fill="#000"/>
<path d="M465.0 145.2h0M461.3 146.4h0M460.6 147.6h0M465.4 137.7h0M458.3 142.0h0M457.9 148.1h0M460.5 147.0h0M462.4 146.1h0M458.7 146.3h0M456.2 146.6h0M459.5 147.5h0M454.4 152.7h0M459.6 141.0h0M459.3 148.3h0M460.2 144.5h0M456.8 148.5h0M460.4 146.8h0M458.5 150.9h0M453.6 149.5h0M454.2 142.7h0M460.5 148.5h0M458.8 148.1h0M459.2 150.2h0M457.8 149.0h0M461.0 140.2h0M463.9 142.0h0M455.9 146.0h0M462.8 143.1h0M462.5 141.5h0M460.7 139.9h0M458.8 150.9h0M458.0 147.7h0M453.6 155.0h0M459.0 148.0h0M458.5 143.4h0M458.6 145.7h0M456.2 147.5h0M456.4 146.3h0M450.0 148.2h0M460.9 146.2h0M459.0 147.9h0M465.7 144.1h0M460.2 145.6h0M460.9 147.6h0M452.1 157.2h0M463.1 145.9h0M457.7 146.9h0M457.1 151.9h0M457.4 142.1h0M459.0 143.7h0M460.4 146.2h0M456.9 142.6h0M458.6 142.5h0M459.1 147.1h0M458.4 147.4h0M458.3 152.3h0M453.7 145.9h0M463.6 140.0h0M461.9 144.3h0M459.7 141.5h0M458.3 146.4h0M452.4 150.1h0M458.2 139.6h0M460.2 144.7h0M454.5 152.7h0M459.3 142.6h0M456.6 148.7h0M457.8 149.5h0M455.4 149.3h0M461.2 147.0h0M456.9 144.5h0M455.8 148.5h0M452.6 159.1h0M458.7 150.6h0M458.6 151.0h0M458.8 149.9h0M463.0 145.2h0M455.4 149.8h0M460.2 144.9h0M458.9 148.8h0M452.6 151.8h0M465.1 141.0h0M463.8 142.4h0M458.6 145.6h0M459.5 143.7h0M457.6 146.5h0M456.5 147.6h0M463.1 141.6h0M460.3 143.3h0M455.7 148.2h0M452.0 172.0h0M447.3 167.6h0M452.3 176.6h0M456.3 177.1h0M448.5 168.7h0M461.8 167.3h0M449.8 174.4h0M454.4 179.8h0M460.7 174.9h0M454.2 172.5h0M462.8 166.9h0M454.7 178.0h0M457.7 166.6h0M460.0 180.8h0M458.9 167.9h0M461.4 167.4h0M447.3 176.9h0M458.1 178.3h0M455.5 166.2h0M447.6 176.0h0M459.2 170.9h0M459.2 171.4h0M454.3 176.7h0M458.0 176.0h0M449.2 176.7h0M459.5 177.8h0M457.1 175.1h0M450.9 181.9h0M462.6 169.4h0M457.5 177.8h0M454.6 169.9h0M452.6 167.6h0M459.8 173.8h0M463.0 168.6h0M462.7 176.0h0M455.8 166.8h0M448.1 173.5h0M449.0 175.8h0M450.8 180.7h0M457.4 165.8h0M460.8 176.6h0M450.5 171.4h0M457.8 180.2h0M453.4 178.7h0M462.0 181.2h0M455.5 152.2h0M457.8 149.4h0M454.9 153.2h0M447.6 157.4h0M450.8 164.0h0M448.0 151.3h0M462.3 150.2h0M449.7 163.3h0M457.8 144.7h0M453.6 153.1h0M453.8 155.6h0M459.3 153.0h0M450.2 162.1h0M454.1 156.6h0M451.8 159.1h0M443.6 165.6h0M451.2 158.0h0M451.7 153.0h0M464.3 147.7h0M453.4 143.3h0M444.2 161.0h0M442.9 162.5h0M451.9 155.8h0M459.2 149.7h0M457.8 146.4h0M463.6 145.6h0M452.3 158.0h0M451.0 158.0h0M453.0 157.3h0M456.8 162.2h0" stroke="#000" stroke-width="0.6" stroke-linecap="square" stroke-opacity="0.45" fill="none"/>
<path d="M444.7 170.5h0M430.4 180.2h0M426.1 181.0h0M439.2 170.6h0M434.9 177.2h0M431.8 174.6h0M431.3 175.9h0M445.4 166.3h0M437.4 167.8h0M442.8 169.3h0M432.9 178.3h0M431.7 180.1h0M441.3 169.0h0M446.5 166.8h0M430.9 182.0h0M440.5 169.9h0M435.7 173.4h0M427.7 180.7h0M426.6 181.0h0M434.3 173.4h0M434.6 171.2h0M438.3 172.0h0M428.6 181.3h0M426.4 181.1h0M427.1 180.8h0M431.0 174.1h0M444.3 164.5h0M430.2 180.6h0M432.3 173.1h0M439.0 171.8h0M439.1 171.7h0M440.8 171.3h0M437.2 167.7h0M434.7 176.5h0M443.5 169.2h0M432.6 174.4h0M426.7 180.0h0M431.2 179.2h0M440.8 172.4h0M437.8 169.0h0M441.1 174.0h0M434.2 178.7h0M426.7 182.1h0M429.0 180.6h0M444.2 168.9h0M428.1 180.3h0M431.2 176.9h0M432.1 176.2h0M430.0 179.1h0M442.8 167.0h0M437.1 170.3h0M428.2 178.6h0M446.7 167.1h0M439.6 174.6h0M443.5 172.1h0M438.5 169.7h0M437.5 172.4h0M439.6 168.6h0M442.8 171.2h0M439.7 173.2h0M431.2 177.4h0M443.9 171.8h0M430.4 182.0h0M439.4 176.6h0M431.7 180.7h0M433.3 177.4h0M430.8 176.3h0M442.8 171.0h0M432.2 177.7h0M435.4 176.5h0M432.7 178.9h0M444.5 163.5h0M441.2 165.9h0M433.0 174.1h0M438.9 176.1h0M433.6 181.6h0M429.6 180.2h0M430.6 177.5h0M428.2 179.8h0M430.5 181.2h0M428.0 179.9h0M429.7 181.8h0M428.6 180.2h0M437.5 174.7h0M428.1 176.9h0M433.0 178.4h0M431.6 174.4h0M431.0 181.4h0M442.5 164.8h0M442.4 168.3h0M450.0 165.7h0M436.2 175.9h0M441.3 173.5h0M431.1 181.5h0M437.7 170.4h0M442.2 171.6h0M427.4 181.5h0M441.1 173.2h0M430.5 174.6h0M433.3 180.6h0M430.8 182.1h0M440.3 169.5h0M442.7 171.7h0M429.9 181.6h0M433.8 175.8h0M445.8 166.4h0M429.1 180.9h0M439.4 172.0h0M437.8 172.5h0M432.6 176.7h0M434.8 173.6h0M431.2 180.7h0M446.2 164.0h0M443.4 168.8h0M438.5 168.9h0M442.3 165.3h0M443.9 167.1h0M444.3 168.4h0M427.0 181.7h0M432.2 181.4h0M440.4 169.6h0M439.9 168.8h0M427.8 181.6h0M436.5 176.9h0M432.3 179.4h0M431.6 176.0h0M441.6 172.7h0M442.0 170.1h0M431.7 178.0h0M431.4 176.7h0M429.2 179.9h0M426.4 179.4h0M440.0 171.7h0M441.2 169.2h0M430.0 178.0h0M429.6 181.9h0M442.0 171.9h0M436.7 176.6h0M440.6 173.4h0M436.4 171.9h0M431.7 175.4h0M438.5 169.0h0M431.8 179.6h0M428.0 180.5h0M427.7 181.2h0M429.6 176.1h0M434.1 177.9h0M433.3 177.4h0M439.8 174.5h0M431.3 179.8h0M437.4 173.2h0M437.1 175.1h0M434.9 176.5h0M445.7 167.6h0M432.7 178.4h0M442.4 170.5h0M431.7 179.0h0M436.4 171.7h0M442.5 171.1h0M445.7 167.4h0M431.6 178.4h0M442.3 167.1h0M428.5 178.1h0M432.5 179.4h0M433.1 179.7h0M437.9 171.3h0M433.0 175.4h0M441.3 169.5h0M433.0 175.9h0M426.8 182.0h0M432.0 179.6h0M432.0 178.1h0M426.9 179.1h0M441.0 170.4h0M431.2 178.7h0M438.7 171.1h0M440.9 169.8h0M434.6 178.1h0M427.7 179.0h0M440.5 170.7h0M428.4 179.5h0M448.8 163.9h0M428.2 182.0h0M426.5 180.0h0M428.7 181.5h0M438.6 171.1h0M427.7 179.1h0M435.2 175.1h0M428.7 179.1h0M432.3 176.0h0M436.6 174.2h0M428.9 178.4h0M429.3 182.2h0M441.1 168.8h0M442.7 170.1h0M439.1 168.4h0M431.8 181.5h0M431.0 176.7h0M441.8 166.0h0M445.2 168.6h0M440.9 172.6h0M435.2 176.0h0M438.0 171.7h0M431.9 176.4h0M439.3 172.6h0M443.2 164.8h0M438.5 171.7h0M433.7 176.0h0M432.7 173.9h0M439.5 172.0h0M431.6 179.5h0M433.8 172.8h0M443.2 165.4h0M431.3 177.2h0M428.4 177.6h0M441.2 162.3h0M426.9 178.8h0M430.0 178.7h0M449.6 167.2h0M431.0 179.3h0M443.8 168.9h0M429.4 176.8h0M433.5 177.1h0M438.5 174.4h0M428.3 179.2h0M434.9 170.8h0M444.9 166.1h0M434.8 176.2h0M438.7 173.1h0M430.3 174.8h0M426.1 180.6h0M435.6 176.1h0M443.3 169.6h0M428.4 178.4h0M428.0 178.3h0M438.7 173.3h0M429.1 180.7h0M436.9 171.1h0M428.1 180.5h0M440.2 172.0h0M430.0 177.1h0M445.0 169.4h0M437.2 171.7h0M426.2 181.5h0M445.2 170.5h0M436.6 170.1h0M439.0 169.9h0M435.3 169.2h0M440.4 170.9h0M442.4 168.2h0M437.7 171.9h0M447.5 168.8h0M432.9 175.2h0M440.1 169.5h0M441.1 169.1h0M431.9 177.2h0M442.5 165.7h0M426.4 178.7h0M430.9 178.6h0M438.9 174.1h0M429.4 179.8h0M439.2 170.9h0M435.5 175.2h0M437.7 176.1h0M437.6 175.0h0M438.8 172.6h0M428.6 180.8h0M426.2 180.0h0M440.5 173.6h0M436.2 174.1h0M434.4 177.7h0M446.7 171.7h0M442.9 168.7h0M425.9 181.2h0M438.3 174.4h0M439.3 167.8h0M446.7 167.6h0M428.9 180.7h0M441.7 167.2h0M437.4 175.3h0M435.7 173.4h0M436.3 171.1h0M436.1 172.9h0M429.3 176.9h0M447.9 163.1h0M432.3 181.0h0M426.8 178.8h0M444.4 169.9h0M428.5 181.4h0M439.0 170.5h0M438.7 179.2h0M430.7 179.1h0M440.6 170.7h0M428.7 178.4h0M430.4 179.9h0M429.0 178.4h0M438.2 173.9h0M432.6 179.8h0M429.4 181.8h0M429.4 180.1h0M431.4 181.1h0M436.2 178.1h0M440.2 168.8h0M425.8 179.7h0M442.8 170.0h0M429.5 179.7h0M428.1 177.4h0M431.5 178.3h0M438.9 175.2h0M430.8 176.4h0M432.4 175.5h0M431.3 182.1h0M441.4 172.8h0M430.5 180.0h0M426.0 181.9h0M427.1 180.8h0M432.9 176.1h0M433.7 169.9h0M429.7 177.4h0M435.8 176.4h0M431.9 179.0h0M443.1 171.7h0M425.9 181.1h0M426.7 181.5h0M444.1 166.9h0M440.3 175.0h0M441.8 170.2h0M439.7 168.5h0M437.5 173.3h0M441.2 170.3h0M439.6 169.1h0M431.9 179.2h0M441.1 171.6h0M435.1 177.5h0M429.0 179.8h0M431.9 177.7h0M442.0 169.4h0M434.8 172.4h0M448.9 163.9h0M432.6 182.1h0M437.1 173.4h0M432.8 180.1h0M446.1 163.1h0M425.9 181.0h0M428.8 178.0h0M428.6 177.8h0M440.5 166.4h0M429.6 182.1h0M427.2 177.9h0M436.1 175.6h0M438.5 170.9h0M446.9 160.1h0M447.4 161.0h0M446.0 168.3h0M432.6 175.9h0M429.0 175.9h0M435.7 176.2h0M444.3 169.8h0M437.9 170.5h0M426.4 182.1h0M431.1 181.3h0M437.9 175.9h0M432.8 177.0h0M440.3 168.9h0M430.5 176.9h0M431.7 180.0h0M429.9 179.5h0M434.0 177.3h0M441.9 173.2h0M434.6 178.5h0M428.0 179.6h0M425.9 178.9h0M429.9 176.9h0M426.1 182.0h0M446.1 168.1h0M426.9 178.7h0M441.3 166.7h0M443.4 168.0h0M432.7 177.7h0M436.9 171.5h0M439.2 170.4h0M438.1 178.8h0M426.9 180.1h0M429.9 180.3h0M446.8 167.2h0M430.5 178.1h0M446.7 165.7h0M438.7 168.0h0M430.3 178.8h0M437.1 170.2h0M433.1 175.6h0M428.9 175.5h0M427.4 179.5h0M427.0 181.9h0M444.0 168.9h0M437.2 172.8h0M434.8 176.5h0M431.1 179.3h0M426.0 179.1h0M437.8 172.6h0M444.4 168.5h0M436.4 174.5h0M444.3 162.4h0M446.2 163.4h0M428.0 180.2h0M433.7 178.4h0M440.2 170.6h0M430.0 178.3h0M435.5 172.7h0M428.4 180.1h0M447.5 166.3h0M440.2 171.1h0M443.9 166.8h0M433.8 179.4h0M437.8 171.0h0M440.9 166.1h0M443.8 166.8h0M446.2 166.5h0M429.5 178.9h0M428.0 177.1h0M438.7 173.9h0M432.3 176.2h0M438.8 173.9h0M443.2 173.0h0M435.8 176.8h0M434.8 178.0h0M427.7 178.5h0M431.5 178.4h0M440.2 174.3h0M439.1 171.5h0M441.6 176.4h0M429.5 179.7h0M445.1 165.1h0M444.9 164.4h0M431.3 181.6h0M441.6 166.2h0M431.9 174.4h0M430.6 180.1h0M430.4 180.9h0M445.9 165.9h0M445.0 170.2h0M430.5 181.2h0M436.6 175.1h0M442.0 169.0h0M429.8 181.9h0M448.0 167.6h0M430.8 175.9h0M442.7 175.8h0M440.1 171.2h0M441.1 168.4h0M442.9 165.4h0M428.9 181.8h0M431.1 180.6h0M439.6 169.5h0M444.8 168.4h0M442.3 167.0h0M439.8 169.1h0M429.1 178.1h0M428.8 178.2h0M446.3 167.2h0M445.4 164.7h0M437.6 172.3h0M434.7 178.3h0M432.2 174.1h0M438.8 172.5h0M429.7 181.7h0M440.7 168.8h0M439.9 175.7h0M436.8 173.1h0M442.0 176.1h0M431.8 178.4h0M443.4 166.0h0M426.7 181.8h0M430.2 181.7h0M448.2 163.1h0M433.6 171.9h0M446.0 168.8h0M430.8 179.6h0M426.2 182.0h0M446.3 168.1h0M427.4 181.1h0M431.9 177.2h0M428.9 180.9h0M433.1 174.7h0M431.9 178.4h0M430.8 179.0h0M428.9 179.9h0M444.4 166.4h0M426.2 179.6h0M429.3 179.9h0M431.3 179.3h0M429.3 181.7h0M445.6 161.7h0M434.0 173.5h0M435.7 175.1h0M428.5 181.9h0M426.5 179.9h0M445.0 168.7h0M440.7 171.6h0M439.8 169.9h0M434.4 176.6h0M432.3 179.9h0M437.3 171.8h0M436.7 174.6h0M428.8 175.4h0M426.4 181.5h0M436.5 175.1h0M429.1 179.9h0M430.2 180.4h0M435.8 171.6h0M434.5 172.5h0M439.5 172.4h0M432.2 175.9h0M433.6 174.9h0M432.5 175.5h0M434.9 178.1h0M438.7 172.3h0M440.7 165.7h0M434.4 176.3h0M444.9 164.4h0M443.4 167.2h0M435.8 176.1h0M438.5 171.2h0M430.5 178.3h0M443.4 170.1h0M434.2 178.4h0M439.6 170.8h0M427.4 177.8h0M442.2 167.7h0M439.2 169.0h0M444.5 167.6h0M445.4 166.4h0M433.3 176.1h0M433.4 177.0h0M434.1 179.8h0M439.1 168.1h0M426.6 177.9h0M442.2 170.9h0M429.8 179.6h0M429.9 174.9h0M443.7 168.3h0M440.2 168.3h0M430.5 178.5h0M433.0 178.4h0M426.1 180.7h0M437.6 170.7h0M427.9 180.4h0M427.3 180.2h0M442.5 167.1h0M449.0 164.3h0M440.3 172.5h0M432.0 181.6h0M450.7 164.0h0M427.6 170.2h0M440.6 169.5h0M435.0 175.0h0M439.9 170.6h0M442.0 167.2h0M431.5 181.8h0M434.7 170.7h0M427.1 179.2h0M426.6 181.9h0M444.0 167.1h0M442.3 173.8h0M440.6 169.9h0M426.7 177.5h0M431.4 175.6h0M434.1 177.1h0M440.9 168.2h0M429.8 179.9h0M442.0 171.5h0M443.7 167.9h0M439.1 172.9h0M437.3 175.5h0M430.4 176.7h0M439.3 171.0h0M434.5 178.0h0M434.9 174.8h0M438.4 167.5h0M439.0 170.0h0M448.2 164.1h0M427.8 179.9h0M441.6 172.9h0M428.1 179.0h0M437.1 175.7h0M426.6 178.0h0M433.4 177.2h0M437.3 173.2h0M427.6 181.8h0M433.2 174.2h0M430.7 176.5h0M428.0 179.3h0M431.5 174.4h0M445.7 165.3h0M433.5 179.3h0M435.0 176.1h0M431.3 175.3h0M446.2 170.2h0M426.8 181.0h0M430.8 180.4h0M444.0 167.6h0M434.2 178.0h0M436.9 173.9h0M427.2 180.1h0M441.5 166.7h0M428.3 178.7h0M442.4 168.5h0M429.1 181.5h0M429.2 181.8h0M442.6 164.5h0M431.6 175.6h0M431.0 174.1h0M442.5 163.9h0M432.1 180.7h0M428.7 178.2h0M431.5 176.5h0M426.6 181.4h0M430.0 181.1h0M439.1 168.1h0M430.8 180.4h0M430.3 179.7h0M432.2 181.3h0M441.2 167.9h0M432.5 178.1h0M431.3 178.3h0M436.8 172.1h0M444.0 166.7h0M432.6 176.5h0M428.7 178.6h0M438.9 170.2h0M442.6 168.5h0M437.6 172.3h0M437.3 176.1h0M442.4 170.0h0M430.9 176.3h0M436.5 176.4h0M447.2 167.1h0M430.5 179.6h0M436.8 178.2h0M446.4 167.4h0M426.8 181.8h0M429.1 179.9h0M429.2 177.2h0M432.2 179.1h0M428.2 181.7h0M434.4 177.0h0M440.5 171.5h0M429.0 179.0h0M435.2 170.6h0M436.3 177.1h0M429.5 179.3h0M435.6 169.9h0M444.1 168.4h0M428.0 179.4h0M436.5 171.0h0M429.4 179.4h0M427.0 180.7h0M441.9 176.0h0M427.5 178.3h0M428.4 177.4h0M430.8 176.5h0M444.4 169.4h0M432.0 179.3h0M429.4 180.2h0M428.8 178.0h0M437.4 180.2h0M433.8 171.5h0M438.6 168.1h0M436.1 175.6h0M439.0 169.5h0M426.6 180.5h0M429.4 178.0h0M444.2 168.9h0M431.6 180.4h0M427.9 181.6h0M436.0 173.6h0M435.1 177.9h0M434.9 174.1h0M443.9 169.4h0M431.3 179.6h0M428.8 179.7h0M426.5 182.1h0M429.9 181.1h0M427.0 180.2h0M446.5 165.6h0M444.4 162.4h0M433.7 177.4h0M443.6 169.1h0M444.6 167.3h0M439.7 168.8h0M429.4 182.1h0M426.4 180.8h0M430.0 180.2h0M427.6 179.5h0M444.9 166.5h0M426.3 177.3h0M441.2 171.6h0M430.5 177.7h0M440.1 172.9h0M426.7 181.5h0M440.8 169.4h0M429.5 177.8h0M431.6 179.8h0M426.6 180.1h0M441.6 166.4h0M432.6 176.5h0M442.6 170.7h0M426.0 178.3h0M438.7 171.1h0M434.1 174.0h0M429.7 178.1h0M435.9 176.9h0M430.8 178.9h0M429.0 180.8h0M439.7 172.8h0M439.8 169.9h0M448.0 165.4h0M434.4 173.2h0M435.3 174.2h0M429.5 181.8h0M435.4 181.9h0M436.9 177.6h0M432.0 178.1h0M431.2 179.1h0M431.4 181.4h0M426.5 173.4h0M438.8 179.8h0M430.3 180.9h0M433.7 176.1h0M432.8 174.7h0M427.3 180.2h0M432.1 176.8h0M435.4 176.4h0M435.1 180.8h0M430.0 179.7h0M430.9 179.8h0M430.3 177.9h0M428.4 176.6h0M433.2 180.3h0M432.6 177.4h0M429.7 182.2h0M436.5 180.3h0M432.4 173.3h0M437.6 177.7h0M426.5 178.7h0M428.9 178.8h0M427.7 181.3h0M432.1 176.5h0M433.0 180.2h0M427.4 180.0h0M432.2 177.9h0M431.4 178.6h0M428.9 178.4h0M429.5 180.0h0M430.2 175.6h0M430.8 179.2h0M428.1 181.5h0M432.4 179.0h0M428.0 180.4h0M428.2 177.6h0M429.3 182.0h0M430.0 179.3h0M429.8 181.2h0M430.4 181.7h0M430.4 181.8h0M429.9 177.9h0M432.4 179.2h0M429.3 177.8h0M432.7 178.7h0M429.8 177.9h0M426.1 175.8h0M429.4 181.2h0M427.7 178.9h0M428.3 179.2h0M433.0 180.6h0M435.6 181.5h0M432.6 181.1h0M433.7 177.2h0M427.9 179.9h0M429.7 180.5h0M428.7 180.7h0M430.4 177.4h0M431.7 182.1h0M429.7 180.0h0M434.6 179.3h0M429.8 180.5h0M432.4 180.7h0M435.1 180.8h0M426.7 175.8h0M431.0 178.7h0M431.8 181.0h0M435.1 176.6h0M433.5 180.2h0M432.5 177.8h0M427.9 178.2h0M434.3 179.0h0M432.2 173.4h0M439.0 175.2h0M432.5 177.8h0M431.6 177.5h0M431.3 178.3h0M427.3 181.4h0M430.8 179.8h0M426.6 178.0h0M429.9 178.3h0M432.0 179.8h0M430.0 179.3h0M427.1 182.1h0M433.9 181.7h0M428.9 180.2h0M438.0 176.5h0M433.7 179.1h0M436.5 180.1h0M433.7 178.2h0M426.4 178.5h0M429.9 176.7h0M432.9 176.7h0M431.0 179.1h0M433.6 180.4h0M433.3 179.3h0M430.4 181.3h0M426.5 177.2h0M427.0 180.3h0M428.4 181.5h0M432.0 179.6h0M433.9 179.1h0M430.4 180.5h0M433.5 177.7h0M429.2 177.9h0M432.8 180.7h0M431.5 176.5h0M428.0 176.2h0M426.1 177.9h0M431.8 180.9h0M433.7 176.0h0M432.5 180.3h0M431.9 177.9h0M435.7 180.0h0M428.8 175.3h0M429.9 176.3h0M430.6 182.1h0M434.6 181.5h0M429.3 176.8h0M430.2 180.0h0M430.3 179.0h0M431.3 176.2h0M434.4 176.8h0M431.2 177.6h0M435.5 178.3h0M427.6 178.8h0M433.8 176.7h0M426.3 178.4h0M433.4 172.5h0M430.2 182.0h0M430.4 175.1h0M429.3 181.2h0M427.0 179.0h0M428.5 180.7h0M439.3 179.9h0M429.8 178.7h0M432.5 181.6h0M431.6 180.6h0M431.4 176.7h0M433.5 181.9h0M428.1 175.4h0M428.7 180.2h0M435.7 180.3h0M431.0 180.3h0M431.3 181.4h0M428.4 178.6h0M429.2 180.9h0M437.7 180.2h0M431.4 177.4h0M433.7 178.5h0M431.7 177.5h0M433.0 179.3h0M428.8 181.7h0M432.3 178.4h0M431.4 182.1h0M430.4 178.9h0M433.0 174.0h0M436.4 178.5h0M428.2 180.7h0M436.1 177.9h0M433.8 178.4h0M434.6 180.9h0M435.8 179.5h0M433.7 176.5h0M427.5 181.0h0M431.2 181.9h0M438.9 178.1h0M426.7 177.1h0M432.2 178.9h0M433.2 179.3h0M431.7 179.6h0M426.1 181.7h0M431.2 178.2h0M431.5 177.9h0M430.7 178.8h0M432.0 177.4h0M430.5 178.7h0M427.4 179.5h0M433.3 181.5h0M432.0 179.4h0M434.2 179.0h0M433.2 175.4h0M426.7 177.9h0M434.8 179.0h0M432.5 176.9h0M430.9 178.0h0M431.8 179.1h0M429.2 173.5h0M431.7 174.1h0M429.1 175.8h0M437.9 176.5h0M429.5 180.6h0M429.8 180.3h0M434.1 178.1h0M432.7 179.3h0M426.3 180.4h0M430.9 180.1h0M434.4 177.6h0M433.4 180.7h0M427.6 178.1h0M429.4 180.6h0M429.1 179.2h0M428.9 180.0h0M440.6 179.6h0M433.8 176.7h0M427.2 178.5h0M441.8 178.1h0M435.9 178.4h0M426.5 174.9h0M428.1 178.6h0M427.0 177.8h0M434.6 178.3h0M427.2 181.2h0M431.9 179.5h0M438.3 180.4h0M435.1 176.5h0M433.6 181.9h0M435.8 181.6h0M435.7 172.6h0M431.3 181.6h0M435.4 177.2h0M434.8 181.6h0M435.5 181.9h0M429.3 180.3h0M439.8 177.5h0M438.2 180.7h0M428.5 177.8h0M436.6 180.4h0M428.6 179.1h0M429.6 179.3h0M437.5 177.9h0M429.8 172.0h0M432.8 182.0h0M438.5 178.0h0M429.9 178.6h0M426.4 179.6h0M428.1 179.0h0M431.5 181.5h0M432.2 180.9h0M432.9 179.4h0M434.5 180.0h0M426.1 178.3h0M436.4 175.6h0M437.4 179.9h0M431.8 178.4h0M426.7 181.4h0M431.4 177.2h0M435.3 181.8h0M439.2 180.3h0M426.5 179.9h0M433.8 181.8h0M426.1 180.8h0M433.5 180.6h0M430.6 179.0h0M434.4 178.6h0M432.8 177.6h0M429.1 179.5h0M428.6 179.1h0M432.2 178.5h0M431.3 178.6h0M433.2 178.3h0M429.2 176.2h0M428.2 175.8h0M430.5 182.1h0M426.2 177.4h0M428.2 180.7h0M429.9 178.8h0M427.5 178.9h0M429.7 177.5h0M436.2 180.8h0M430.4 180.3h0M439.5 181.1h0M429.0 179.5h0M435.2 180.7h0M430.0 179.8h0M426.9 178.7h0M429.5 178.9h0M436.0 179.6h0M435.3 179.5h0M429.0 179.3h0M429.2 181.1h0M427.6 182.0h0M428.9 181.2h0M437.0 178.9h0M431.2 177.2h0M430.3 175.9h0M433.7 179.4h0M435.3 179.5h0M430.2 177.5h0M433.4 179.2h0M426.6 175.8h0M434.5 179.3h0M430.8 178.2h0M429.1 179.5h0M431.7 176.6h0M440.2 181.8h0M435.2 177.9h0M426.0 180.9h0M428.7 179.5h0M437.1 179.5h0M435.9 177.6h0M429.6 181.2h0M432.6 174.6h0M426.9 178.4h0M428.3 177.9h0M429.8 179.9h0M430.4 175.9h0M432.8 181.8h0M432.7 179.6h0M433.5 182.0h0M428.4 180.4h0M433.9 177.2h0M429.3 174.2h0M429.7 176.3h0M431.2 178.3h0M428.5 178.7h0M429.5 179.5h0M434.9 173.3h0M436.0 179.0h0M432.3 177.3h0M433.2 180.9h0M428.9 176.7h0M432.9 180.6h0M427.7 174.2h0M426.9 180.5h0M435.7 177.1h0M428.9 176.8h0M432.3 177.6h0M437.2 180.9h0M430.3 178.5h0M434.7 178.5h0M429.6 179.8h0M429.7 176.5h0M427.7 179.1h0M433.4 173.1h0M433.4 180.5h0M431.8 175.9h0M431.4 178.2h0M427.6 181.0h0M435.6 179.9h0M433.2 181.9h0M431.2 178.5h0M436.5 178.0h0M430.0 180.3h0M429.5 177.1h0M435.1 179.4h0M428.5 178.1h0M433.2 181.5h0M434.4 176.7h0M430.7 180.3h0M431.0 177.1h0M432.8 179.3h0M429.7 181.7h0M431.0 179.9h0M434.5 178.9h0M431.2 179.3h0M434.4 177.9h0M432.5 177.7h0M431.4 182.2h0M428.3 180.6h0M431.4 180.0h0M433.0 179.7h0M428.6 176.9h0M433.8 180.4h0M438.3 178.0h0M433.7 178.1h0M429.4 178.0h0M428.2 177.2h0M430.0 179.1h0M431.3 181.4h0M427.9 179.3h0M428.0 181.5h0M427.9 178.6h0M428.3 182.1h0M426.8 176.7h0M429.7 178.6h0M429.2 174.4h0M430.4 176.3h0M428.8 178.3h0M427.9 178.5h0M429.7 181.0h0M440.1 177.8h0M437.2 181.4h0M429.2 176.5h0M435.9 177.3h0M427.4 179.8h0M427.8 181.1h0M431.4 179.0h0M433.0 177.8h0M435.4 178.4h0M436.9 176.4h0M433.4 179.2h0M426.2 180.4h0M429.7 178.8h0M428.8 179.1h0M429.7 180.0h0M433.1 181.9h0M425.7 179.9h0M430.6 181.0h0M428.8 179.8h0M427.7 178.6h0M432.4 178.3h0M428.1 179.1h0M432.3 180.5h0M426.9 178.4h0M427.0 177.0h0M433.6 178.8h0M435.4 181.2h0M433.8 181.6h0M432.3 180.4h0M429.7 175.4h0M432.8 181.1h0M431.0 181.3h0M430.5 179.3h0M433.3 175.4h0M436.0 178.6h0M433.0 181.0h0M426.5 177.2h0M431.7 175.5h0M433.2 179.2h0M428.3 181.5h0M427.7 177.7h0M431.0 181.6h0M430.3 178.7h0M431.7 178.6h0M432.7 182.2h0M431.5 180.6h0M461.1 144.3h0M459.8 144.2h0M458.9 147.4h0M461.6 143.9h0M456.1 151.0h0M457.3 149.3h0M456.2 145.9h0M455.1 150.4h0M461.1 153.0h0M464.6 143.8h0M454.9 148.3h0M460.6 146.6h0M460.3 143.3h0M459.2 151.1h0M458.6 145.8h0M457.0 146.1h0M462.9 145.3h0M458.7 145.8h0M461.9 143.5h0M458.0 146.4h0M453.6 152.3h0M457.9 149.0h0M459.9 148.5h0M458.6 152.8h0M461.3 144.7h0M460.7 140.5h0M457.1 142.6h0M459.3 151.7h0M460.8 142.0h0M456.1 149.1h0M461.5 144.7h0M463.5 144.6h0M464.9 145.3h0M465.0 136.7h0M461.8 146.9h0" stroke="#000" stroke-width="0.6" stroke-linecap="square" stroke-opacity="0.8" fill="none"/>
<rect x="425.1" y="113.1" width="69.69999999999999" height="69.70000000000002" fill="none" stroke="#111" stroke-width="0.65"/>
<line x1="447.3" y1="113.1" x2="447.3" y2="182.8" stroke="#000" stroke-width="0.62"/>
<line x1="425.1" y1="165.6" x2="494.8" y2="165.6" stroke="#000" stroke-width="0.62"/>
<line x1="422.1" y1="182.8" x2="425.1" y2="182.8" stroke="#000" stroke-width="0.6" stroke-opacity="0.75"/>
<line x1="425.1" y1="182.8" x2="425.1" y2="185.3" stroke="#000" stroke-width="0.6" stroke-opacity="0.75"/>
<text x="418.8" y="183.4" font-size="2.8" fill-opacity="0.55" style="stroke:none">10<tspan dy="-1" font-size="2">0</tspan></text>
<line x1="422.1" y1="165.375" x2="425.1" y2="165.375" stroke="#000" stroke-width="0.6" stroke-opacity="0.75"/>
<line x1="442.52500000000003" y1="182.8" x2="442.52500000000003" y2="185.3" stroke="#000" stroke-width="0.6" stroke-opacity="0.75"/>
<text x="418.8" y="165.975" font-size="2.8" fill-opacity="0.55" style="stroke:none">10<tspan dy="-1" font-size="2">1</tspan></text>
<text x="440.32500000000005" y="188.4" font-size="2.8" fill-opacity="0.55" style="stroke:none">10<tspan dy="-1" font-size="2">1</tspan></text>
<line x1="422.1" y1="147.95" x2="425.1" y2="147.95" stroke="#000" stroke-width="0.6" stroke-opacity="0.75"/>
<line x1="459.95000000000005" y1="182.8" x2="459.95000000000005" y2="185.3" stroke="#000" stroke-width="0.6" stroke-opacity="0.75"/>
<text x="418.8" y="148.54999999999998" font-size="2.8" fill-opacity="0.55" style="stroke:none">10<tspan dy="-1" font-size="2">2</tspan></text>
<text x="457.75000000000006" y="188.4" font-size="2.8" fill-opacity="0.55" style="stroke:none">10<tspan dy="-1" font-size="2">2</tspan></text>
<line x1="422.1" y1="130.525" x2="425.1" y2="130.525" stroke="#000" stroke-width="0.6" stroke-opacity="0.75"/>
<line x1="477.375" y1="182.8" x2="477.375" y2="185.3" stroke="#000" stroke-width="0.6" stroke-opacity="0.75"/>
<text x="418.8" y="131.125" font-size="2.8" fill-opacity="0.55" style="stroke:none">10<tspan dy="-1" font-size="2">3</tspan></text>
<text x="475.175" y="188.4" font-size="2.8" fill-opacity="0.55" style="stroke:none">10<tspan dy="-1" font-size="2">3</tspan></text>
<line x1="422.1" y1="113.1" x2="425.1" y2="113.1" stroke="#000" stroke-width="0.6" stroke-opacity="0.75"/>
<line x1="494.8" y1="182.8" x2="494.8" y2="185.3" stroke="#000" stroke-width="0.6" stroke-opacity="0.75"/>
<text x="418.8" y="113.69999999999999" font-size="2.8" fill-opacity="0.55" style="stroke:none">10<tspan dy="-1" font-size="2">4</tspan></text>
<text x="492.6" y="188.4" font-size="2.8" fill-opacity="0.55" style="stroke:none">10<tspan dy="-1" font-size="2">4</tspan></text>
<path d="M423.80 177.55h1.3M430.35 182.8v1.3M423.80 174.49h1.3M433.41 182.8v1.3M423.80 172.31h1.3M435.59 182.8v1.3M423.80 170.62h1.3M437.28 182.8v1.3M423.80 169.24h1.3M438.66 182.8v1.3M423.80 168.07h1.3M439.83 182.8v1.3M423.80 167.06h1.3M440.84 182.8v1.3M423.80 166.17h1.3M441.73 182.8v1.3M423.80 160.13h1.3M447.77 182.8v1.3M423.80 157.06h1.3M450.84 182.8v1.3M423.80 154.88h1.3M453.02 182.8v1.3M423.80 153.20h1.3M454.70 182.8v1.3M423.80 151.82h1.3M456.08 182.8v1.3M423.80 150.65h1.3M457.25 182.8v1.3M423.80 149.64h1.3M458.26 182.8v1.3M423.80 148.75h1.3M459.15 182.8v1.3M423.80 142.70h1.3M465.20 182.8v1.3M423.80 139.64h1.3M468.26 182.8v1.3M423.80 137.46h1.3M470.44 182.8v1.3M423.80 135.77h1.3M472.13 182.8v1.3M423.80 134.39h1.3M473.51 182.8v1.3M423.80 133.22h1.3M474.68 182.8v1.3M423.80 132.21h1.3M475.69 182.8v1.3M423.80 131.32h1.3M476.58 182.8v1.3M423.80 125.28h1.3M482.62 182.8v1.3M423.80 122.21h1.3M485.69 182.8v1.3M423.80 120.03h1.3M487.87 182.8v1.3M423.80 118.35h1.3M489.55 182.8v1.3M423.80 116.97h1.3M490.93 182.8v1.3M423.80 115.80h1.3M492.10 182.8v1.3M423.80 114.79h1.3M493.11 182.8v1.3M423.80 113.90h1.3M494.00 182.8v1.3" stroke="#000" stroke-width="0.4" stroke-opacity="0.55" fill="none"/>
<text x="492.9" y="120.4" font-size="6.2" text-anchor="end" style="stroke-width:0.1px">3.7%</text>
<text x="426.3" y="116.5" font-size="3.3" fill-opacity="0.8" style="stroke:none">R1</text>
<text x="448.5" y="116.5" font-size="3.3" fill-opacity="0.8" style="stroke:none">R2</text>
<text x="426.3" y="169.0" font-size="3.3" fill-opacity="0.8" style="stroke:none">R3</text>
<text x="448.5" y="169.0" font-size="3.3" fill-opacity="0.8" style="stroke:none">R4</text>
<path d="M355.1 249.6h0M372.3 237.6h0M360.9 236.1h0M392.5 221.2h0M354.3 240.9h0M379.9 233.2h0M382.2 234.6h0M353.7 226.4h0M359.3 228.6h0M351.0 248.5h0M360.8 222.2h0M349.2 232.6h0M346.6 231.4h0M350.3 232.6h0M349.8 224.0h0M392.8 216.7h0M369.4 245.4h0M382.7 220.3h0M358.9 235.9h0M381.0 249.0h0M371.0 220.1h0M344.8 236.2h0M388.5 224.4h0M379.1 242.8h0M343.1 222.2h0M368.5 223.4h0M348.5 239.1h0M350.7 237.8h0M394.7 216.2h0M355.9 218.7h0M367.7 244.0h0M382.5 226.7h0M359.8 235.1h0M371.1 217.9h0M390.4 244.7h0M381.4 218.1h0M371.8 220.2h0M391.3 221.7h0M348.2 234.0h0M368.7 231.4h0M380.9 235.7h0M364.9 247.4h0M353.9 234.4h0M346.6 244.2h0M353.5 236.0h0M379.5 218.0h0M347.6 233.6h0M374.6 222.2h0M360.7 249.9h0M376.6 221.4h0M374.9 224.9h0M344.7 215.4h0M384.7 250.6h0M355.2 242.1h0M382.8 220.9h0M393.0 247.9h0M345.5 223.9h0M380.8 229.4h0M349.8 216.2h0M389.4 249.8h0M366.3 242.4h0M377.9 251.7h0M358.4 232.7h0M374.6 249.7h0M390.7 243.9h0M370.6 227.5h0M394.0 242.4h0M393.2 225.5h0M367.2 231.9h0M364.9 247.7h0" stroke="#000" stroke-width="0.6" stroke-linecap="square" stroke-opacity="0.45" fill="none"/>
<path d="M376.0 224.2h0M355.8 222.5h0M360.4 233.1h0M370.8 228.0h0M363.9 229.8h0M360.3 223.7h0M354.9 234.4h0M352.5 223.4h0M367.3 226.5h0M358.4 228.5h0M360.4 221.4h0M371.0 228.7h0M378.6 231.2h0M356.1 226.1h0M354.8 219.2h0M369.0 225.2h0M371.5 228.6h0M360.7 234.2h0M352.6 234.8h0M358.1 236.3h0M373.3 225.8h0M379.2 229.5h0M365.3 226.3h0M361.4 226.3h0M358.6 231.0h0M370.0 232.8h0M373.8 227.6h0M369.4 226.9h0M367.6 230.4h0M365.7 224.8h0M350.4 234.6h0M354.2 225.5h0M365.8 226.4h0M366.2 233.3h0M346.8 228.3h0M367.9 222.4h0M369.3 233.7h0M362.4 229.8h0M359.1 231.8h0M357.0 227.9h0M355.5 225.1h0M373.4 227.7h0M370.9 221.7h0M350.4 224.4h0M380.8 232.5h0M384.0 226.2h0M368.1 229.4h0M359.5 230.3h0M361.8 229.8h0M344.6 223.8h0M352.3 234.5h0M370.8 224.1h0M367.0 225.7h0M351.0 224.3h0M391.4 228.3h0M361.2 232.8h0M364.9 223.6h0M383.3 236.6h0M369.9 224.6h0M361.5 228.4h0M351.2 238.3h0M362.2 225.7h0M359.5 226.6h0M373.6 228.8h0M366.5 227.6h0M344.9 230.2h0M368.8 223.9h0M351.0 225.6h0M349.1 218.2h0M358.2 225.6h0M363.3 232.6h0M353.2 221.8h0M361.1 230.6h0M376.3 231.6h0M363.4 228.1h0M345.1 230.6h0M369.8 227.6h0M359.2 229.5h0M366.4 230.0h0M366.2 221.9h0M356.6 221.4h0M369.9 238.0h0M354.3 227.4h0M364.6 225.2h0M378.8 228.7h0M383.3 236.9h0M366.9 225.0h0M375.1 226.9h0M354.1 227.1h0M373.2 224.8h0M359.9 231.4h0M359.3 231.4h0M374.1 226.0h0M350.5 223.3h0M374.6 230.1h0M362.8 226.4h0M372.6 226.0h0M388.8 229.2h0M346.3 232.1h0M364.6 227.9h0M360.3 232.6h0M357.3 234.0h0M354.6 231.5h0M347.3 231.7h0M352.5 227.0h0M369.4 224.9h0M367.3 227.9h0M374.9 231.4h0M364.5 227.2h0M353.2 233.4h0M359.7 223.0h0M354.1 220.5h0M353.4 226.1h0M364.4 231.5h0M370.1 220.8h0M357.3 230.2h0M365.3 227.8h0M354.2 230.6h0M361.1 226.9h0M360.8 227.0h0M364.9 232.2h0M362.6 225.4h0M360.8 227.3h0M366.8 230.8h0M378.1 231.4h0M345.3 224.6h0M349.5 229.0h0M384.9 229.7h0M356.4 233.3h0M368.0 224.7h0M352.5 233.6h0M369.4 219.7h0M354.5 230.1h0M348.6 227.8h0M353.2 221.3h0M356.8 225.8h0M364.6 221.2h0M364.4 226.4h0M346.1 232.6h0M357.4 229.5h0M377.2 229.5h0M371.0 228.7h0M356.1 228.6h0M346.3 229.7h0M370.0 229.5h0M355.1 223.2h0M354.5 226.7h0M347.7 235.3h0M353.8 228.4h0M357.1 228.4h0M361.5 227.7h0M365.7 225.8h0M369.9 228.7h0M361.3 227.9h0M372.2 227.7h0M377.1 228.4h0M364.2 227.9h0M364.7 229.7h0M355.6 231.0h0M387.1 230.0h0M362.9 224.8h0M354.2 224.7h0M364.3 225.2h0M377.6 226.2h0M352.9 224.3h0M360.8 227.3h0M370.9 225.1h0M365.0 231.6h0M358.9 221.1h0M364.1 231.9h0M365.6 227.9h0M359.8 223.2h0M358.4 228.5h0M362.1 224.4h0M385.5 232.7h0M371.6 230.3h0M357.8 223.3h0M349.1 232.0h0M362.5 234.2h0M366.3 225.7h0M370.4 225.3h0M358.9 229.9h0M363.2 229.0h0M363.8 231.9h0M353.3 220.1h0M352.6 218.4h0M380.9 225.3h0M361.3 229.2h0M354.0 225.9h0M364.2 227.9h0M369.7 226.9h0M355.0 222.2h0M344.9 228.9h0M364.8 226.3h0M373.7 217.4h0M368.0 223.2h0M358.3 227.0h0M354.2 226.8h0M364.4 237.2h0M361.7 230.7h0M369.8 224.2h0M366.4 226.3h0M370.5 225.6h0M372.3 224.4h0M357.0 231.2h0M371.8 231.2h0M381.4 231.8h0M361.6 231.5h0M353.4 231.0h0M365.6 227.3h0M354.5 232.0h0M347.6 226.5h0M357.3 224.6h0M355.6 229.0h0M381.2 234.6h0M359.7 226.2h0M367.7 224.6h0M346.9 231.7h0M357.6 233.8h0M365.0 222.2h0M364.6 229.8h0M362.2 222.5h0M346.7 235.1h0M369.6 234.9h0M368.1 227.8h0M365.4 232.3h0M356.4 232.8h0M364.1 228.7h0M366.0 229.1h0M352.5 233.9h0M356.8 226.8h0M367.3 227.5h0M360.6 226.4h0M367.8 225.3h0M346.9 221.5h0M353.7 229.1h0M375.9 230.1h0M354.9 222.7h0M369.9 229.8h0M361.1 230.3h0M367.5 229.8h0M374.8 221.8h0M355.2 225.8h0M351.8 235.6h0M365.2 229.5h0M369.5 226.9h0M370.0 227.1h0M369.1 230.1h0M374.6 221.9h0M352.5 224.9h0M353.5 229.4h0M371.3 226.5h0M372.3 231.3h0M355.8 230.5h0M375.9 226.0h0M364.5 230.3h0M366.8 227.7h0M361.6 224.7h0M381.1 234.0h0M360.3 224.5h0M366.0 234.1h0M362.2 224.7h0M371.1 228.9h0M353.8 227.0h0M363.3 223.5h0M364.6 232.9h0M372.2 232.8h0M369.2 227.6h0M367.9 232.7h0M362.2 229.9h0M355.6 227.9h0M357.0 223.7h0M365.7 236.6h0M345.0 226.0h0M363.7 225.0h0M363.4 231.3h0M345.7 227.5h0M367.6 230.2h0M379.9 228.7h0M374.1 225.7h0M352.9 225.8h0M357.5 231.4h0M369.3 228.0h0M353.0 228.5h0M357.7 226.5h0M344.7 234.1h0M367.6 239.6h0M388.4 228.2h0M383.8 226.3h0M389.4 227.8h0M343.7 227.9h0M369.8 234.7h0M371.5 234.9h0M363.7 222.0h0M363.5 224.5h0M370.2 219.6h0M352.2 223.4h0M363.0 232.0h0M358.9 222.8h0M356.9 227.4h0M373.4 228.4h0M375.6 216.7h0M379.6 236.7h0M356.8 238.7h0M346.6 231.7h0M349.0 225.5h0M366.9 228.9h0M364.8 227.2h0M343.6 221.5h0M353.5 224.0h0M357.3 221.2h0M360.7 229.9h0M357.0 233.3h0M364.0 231.6h0M353.1 228.8h0M347.8 220.5h0M344.5 226.4h0M364.3 236.4h0M365.1 226.5h0M372.4 228.4h0M362.0 228.5h0M371.6 234.3h0M347.8 228.4h0M357.2 228.0h0M385.5 227.1h0M357.2 224.3h0M384.0 236.0h0M372.1 229.0h0M354.7 233.8h0M359.5 228.9h0M360.2 228.6h0M368.1 233.5h0M370.8 229.2h0M371.3 236.7h0M375.2 238.6h0M374.2 243.6h0M367.7 236.6h0M375.0 235.1h0M381.5 238.4h0M380.4 241.4h0M374.9 243.4h0M370.1 233.5h0M374.4 228.2h0M374.2 238.0h0M369.0 234.3h0M370.7 249.6h0M381.0 241.7h0M376.8 244.9h0M376.4 244.5h0M379.5 248.5h0M380.2 236.4h0M378.4 244.0h0M378.6 248.8h0M377.1 237.1h0M379.5 244.1h0M375.9 241.3h0M376.5 240.1h0M377.4 237.2h0M378.9 240.6h0M382.9 240.3h0M376.4 233.5h0M385.0 237.9h0M373.9 237.7h0M376.0 238.5h0M382.8 236.8h0M375.1 236.9h0M378.4 231.6h0M380.0 237.3h0M370.3 245.6h0M370.7 242.1h0M376.1 235.9h0M369.3 235.7h0M379.0 238.6h0M373.7 243.3h0M376.1 239.3h0M372.5 232.7h0M374.1 240.2h0M374.3 240.3h0M375.0 237.8h0M375.8 240.5h0M367.0 238.9h0M375.2 236.9h0M379.9 244.1h0M380.6 242.2h0M377.8 239.5h0M379.0 235.9h0M375.4 240.3h0M375.4 233.3h0M375.6 237.0h0M373.4 241.6h0M380.3 239.3h0M371.4 238.1h0M375.2 234.2h0M373.5 239.5h0M373.6 240.8h0M370.7 241.8h0M373.2 239.4h0M376.0 236.6h0M380.1 230.9h0M376.7 241.7h0M375.0 238.6h0M371.4 238.6h0M376.6 236.2h0M376.0 237.2h0M371.8 238.5h0M372.8 242.7h0M372.8 245.0h0M375.8 238.7h0M373.0 240.7h0M371.8 231.9h0M377.6 229.5h0M380.5 236.4h0M382.2 239.9h0M382.5 232.3h0M374.2 240.0h0M373.7 239.1h0M375.3 241.7h0M381.7 229.2h0M378.4 233.7h0M382.5 232.2h0M372.6 241.0h0M375.2 241.8h0M377.4 235.4h0M369.4 243.9h0M375.1 238.3h0M374.7 237.6h0M373.0 239.0h0M376.9 233.3h0M369.6 241.2h0M379.4 236.4h0M375.3 236.6h0M377.5 238.4h0M373.7 235.4h0M377.7 240.4h0M374.2 240.5h0M363.4 236.8h0M376.6 229.8h0M373.6 239.8h0M381.0 240.5h0M370.9 242.7h0M374.8 242.4h0M370.3 231.5h0M369.5 241.4h0M380.7 239.9h0M376.6 238.3h0M376.7 234.2h0M380.9 242.3h0M379.8 238.4h0M379.3 243.1h0M386.1 243.5h0M372.9 235.2h0M379.5 240.9h0M378.2 239.0h0M372.7 239.4h0M370.0 240.0h0M385.2 242.0h0M372.5 234.9h0M385.7 241.6h0M373.8 241.3h0M374.6 234.1h0M376.5 241.0h0M381.2 233.2h0M381.9 237.7h0M367.9 243.1h0M380.0 241.1h0M379.3 234.8h0M378.0 231.5h0M373.3 249.9h0M382.7 240.5h0M378.0 239.2h0M378.5 239.7h0M372.2 237.2h0M368.2 234.9h0M375.3 240.4h0M385.0 231.6h0M384.5 236.9h0M374.2 238.4h0M384.9 234.0h0M374.4 241.2h0M379.8 240.5h0M376.4 243.1h0M372.0 245.7h0M374.0 240.5h0M372.2 236.1h0M380.0 241.3h0M375.2 242.3h0M389.1 228.0h0M367.6 239.6h0M369.0 243.3h0M372.6 238.8h0M372.6 247.9h0M382.2 231.3h0M378.7 237.4h0M382.0 240.3h0M372.9 236.9h0M376.2 246.3h0M376.4 236.5h0M374.3 242.5h0M374.7 246.5h0M379.6 239.5h0M376.4 237.3h0M366.3 244.0h0M382.2 237.9h0M377.1 232.9h0M375.2 239.6h0M375.7 239.0h0M380.0 241.9h0M379.2 236.3h0M373.9 238.8h0M369.4 232.5h0M377.3 238.8h0M376.3 244.0h0M367.2 240.6h0M375.0 233.1h0M378.7 245.0h0M369.9 239.0h0M379.9 239.0h0M374.1 243.1h0M369.0 238.6h0M373.3 238.5h0M370.8 239.6h0M381.0 240.8h0M370.7 236.6h0M372.9 232.3h0M379.0 241.0h0M375.2 245.3h0M378.9 236.2h0M376.1 238.2h0M375.9 244.6h0M381.2 234.6h0M384.0 231.8h0M374.9 249.5h0M378.8 244.0h0M376.6 241.1h0M373.3 245.3h0M375.2 236.5h0M369.9 248.5h0M369.9 234.4h0M378.0 239.0h0M383.1 241.6h0M377.4 235.4h0M378.2 232.5h0M372.9 244.9h0M377.1 233.8h0M373.4 238.3h0M377.3 239.7h0M379.4 225.8h0M379.0 230.6h0M374.1 239.4h0M380.3 236.1h0M370.5 235.2h0" stroke="#000" stroke-width="0.6" stroke-linecap="square" stroke-opacity="0.8" fill="none"/>
<rect x="342.2" y="207.8" width="70.30000000000001" height="70.59999999999997" fill="none" stroke="#111" stroke-width="0.65"/>
<line x1="364.4" y1="207.8" x2="364.4" y2="278.4" stroke="#000" stroke-width="0.62"/>
<line x1="342.2" y1="253.5" x2="412.5" y2="253.5" stroke="#000" stroke-width="0.62"/>
<line x1="339.2" y1="278.4" x2="342.2" y2="278.4" stroke="#000" stroke-width="0.6" stroke-opacity="0.75"/>
<line x1="342.2" y1="278.4" x2="342.2" y2="280.9" stroke="#000" stroke-width="0.6" stroke-opacity="0.75"/>
<text x="335.9" y="279.0" font-size="2.8" fill-opacity="0.55" style="stroke:none">10<tspan dy="-1" font-size="2">0</tspan></text>
<line x1="339.2" y1="260.75" x2="342.2" y2="260.75" stroke="#000" stroke-width="0.6" stroke-opacity="0.75"/>
<line x1="359.775" y1="278.4" x2="359.775" y2="280.9" stroke="#000" stroke-width="0.6" stroke-opacity="0.75"/>
<text x="335.9" y="261.35" font-size="2.8" fill-opacity="0.55" style="stroke:none">10<tspan dy="-1" font-size="2">1</tspan></text>
<text x="357.575" y="284.0" font-size="2.8" fill-opacity="0.55" style="stroke:none">10<tspan dy="-1" font-size="2">1</tspan></text>
<line x1="339.2" y1="243.1" x2="342.2" y2="243.1" stroke="#000" stroke-width="0.6" stroke-opacity="0.75"/>
<line x1="377.35" y1="278.4" x2="377.35" y2="280.9" stroke="#000" stroke-width="0.6" stroke-opacity="0.75"/>
<text x="335.9" y="243.7" font-size="2.8" fill-opacity="0.55" style="stroke:none">10<tspan dy="-1" font-size="2">2</tspan></text>
<text x="375.15000000000003" y="284.0" font-size="2.8" fill-opacity="0.55" style="stroke:none">10<tspan dy="-1" font-size="2">2</tspan></text>
<line x1="339.2" y1="225.45" x2="342.2" y2="225.45" stroke="#000" stroke-width="0.6" stroke-opacity="0.75"/>
<line x1="394.925" y1="278.4" x2="394.925" y2="280.9" stroke="#000" stroke-width="0.6" stroke-opacity="0.75"/>
<text x="335.9" y="226.04999999999998" font-size="2.8" fill-opacity="0.55" style="stroke:none">10<tspan dy="-1" font-size="2">3</tspan></text>
<text x="392.725" y="284.0" font-size="2.8" fill-opacity="0.55" style="stroke:none">10<tspan dy="-1" font-size="2">3</tspan></text>
<line x1="339.2" y1="207.8" x2="342.2" y2="207.8" stroke="#000" stroke-width="0.6" stroke-opacity="0.75"/>
<line x1="412.5" y1="278.4" x2="412.5" y2="280.9" stroke="#000" stroke-width="0.6" stroke-opacity="0.75"/>
<text x="335.9" y="208.4" font-size="2.8" fill-opacity="0.55" style="stroke:none">10<tspan dy="-1" font-size="2">4</tspan></text>
<text x="410.3" y="284.0" font-size="2.8" fill-opacity="0.55" style="stroke:none">10<tspan dy="-1" font-size="2">4</tspan></text>
<path d="M340.90 273.09h1.3M347.49 278.4v1.3M340.90 269.98h1.3M350.59 278.4v1.3M340.90 267.77h1.3M352.78 278.4v1.3M340.90 266.06h1.3M354.48 278.4v1.3M340.90 264.67h1.3M355.88 278.4v1.3M340.90 263.48h1.3M357.05 278.4v1.3M340.90 262.46h1.3M358.07 278.4v1.3M340.90 261.56h1.3M358.97 278.4v1.3M340.90 255.44h1.3M365.07 278.4v1.3M340.90 252.33h1.3M368.16 278.4v1.3M340.90 250.12h1.3M370.36 278.4v1.3M340.90 248.41h1.3M372.06 278.4v1.3M340.90 247.02h1.3M373.45 278.4v1.3M340.90 245.83h1.3M374.63 278.4v1.3M340.90 244.81h1.3M375.65 278.4v1.3M340.90 243.91h1.3M376.55 278.4v1.3M340.90 237.79h1.3M382.64 278.4v1.3M340.90 234.68h1.3M385.74 278.4v1.3M340.90 232.47h1.3M387.93 278.4v1.3M340.90 230.76h1.3M389.63 278.4v1.3M340.90 229.37h1.3M391.03 278.4v1.3M340.90 228.18h1.3M392.20 278.4v1.3M340.90 227.16h1.3M393.22 278.4v1.3M340.90 226.26h1.3M394.12 278.4v1.3M340.90 220.14h1.3M400.22 278.4v1.3M340.90 217.03h1.3M403.31 278.4v1.3M340.90 214.82h1.3M405.51 278.4v1.3M340.90 213.11h1.3M407.21 278.4v1.3M340.90 211.72h1.3M408.60 278.4v1.3M340.90 210.53h1.3M409.78 278.4v1.3M340.90 209.51h1.3M410.80 278.4v1.3M340.90 208.61h1.3M411.70 278.4v1.3" stroke="#000" stroke-width="0.4" stroke-opacity="0.55" fill="none"/>
<text x="361.5" y="216.4" font-size="6.2" text-anchor="end" style="stroke-width:0.1px">4%</text>
<text x="407.3" y="216.4" font-size="6.2" text-anchor="end" style="stroke-width:0.1px">8%</text>
<text x="343.4" y="211.20000000000002" font-size="3.3" fill-opacity="0.8" style="stroke:none">R1</text>
<text x="365.59999999999997" y="211.20000000000002" font-size="3.3" fill-opacity="0.8" style="stroke:none">R2</text>
<text x="343.4" y="256.9" font-size="3.3" fill-opacity="0.8" style="stroke:none">R3</text>
<text x="365.59999999999997" y="256.9" font-size="3.3" fill-opacity="0.8" style="stroke:none">R4</text>
<text x="334.6" y="277.8" font-size="7.4" transform="rotate(-90 334.6 277.8)">CD11b</text>
<line x1="332.1" y1="250.6" x2="332.1" y2="229.3" stroke="#000" stroke-width="0.9"/>
<path d="M332.1 225.8L329.8 230.5L334.40000000000003 230.5Z" fill="#000"/>
<text x="341.2" y="289.8" font-size="6.9">F4/80</text>
<line x1="363.4" y1="287.3" x2="386.7" y2="287.3" stroke="#000" stroke-width="0.9"/>
<path d="M390.2 287.3L385.5 285.0L385.5 289.6Z" fill="#000"/>
<path d="M434.9 251.9h0M446.5 244.8h0M454.5 212.0h0M455.5 224.4h0M434.3 217.3h0M459.4 222.5h0M436.1 242.0h0M445.3 220.4h0M430.1 223.6h0M452.6 225.8h0M467.2 230.6h0M426.2 212.1h0M442.9 244.4h0M469.5 225.4h0M478.0 233.2h0M460.5 240.2h0M472.8 240.8h0M434.3 218.3h0M445.0 226.6h0M479.5 228.8h0M439.4 220.5h0M439.0 235.9h0M427.2 222.3h0M471.2 215.8h0M472.9 227.4h0M466.3 233.8h0M427.1 249.8h0M438.4 216.5h0M446.7 248.7h0M449.8 243.5h0M443.4 224.4h0M429.4 220.8h0M477.5 229.2h0M472.4 215.0h0M461.7 234.4h0M437.7 244.0h0M457.5 227.0h0M448.4 223.0h0M452.2 246.6h0M461.1 233.5h0M432.0 214.1h0M437.5 234.5h0M447.1 244.2h0M437.6 250.4h0M429.2 238.8h0M451.8 246.1h0M430.3 243.5h0M466.0 233.5h0M466.9 238.6h0M457.1 224.9h0M471.6 222.1h0M455.5 212.1h0M436.0 220.5h0M475.5 217.8h0M468.8 219.6h0M456.8 235.7h0M466.5 247.1h0M429.8 224.6h0M458.0 245.2h0M463.4 250.2h0M450.9 244.0h0M445.8 251.6h0M433.3 247.9h0M436.1 234.8h0M474.6 241.9h0M476.0 243.8h0M465.4 251.0h0M464.9 243.7h0M427.4 249.3h0M475.7 228.4h0M430.6 230.3h0M444.6 220.2h0M463.9 236.5h0M458.9 250.7h0M437.0 247.6h0M460.9 222.4h0M479.0 235.7h0M426.6 214.3h0M457.4 251.3h0M428.7 214.2h0M435.3 229.8h0M437.8 236.2h0M430.9 236.6h0M438.5 251.3h0M443.7 232.4h0M441.8 228.4h0M448.7 242.6h0M432.8 240.5h0M431.1 230.2h0M434.6 233.0h0M439.0 230.2h0M439.4 240.8h0M442.0 242.0h0M441.3 244.5h0M444.7 244.6h0M444.2 229.8h0M435.5 247.1h0M433.3 242.6h0M443.6 246.4h0M433.3 239.5h0M436.2 242.1h0M444.2 237.9h0M443.2 246.9h0M438.0 235.4h0M433.6 230.6h0M434.4 236.9h0M442.9 233.8h0M432.8 237.7h0M435.7 245.9h0M437.2 246.9h0M437.6 221.8h0M435.9 231.1h0M437.1 232.3h0M442.6 236.3h0M434.8 251.0h0M435.1 235.1h0M435.0 242.6h0M438.6 238.2h0M444.2 234.3h0M441.6 243.2h0M439.0 234.9h0M436.2 245.0h0M431.3 243.9h0M440.3 240.7h0M440.3 235.0h0M447.0 238.4h0M442.1 236.8h0M435.1 244.8h0M431.1 237.8h0M432.0 228.1h0M443.1 238.2h0M451.4 244.6h0M435.7 240.3h0M435.4 239.5h0M436.3 239.2h0M434.2 243.4h0M429.8 227.3h0M426.8 233.8h0M437.8 241.6h0M441.9 228.5h0M427.5 241.9h0M448.0 241.9h0M436.3 244.5h0M447.2 244.3h0M438.4 236.2h0M433.7 235.3h0M429.7 240.2h0M443.4 236.2h0M441.9 242.2h0M436.3 237.7h0M446.2 233.4h0M432.8 235.5h0M432.4 241.6h0M440.8 236.3h0M441.0 226.9h0M437.7 252.9h0M443.0 231.7h0M442.5 234.0h0M440.8 242.4h0M428.4 249.6h0M428.6 235.3h0M441.3 241.9h0M438.5 236.1h0M442.0 240.4h0M435.1 245.1h0M446.7 234.4h0M434.7 231.5h0M429.8 239.2h0M443.0 229.1h0M435.7 240.2h0M433.6 243.5h0M440.8 237.8h0M444.3 240.3h0M443.9 242.0h0M435.6 247.6h0M433.0 240.5h0M435.2 233.0h0M429.3 245.4h0M445.4 245.0h0M437.9 241.9h0M438.8 241.9h0M440.0 244.9h0M438.1 234.8h0M437.0 237.4h0M432.6 249.1h0M428.5 245.7h0M435.4 237.4h0M437.6 241.1h0M426.5 241.3h0M436.2 238.0h0M437.3 237.4h0M443.8 232.6h0M432.5 241.3h0M436.0 243.9h0M437.6 249.2h0M443.4 232.4h0M443.7 232.9h0M439.1 235.8h0M428.7 243.2h0M440.6 236.2h0M432.0 233.3h0M436.3 245.0h0M434.4 237.7h0M434.7 230.5h0M434.8 234.2h0M444.4 239.2h0M444.9 237.6h0M438.1 246.8h0M439.9 238.6h0M440.1 240.2h0M444.1 234.3h0M434.3 232.6h0M444.5 242.1h0M435.3 241.6h0M448.8 243.0h0M436.6 232.2h0M440.6 254.3h0M444.3 236.2h0M427.7 244.2h0M432.0 235.6h0M450.3 235.6h0" stroke="#000" stroke-width="0.6" stroke-linecap="square" stroke-opacity="0.45" fill="none"/>
<path d="M428.6 227.6h0M442.9 223.3h0M453.8 226.9h0M443.1 219.8h0M436.5 228.0h0M445.3 229.8h0M430.1 219.7h0M432.1 232.4h0M427.6 220.9h0M440.9 226.6h0M439.5 222.9h0M442.4 226.3h0M438.7 228.0h0M438.4 226.0h0M448.0 230.3h0M440.5 227.5h0M449.6 220.4h0M426.4 227.0h0M427.8 221.7h0M441.6 227.9h0M437.5 223.2h0M429.6 223.4h0M434.2 226.7h0M446.5 225.4h0M432.0 228.9h0M448.5 228.4h0M436.8 225.0h0M437.7 221.8h0M446.4 225.4h0M453.6 232.7h0M436.5 239.3h0M436.6 223.1h0M427.4 226.9h0M442.7 225.1h0M439.2 229.1h0M434.4 226.6h0M438.1 234.2h0M444.7 226.4h0M432.7 226.2h0M434.3 225.1h0M442.4 230.8h0M447.1 224.1h0M441.3 226.7h0M445.9 237.5h0M447.1 231.2h0M441.7 229.4h0M438.9 226.7h0M445.0 242.1h0M441.9 221.1h0M437.3 230.9h0M444.9 227.8h0M443.8 223.1h0M450.5 216.9h0M437.6 223.2h0M436.7 228.0h0M440.8 231.6h0M453.3 229.4h0M433.5 227.0h0M434.6 223.1h0M437.1 231.5h0M434.4 228.5h0M434.7 231.1h0M448.1 220.0h0M445.2 222.8h0M442.3 226.5h0M445.9 220.9h0M453.3 228.6h0M435.5 233.0h0M449.5 229.5h0M436.5 223.1h0M433.7 234.7h0M440.4 226.8h0M437.5 232.8h0M437.5 231.1h0M427.5 223.2h0M442.3 222.3h0M453.4 217.1h0M442.7 229.5h0M443.1 226.6h0M439.2 244.0h0M441.9 224.0h0M439.8 235.6h0M439.9 232.3h0M449.5 224.2h0M453.5 219.7h0M436.5 226.6h0M438.2 229.9h0M439.2 229.8h0M434.3 219.4h0M452.7 228.2h0M442.8 221.4h0M443.2 226.7h0M443.4 227.6h0M447.3 233.7h0M437.5 225.1h0M445.1 220.0h0M435.1 225.2h0M438.1 225.9h0M431.7 229.6h0M436.8 221.2h0M442.4 234.4h0M429.6 226.8h0M455.2 226.0h0M435.1 234.7h0M441.6 231.5h0M451.5 230.1h0M442.3 236.3h0M429.5 221.5h0M438.5 224.0h0M438.8 217.9h0M428.7 230.4h0M438.6 229.0h0M437.3 226.9h0M429.4 235.5h0M447.3 220.5h0M436.9 228.7h0M437.1 226.7h0M441.5 218.1h0M445.2 229.3h0M433.2 226.1h0M439.4 225.7h0M440.3 219.6h0M440.4 229.0h0M442.7 229.2h0M436.0 227.7h0M446.7 227.4h0M441.5 227.3h0M443.7 220.8h0M439.6 231.1h0M433.7 229.7h0M436.8 225.0h0M432.2 222.6h0M448.2 220.0h0M441.0 220.4h0M454.1 230.4h0M434.5 221.5h0M438.1 228.6h0M451.6 234.0h0M433.1 228.1h0M446.5 223.6h0M436.7 231.5h0M430.3 227.2h0M439.5 225.6h0M440.2 219.1h0M445.7 224.8h0M453.7 236.6h0M436.8 236.4h0M449.9 223.1h0M438.2 232.8h0M434.9 225.3h0M431.8 223.6h0M434.9 228.3h0M441.8 225.2h0M430.5 228.2h0M444.3 226.8h0M449.6 224.8h0M445.9 228.3h0M449.2 234.9h0M431.9 218.2h0M447.2 228.5h0M442.4 224.9h0M434.8 232.8h0M443.3 224.4h0M440.3 228.4h0M430.9 224.0h0M443.5 227.7h0M430.4 228.5h0M453.9 230.0h0M430.8 224.8h0M435.7 223.2h0M434.2 224.2h0M439.4 221.0h0M446.4 228.6h0M453.6 231.1h0M446.7 229.5h0M439.2 221.8h0M444.7 227.5h0M435.5 229.0h0M442.3 223.9h0M450.1 224.7h0M440.9 232.2h0M436.4 225.5h0M443.2 225.4h0M436.5 221.6h0M441.6 225.2h0M445.8 231.9h0M439.9 230.8h0M435.1 234.8h0M436.2 226.4h0M437.4 224.7h0M445.6 227.0h0M433.8 230.8h0M440.3 229.8h0M441.5 224.8h0M427.5 225.6h0M433.8 232.9h0M438.5 234.2h0M456.0 232.7h0M456.6 222.6h0M436.5 222.0h0M430.7 220.9h0M446.2 223.2h0M437.7 229.8h0M437.2 234.5h0M448.3 230.5h0M451.6 229.6h0M441.3 232.4h0M447.3 220.6h0M447.7 232.0h0M441.2 233.9h0M431.9 228.1h0M435.2 223.1h0M441.9 220.1h0M439.9 230.4h0M434.8 221.9h0M443.9 231.5h0M446.4 224.5h0M437.2 233.7h0M446.1 228.7h0M441.6 226.3h0M444.3 230.5h0M440.4 228.4h0M430.4 226.4h0M451.1 228.2h0M430.6 224.9h0M440.7 234.1h0M454.9 226.9h0M439.0 227.8h0M432.4 233.5h0M431.8 230.6h0M436.9 222.2h0M442.3 235.1h0M431.6 228.2h0M435.2 232.3h0M429.8 221.0h0M437.4 220.9h0M446.8 220.0h0M440.5 224.8h0M446.9 224.6h0M438.7 235.2h0M444.5 233.2h0M449.9 229.5h0M442.2 219.1h0M428.1 225.2h0M442.0 232.5h0M434.7 225.6h0M454.4 221.8h0M438.7 226.6h0M435.2 234.3h0M429.0 225.7h0M428.4 223.8h0M450.8 217.5h0M428.4 227.2h0M442.5 223.6h0M443.1 226.2h0M437.3 227.6h0M448.5 221.5h0M446.0 228.5h0M438.6 223.6h0M442.4 231.0h0M433.5 230.7h0M440.3 231.1h0M441.9 226.2h0M441.5 230.2h0M430.0 227.2h0M436.7 227.3h0M446.9 231.6h0M449.9 231.6h0M438.5 223.3h0M457.9 223.9h0M437.5 229.2h0M434.3 227.9h0M441.5 224.6h0M432.8 227.3h0M443.0 222.4h0M441.0 227.6h0M433.9 229.1h0M430.5 231.5h0M435.1 232.0h0M440.7 227.4h0M430.7 230.8h0M432.4 237.8h0M443.0 228.1h0M440.2 230.4h0M443.2 229.0h0M446.1 226.4h0M451.2 219.9h0M428.6 229.9h0M439.9 219.9h0M431.7 223.7h0M448.8 230.3h0M428.5 220.7h0M441.0 221.2h0M435.7 224.3h0M440.4 229.9h0M435.1 224.6h0M441.9 234.9h0M442.9 225.4h0M446.5 226.5h0M430.5 230.3h0M451.4 221.8h0M445.3 221.3h0M439.4 226.6h0M437.6 226.6h0M444.7 224.7h0M438.4 225.7h0M441.9 224.0h0M445.5 228.6h0M435.9 221.0h0M438.2 232.0h0M444.4 227.2h0M454.1 234.6h0M443.6 233.8h0M438.3 225.4h0M441.6 218.1h0M440.2 224.7h0M449.4 229.8h0M450.9 225.0h0M450.3 227.8h0M443.7 229.1h0M431.3 231.5h0M436.9 230.2h0M439.7 222.4h0M437.9 228.5h0M438.0 235.3h0M448.5 227.6h0M437.5 234.1h0M440.3 232.7h0M430.6 217.5h0M445.4 231.5h0M438.9 226.3h0M443.3 229.6h0M439.5 227.2h0M441.7 232.3h0M445.0 214.7h0M442.5 225.6h0M447.5 230.6h0M436.4 226.7h0M432.5 227.7h0M435.1 233.0h0M449.0 225.4h0M433.9 233.3h0M430.7 225.4h0M437.4 228.3h0M440.4 222.7h0M446.1 228.9h0M442.3 234.7h0M453.1 228.3h0M437.2 225.8h0M439.2 221.9h0M435.2 224.6h0M443.7 230.7h0M435.8 221.9h0M439.9 218.6h0M438.4 228.0h0M442.8 225.0h0M443.0 230.7h0M437.6 222.0h0M436.5 228.5h0M442.0 218.9h0M429.6 219.3h0M452.6 229.1h0M441.3 221.4h0M444.3 215.2h0M451.2 228.9h0M439.7 228.3h0M446.3 217.5h0M442.0 220.9h0M437.2 226.1h0M437.1 223.5h0M441.2 225.1h0M441.9 230.7h0M434.1 226.1h0M434.1 231.0h0M445.1 232.0h0M447.4 227.7h0M433.1 223.4h0M448.5 227.7h0M445.6 224.3h0M438.5 236.3h0M446.9 219.4h0M435.2 227.7h0M447.3 231.7h0M446.0 233.0h0M444.9 231.2h0M433.9 221.2h0M436.5 233.2h0M449.4 221.9h0M438.1 227.4h0M444.0 228.7h0M450.4 228.3h0M438.5 225.9h0M447.6 225.8h0M443.7 225.1h0M431.9 216.8h0M438.0 223.2h0M445.7 225.3h0M433.6 230.6h0M437.1 237.1h0M436.9 227.4h0M434.6 234.4h0M442.0 226.0h0M439.4 217.1h0M448.8 227.1h0M448.1 223.0h0M450.1 223.9h0M440.3 236.8h0M436.5 227.2h0M438.9 227.6h0M441.1 226.3h0M443.1 225.0h0M449.3 230.4h0M432.1 224.5h0M437.8 231.6h0M426.6 232.4h0M426.4 224.1h0M434.1 225.4h0M445.5 231.5h0M439.3 226.1h0M433.2 232.7h0M436.6 240.1h0M429.1 223.9h0M444.8 235.9h0M437.9 229.2h0M435.7 228.1h0M436.3 229.1h0M439.1 222.4h0M429.2 222.3h0M439.7 230.5h0M447.8 231.7h0M454.3 231.9h0M452.5 230.9h0M442.2 218.8h0M446.8 226.4h0M437.3 220.7h0M448.8 227.0h0M437.0 223.3h0M439.4 229.2h0M444.2 227.6h0M441.5 227.4h0M437.1 232.6h0M439.1 224.3h0M452.0 222.5h0M436.9 227.6h0M438.8 226.7h0M446.7 231.9h0M430.7 236.1h0M431.8 222.1h0M444.7 222.2h0M431.7 231.1h0M443.5 228.9h0M449.8 232.1h0M436.8 224.8h0M442.9 225.0h0M441.8 231.3h0M441.8 220.3h0M451.5 226.8h0M442.4 219.2h0M439.7 220.9h0M451.0 224.8h0M430.4 226.5h0M433.6 227.4h0M433.5 218.8h0M438.7 225.6h0M434.4 230.3h0M445.9 226.6h0M439.4 228.8h0M446.4 227.9h0M432.2 230.1h0M456.5 230.1h0M442.2 224.4h0M429.3 229.5h0M444.0 229.2h0M441.1 233.2h0M439.2 218.0h0M439.0 227.9h0M445.4 229.8h0M444.8 229.3h0M442.1 221.5h0M437.8 231.9h0M451.4 214.3h0M439.0 225.0h0M446.0 217.6h0M436.1 228.0h0M434.4 218.8h0M452.9 225.9h0M440.4 230.0h0M453.2 223.7h0M438.9 225.4h0M446.6 231.5h0M451.0 225.0h0M431.6 224.0h0M426.7 228.7h0M432.7 229.1h0M450.3 226.5h0M439.0 227.2h0M435.6 228.7h0M438.2 227.8h0M434.3 229.6h0M442.3 222.9h0M439.5 220.4h0M430.1 221.7h0M442.8 225.2h0M439.6 228.4h0M438.0 226.2h0M436.0 237.4h0M434.2 230.0h0M438.2 235.7h0M432.0 226.6h0M442.7 224.7h0M454.8 228.3h0M442.8 219.0h0M442.8 221.3h0M443.8 228.8h0M439.1 224.4h0M434.3 224.0h0M450.7 223.2h0M437.8 229.0h0M430.4 225.0h0M447.8 228.2h0M443.8 230.5h0M439.7 215.7h0M445.2 229.8h0M449.8 221.5h0M446.5 234.0h0M439.1 225.7h0M432.9 230.1h0M441.6 229.7h0M439.5 227.2h0M435.7 232.2h0M438.9 233.0h0M446.1 223.5h0M432.1 232.0h0M442.7 225.3h0M447.2 217.3h0M443.9 225.3h0M445.0 224.3h0M436.6 230.3h0M442.5 220.1h0M443.6 230.4h0M428.4 222.5h0M432.0 222.3h0M435.1 236.1h0M432.9 222.5h0M438.1 233.4h0M437.1 231.6h0M447.1 225.1h0M442.6 231.8h0M441.5 234.8h0M442.6 234.6h0M432.9 228.2h0M436.0 225.1h0M438.3 229.5h0M429.8 218.8h0M445.1 228.5h0M446.5 231.0h0M442.1 224.5h0M443.3 222.5h0M430.8 225.4h0M455.4 222.4h0M449.2 226.2h0M451.8 224.6h0M431.6 223.9h0M438.5 229.7h0M434.8 228.0h0M456.3 227.1h0M444.5 239.6h0M434.6 227.0h0M437.5 228.3h0M434.3 225.6h0M444.9 227.1h0M426.4 232.5h0M442.4 236.2h0M434.0 228.7h0M433.5 230.8h0M435.9 233.2h0M440.6 216.6h0M431.9 230.2h0M445.0 231.9h0M443.3 224.8h0M440.7 227.3h0M439.9 231.9h0M433.3 225.5h0M449.0 226.4h0M443.7 224.5h0M440.2 233.2h0M451.0 227.2h0M435.4 234.2h0M426.6 226.1h0M444.8 238.3h0M447.1 226.4h0M439.4 226.8h0M433.2 225.1h0M442.0 218.9h0M434.2 212.8h0M446.3 227.6h0M428.3 219.9h0M434.9 234.9h0M443.2 221.7h0M436.3 219.1h0M433.1 218.7h0M452.3 230.4h0M448.8 229.2h0M434.6 231.7h0M443.1 223.6h0M428.3 226.8h0M431.3 225.6h0M446.5 229.6h0M440.8 225.7h0M441.1 222.4h0M445.2 234.6h0M435.5 219.5h0M439.9 218.7h0M453.6 226.5h0M442.7 227.8h0M436.2 223.4h0M432.2 236.5h0M440.3 232.2h0M450.3 225.6h0M436.2 225.0h0M442.4 222.2h0M446.5 225.8h0M434.4 230.3h0M449.8 222.7h0M438.5 226.1h0M443.5 230.8h0M438.9 222.5h0M435.6 231.2h0M452.7 227.8h0M434.0 239.2h0M447.9 223.4h0M430.9 222.5h0M460.6 233.0h0M432.8 223.2h0M437.2 220.7h0M443.9 221.6h0M438.1 229.8h0M438.0 231.7h0M436.1 232.6h0M435.1 224.1h0M429.5 228.6h0M444.6 227.0h0M449.9 230.1h0M442.2 218.9h0M438.5 228.7h0M431.4 234.1h0M442.1 234.2h0M431.0 235.7h0M449.5 227.6h0M437.3 234.8h0M432.9 225.9h0M447.7 226.5h0M434.0 221.3h0M436.3 233.1h0M459.1 222.1h0M431.2 230.0h0M438.5 224.9h0M438.7 233.5h0M445.2 223.2h0M443.4 220.9h0M447.7 217.0h0M436.7 231.4h0M451.9 229.4h0M446.4 230.1h0M442.5 224.1h0M426.1 224.6h0M440.9 223.7h0M433.7 228.8h0M437.4 227.8h0M447.4 223.4h0M446.8 221.4h0M446.0 228.9h0M443.3 230.5h0M441.3 218.4h0M451.7 228.0h0M441.3 227.2h0M442.6 225.8h0M430.3 221.1h0M452.4 229.9h0M432.2 234.8h0M441.8 221.5h0M434.3 223.7h0M447.9 230.6h0M438.0 225.7h0M434.8 227.5h0M432.5 231.3h0M439.1 231.6h0M450.9 228.4h0M446.0 211.9h0M433.2 228.2h0M433.6 232.2h0M437.5 226.0h0M436.2 233.3h0M443.5 226.7h0M446.0 225.6h0M434.0 226.7h0M438.2 232.3h0M434.9 221.6h0M449.4 231.3h0M437.2 227.5h0M428.3 235.1h0M436.0 216.3h0M438.9 229.4h0M444.5 228.1h0M441.6 226.1h0M439.3 225.8h0M457.5 227.3h0M440.9 216.7h0M439.6 229.7h0M444.9 219.3h0M439.4 234.8h0M438.5 226.0h0M444.1 226.5h0M436.1 223.7h0M427.6 227.8h0M443.9 229.9h0M434.5 229.0h0M432.4 218.9h0M444.4 220.6h0M430.0 225.3h0M437.5 234.6h0M447.2 237.3h0M441.1 218.8h0M430.7 228.3h0M430.1 229.1h0M447.3 229.9h0M427.8 232.5h0M452.1 232.1h0M456.7 222.9h0M438.9 231.2h0M447.0 234.3h0M438.8 223.5h0M438.4 223.4h0M440.5 225.3h0M445.4 223.5h0M446.4 223.1h0M448.6 233.0h0M439.7 225.9h0M442.3 229.2h0M432.6 230.4h0M426.7 221.1h0M431.4 227.9h0M433.9 215.2h0M447.6 224.1h0M437.5 228.6h0M442.4 229.9h0M430.7 228.5h0M446.8 230.7h0M450.3 219.7h0M448.5 219.8h0M431.9 227.9h0M456.5 232.9h0M438.9 227.4h0M447.7 220.8h0M437.4 224.0h0M448.4 229.7h0M442.1 233.0h0M438.1 222.4h0M446.4 217.8h0M441.9 226.9h0M428.5 227.9h0M433.8 233.8h0M445.4 231.4h0M446.9 226.9h0M447.8 230.0h0M444.0 232.3h0M454.0 218.6h0M436.7 219.7h0M431.1 230.4h0M433.0 225.9h0M435.9 231.8h0M451.4 227.5h0M435.0 224.1h0M438.6 218.9h0M431.3 227.9h0M441.7 227.8h0M442.4 223.3h0M439.2 222.0h0M441.6 217.0h0M443.7 228.1h0M437.0 227.7h0M447.2 227.3h0M470.6 234.0h0M455.9 227.0h0M445.4 222.6h0M456.6 228.6h0M457.8 236.3h0M458.4 229.9h0M453.1 222.6h0M451.3 227.5h0M460.8 231.4h0M446.8 227.4h0M461.1 220.9h0M453.0 220.8h0M449.4 233.7h0M458.0 238.8h0M446.7 232.5h0M453.7 220.1h0M456.6 229.1h0M452.8 234.0h0M452.5 231.6h0M455.0 225.4h0M458.1 233.3h0M466.6 233.9h0M441.4 221.4h0M452.9 233.9h0M439.8 228.7h0M445.5 231.9h0M463.4 226.6h0M466.0 231.7h0M453.8 235.2h0M472.2 227.6h0M457.1 229.7h0M461.7 226.0h0M453.3 233.9h0M454.1 234.6h0M457.3 236.5h0M467.0 222.3h0M460.7 226.8h0M450.3 232.3h0M463.7 230.6h0M464.0 236.1h0M458.0 231.1h0M459.1 235.5h0M448.2 227.7h0M445.5 225.3h0M458.0 226.3h0M449.1 226.9h0M464.2 238.4h0M456.2 224.4h0M456.8 225.0h0M457.8 231.5h0M470.7 224.4h0M454.1 224.0h0M463.8 223.4h0M465.6 237.0h0M441.5 233.5h0M473.6 228.6h0M454.8 238.2h0M453.5 227.6h0M447.9 231.3h0M465.8 224.2h0M461.9 230.6h0M467.8 227.6h0M449.1 229.3h0M459.0 226.8h0M447.7 231.3h0M442.5 222.4h0M454.3 221.4h0M459.3 220.1h0M453.7 230.2h0M466.1 224.0h0M457.5 234.1h0M448.8 230.0h0M464.3 233.7h0M454.8 229.9h0M449.5 230.8h0M458.7 225.5h0M474.5 231.4h0M448.6 228.3h0M459.2 222.9h0M448.0 231.9h0M454.7 227.8h0M463.6 226.8h0M443.3 222.6h0M454.0 227.2h0M452.2 223.8h0M441.2 226.9h0M458.6 229.5h0M460.3 242.8h0M445.9 225.1h0M456.6 216.1h0M460.9 227.7h0M480.8 227.7h0M454.4 228.2h0M453.4 224.8h0M464.0 229.8h0M457.8 226.8h0M440.0 225.8h0M437.1 225.0h0M458.1 226.8h0M455.9 236.0h0M459.7 233.1h0M452.6 226.5h0M444.0 235.5h0M464.3 227.8h0M458.9 229.4h0M466.2 230.7h0M454.4 222.9h0M435.5 216.4h0M453.2 234.1h0M449.5 226.9h0M460.2 236.2h0M436.3 227.4h0M451.2 232.2h0M452.0 219.4h0M436.2 219.7h0M451.8 222.8h0M444.1 238.0h0M443.0 226.5h0M464.9 228.1h0M438.8 228.1h0M454.9 234.8h0M448.5 220.4h0M451.9 222.5h0M456.7 231.3h0M454.5 227.8h0M445.2 221.1h0M457.5 235.1h0M461.6 240.2h0M447.0 217.4h0M454.7 229.4h0M448.2 218.6h0M466.0 218.6h0M459.2 232.3h0M465.7 227.8h0M462.6 226.8h0M461.0 234.7h0M454.8 219.3h0M458.5 213.0h0M466.3 224.9h0M450.6 233.0h0M462.2 230.5h0M450.4 231.6h0M456.2 226.2h0M448.6 230.4h0M448.9 234.6h0M440.5 223.0h0M456.5 219.5h0M470.1 221.0h0M450.0 225.9h0M456.5 235.0h0M451.5 225.4h0M465.5 227.9h0M461.4 228.3h0M450.8 224.9h0M447.0 224.0h0M456.4 227.8h0M461.4 228.6h0M458.3 223.6h0M441.8 233.1h0M469.6 226.5h0M462.1 223.6h0M447.6 230.0h0M462.0 230.9h0M464.0 228.5h0M453.8 228.5h0M447.8 226.2h0M441.5 222.1h0M461.3 225.3h0M436.5 222.3h0M461.4 227.7h0M454.3 230.9h0M464.4 226.5h0M457.0 238.0h0M459.9 225.3h0M448.2 225.7h0M464.4 217.7h0M460.1 225.9h0M460.2 229.0h0M442.1 225.5h0M438.8 227.3h0M448.7 232.6h0M440.1 229.4h0M447.0 225.5h0M441.2 237.2h0M453.1 228.4h0M473.6 219.3h0M454.2 223.3h0M452.8 225.9h0M459.1 231.7h0M455.5 233.9h0M452.3 221.6h0M441.1 232.2h0M452.1 230.4h0M460.8 223.4h0M465.5 231.7h0M468.4 231.6h0M445.7 230.9h0M456.0 220.8h0M462.1 226.7h0M458.3 236.2h0M465.7 225.9h0M461.0 233.2h0M456.3 233.4h0M459.7 225.8h0M466.4 226.8h0M451.1 226.1h0M440.4 233.3h0M445.2 218.8h0M457.7 217.0h0M452.7 231.7h0M457.8 229.9h0M452.6 223.2h0M457.3 231.9h0M454.5 232.9h0M435.3 223.4h0M433.6 225.8h0M456.3 221.6h0M450.5 227.6h0M448.4 226.8h0M462.8 228.0h0M463.5 230.2h0M450.8 228.4h0M462.5 225.2h0M449.6 234.2h0M461.8 231.3h0M450.7 227.1h0M458.2 230.1h0M462.1 222.5h0M462.3 223.0h0M447.2 225.6h0M450.7 233.3h0M464.8 238.6h0M449.4 228.8h0M465.7 219.4h0M461.6 237.5h0M463.0 224.3h0M454.3 228.8h0M449.5 222.8h0M464.4 223.6h0M463.7 222.6h0M448.6 216.5h0M434.6 237.4h0M449.8 226.1h0M462.0 220.7h0M455.0 233.7h0M461.6 235.4h0M453.9 220.4h0M455.2 230.7h0M446.6 226.4h0M454.8 239.1h0M456.7 235.8h0M458.3 236.4h0M459.2 236.9h0M454.6 236.2h0M452.2 245.8h0M463.9 238.5h0M459.8 241.8h0M460.2 235.4h0M455.9 242.3h0M458.1 240.7h0M457.6 242.5h0M458.5 240.0h0M461.1 230.9h0M462.3 244.4h0M457.3 232.5h0M460.4 235.4h0M455.5 245.3h0M458.6 234.7h0M454.4 240.6h0M460.2 240.6h0M455.0 236.2h0M458.9 237.4h0M459.3 237.6h0M458.8 239.7h0M461.3 244.2h0M458.9 230.8h0M464.1 232.9h0M459.9 243.8h0M461.2 244.3h0M459.1 247.9h0M460.9 232.4h0M461.6 237.7h0M462.9 236.2h0M462.0 233.8h0M458.0 238.6h0M463.1 235.7h0M460.2 243.5h0M452.6 245.3h0M458.7 239.9h0M465.9 238.8h0M461.6 244.1h0M464.2 244.0h0M456.9 240.5h0M453.9 234.0h0M457.9 237.8h0M457.0 235.9h0M465.1 233.7h0M460.9 233.9h0M460.1 235.6h0M453.0 230.8h0M463.2 244.0h0M458.0 238.3h0M460.2 232.7h0M461.3 251.1h0M457.4 232.3h0M457.0 239.0h0M457.9 246.0h0M461.2 236.7h0M459.8 237.2h0M456.2 245.2h0M458.4 236.7h0M464.1 237.9h0M462.6 228.3h0M461.5 234.4h0M457.6 242.6h0M465.2 229.7h0M463.8 237.8h0M457.3 243.2h0M458.6 236.7h0M458.2 238.1h0M457.2 243.4h0M464.9 235.3h0M456.7 238.4h0M456.3 239.4h0M459.5 239.0h0M456.4 240.2h0M454.5 237.4h0M458.5 239.2h0M462.0 238.2h0M455.5 240.7h0M458.5 242.2h0M464.8 245.2h0M458.9 235.0h0M459.8 238.2h0M456.4 232.8h0M463.1 235.0h0M462.6 243.3h0M455.7 240.6h0M458.7 233.1h0M456.8 239.5h0M462.4 236.0h0M458.3 243.2h0M457.6 236.2h0M453.6 240.7h0M456.5 235.0h0M457.4 235.9h0M469.3 236.7h0M461.7 233.8h0M462.0 240.4h0M457.6 248.1h0M455.6 234.5h0M448.8 229.5h0M456.5 238.7h0M461.7 238.6h0M456.2 235.0h0M464.7 237.1h0M465.1 238.5h0M457.7 237.4h0M460.7 242.2h0M457.7 241.0h0M454.4 232.3h0M453.3 237.0h0M456.6 241.8h0M457.7 237.2h0M457.9 233.0h0M454.6 246.8h0M461.0 233.1h0M454.6 240.4h0M451.2 229.6h0M457.3 236.6h0M461.7 234.6h0M454.4 240.7h0M455.5 239.5h0M452.3 237.4h0M465.4 233.1h0M458.7 238.5h0M459.4 238.3h0M461.6 236.2h0M455.6 239.7h0M459.8 231.6h0M461.6 237.4h0M462.4 239.0h0M454.6 237.4h0M461.4 243.2h0M458.3 241.6h0M463.6 240.1h0M464.0 241.6h0M455.6 233.9h0M456.1 245.9h0M463.1 235.3h0M458.9 247.4h0M456.1 239.0h0M457.7 242.4h0M452.3 240.3h0M459.6 243.6h0M460.5 240.5h0M455.6 240.1h0M457.2 246.3h0M460.1 239.1h0M459.5 239.3h0M457.6 241.6h0M458.9 235.4h0M462.1 242.1h0M463.0 237.3h0M462.3 245.2h0M461.3 240.6h0M458.8 232.6h0M455.4 238.8h0M462.7 241.2h0M457.1 239.9h0M458.6 236.1h0M458.9 242.5h0M455.0 237.3h0M458.9 234.9h0M455.7 240.9h0M466.6 239.4h0M457.2 245.5h0M459.5 231.4h0M457.1 231.2h0M457.9 245.0h0M466.1 252.4h0M462.5 237.7h0M456.8 237.4h0M455.2 235.3h0M460.2 239.6h0M459.7 238.4h0M453.8 241.3h0M459.1 242.4h0M459.6 235.0h0M462.3 242.2h0M458.1 242.0h0M460.6 237.1h0M459.8 236.0h0M463.7 237.3h0M462.4 246.4h0M459.2 241.8h0M464.2 231.5h0M466.5 241.5h0M454.8 239.7h0M466.6 239.5h0M463.9 243.4h0M456.8 240.6h0M465.1 235.9h0M459.4 236.9h0M457.2 238.3h0M451.6 236.5h0M453.0 235.2h0M457.0 243.3h0M455.2 242.7h0M457.6 236.0h0M453.1 239.7h0M458.7 242.3h0M456.9 230.7h0M461.0 244.5h0M459.1 239.6h0M460.8 240.2h0M468.1 238.7h0M460.8 242.8h0M460.9 232.2h0M460.4 237.8h0M455.6 242.9h0M456.7 240.8h0M456.6 241.6h0M463.7 235.7h0M456.3 242.9h0M455.9 243.4h0M460.4 235.5h0M457.1 244.5h0M462.0 239.8h0M459.8 243.6h0M456.9 240.6h0M460.7 244.6h0M457.8 238.4h0M460.0 238.3h0M458.2 241.4h0M457.3 238.1h0M460.0 239.7h0M457.8 238.8h0M454.8 236.2h0M456.6 234.8h0M464.3 247.7h0M458.2 238.8h0M458.6 237.7h0M457.1 242.8h0M460.9 234.0h0M459.8 235.8h0M461.2 236.1h0M460.1 236.2h0M458.4 240.6h0M461.4 233.6h0M457.1 235.9h0M453.1 240.1h0M458.3 238.0h0M456.2 246.3h0M455.9 228.6h0M457.8 240.3h0M455.3 238.6h0M451.0 238.1h0M459.2 235.4h0M455.2 234.9h0M457.2 243.4h0M459.4 236.6h0M457.3 242.3h0M456.7 235.5h0M461.7 239.1h0M463.6 238.2h0M458.0 240.8h0M459.7 239.3h0M455.7 236.4h0M456.4 237.1h0M463.5 235.5h0M460.6 240.9h0M453.6 243.2h0M459.8 240.6h0M459.7 243.1h0M460.4 236.5h0M456.8 235.7h0M456.3 235.7h0M459.8 243.0h0M458.3 243.3h0M462.9 241.9h0M453.3 228.7h0M462.8 241.1h0M454.1 236.1h0M459.8 239.0h0M454.5 238.9h0M453.9 238.1h0M461.2 240.2h0M457.0 241.6h0M465.7 238.0h0M459.5 233.3h0M461.7 232.6h0M458.2 242.8h0M461.1 226.0h0M456.2 229.3h0M458.0 233.2h0M466.8 243.9h0M455.5 237.8h0M459.2 243.0h0M463.9 241.8h0M454.6 226.4h0M453.6 234.4h0M461.7 233.7h0M463.5 242.3h0M459.3 242.4h0M456.5 243.3h0M459.3 236.7h0M456.2 230.7h0M457.9 241.2h0M457.6 237.2h0" stroke="#000" stroke-width="0.6" stroke-linecap="square" stroke-opacity="0.8" fill="none"/>
<rect x="425.5" y="207.8" width="69.89999999999998" height="71.09999999999997" fill="none" stroke="#111" stroke-width="0.65"/>
<line x1="448.3" y1="207.8" x2="448.3" y2="278.9" stroke="#000" stroke-width="0.62"/>
<line x1="425.5" y1="253.2" x2="495.4" y2="253.2" stroke="#000" stroke-width="0.62"/>
<line x1="422.5" y1="278.9" x2="425.5" y2="278.9" stroke="#000" stroke-width="0.6" stroke-opacity="0.75"/>
<line x1="425.5" y1="278.9" x2="425.5" y2="281.4" stroke="#000" stroke-width="0.6" stroke-opacity="0.75"/>
<text x="419.2" y="279.5" font-size="2.8" fill-opacity="0.55" style="stroke:none">10<tspan dy="-1" font-size="2">0</tspan></text>
<line x1="422.5" y1="261.125" x2="425.5" y2="261.125" stroke="#000" stroke-width="0.6" stroke-opacity="0.75"/>
<line x1="442.975" y1="278.9" x2="442.975" y2="281.4" stroke="#000" stroke-width="0.6" stroke-opacity="0.75"/>
<text x="419.2" y="261.725" font-size="2.8" fill-opacity="0.55" style="stroke:none">10<tspan dy="-1" font-size="2">1</tspan></text>
<text x="440.77500000000003" y="284.5" font-size="2.8" fill-opacity="0.55" style="stroke:none">10<tspan dy="-1" font-size="2">1</tspan></text>
<line x1="422.5" y1="243.35" x2="425.5" y2="243.35" stroke="#000" stroke-width="0.6" stroke-opacity="0.75"/>
<line x1="460.45" y1="278.9" x2="460.45" y2="281.4" stroke="#000" stroke-width="0.6" stroke-opacity="0.75"/>
<text x="419.2" y="243.95" font-size="2.8" fill-opacity="0.55" style="stroke:none">10<tspan dy="-1" font-size="2">2</tspan></text>
<text x="458.25" y="284.5" font-size="2.8" fill-opacity="0.55" style="stroke:none">10<tspan dy="-1" font-size="2">2</tspan></text>
<line x1="422.5" y1="225.575" x2="425.5" y2="225.575" stroke="#000" stroke-width="0.6" stroke-opacity="0.75"/>
<line x1="477.92499999999995" y1="278.9" x2="477.92499999999995" y2="281.4" stroke="#000" stroke-width="0.6" stroke-opacity="0.75"/>
<text x="419.2" y="226.17499999999998" font-size="2.8" fill-opacity="0.55" style="stroke:none">10<tspan dy="-1" font-size="2">3</tspan></text>
<text x="475.72499999999997" y="284.5" font-size="2.8" fill-opacity="0.55" style="stroke:none">10<tspan dy="-1" font-size="2">3</tspan></text>
<line x1="422.5" y1="207.8" x2="425.5" y2="207.8" stroke="#000" stroke-width="0.6" stroke-opacity="0.75"/>
<line x1="495.4" y1="278.9" x2="495.4" y2="281.4" stroke="#000" stroke-width="0.6" stroke-opacity="0.75"/>
<text x="419.2" y="208.4" font-size="2.8" fill-opacity="0.55" style="stroke:none">10<tspan dy="-1" font-size="2">4</tspan></text>
<text x="493.2" y="284.5" font-size="2.8" fill-opacity="0.55" style="stroke:none">10<tspan dy="-1" font-size="2">4</tspan></text>
<path d="M424.20 273.55h1.3M430.76 278.9v1.3M424.20 270.42h1.3M433.84 278.9v1.3M424.20 268.20h1.3M436.02 278.9v1.3M424.20 266.48h1.3M437.71 278.9v1.3M424.20 265.07h1.3M439.10 278.9v1.3M424.20 263.88h1.3M440.27 278.9v1.3M424.20 262.85h1.3M441.28 278.9v1.3M424.20 261.94h1.3M442.18 278.9v1.3M424.20 255.77h1.3M448.24 278.9v1.3M424.20 252.64h1.3M451.31 278.9v1.3M424.20 250.42h1.3M453.50 278.9v1.3M424.20 248.70h1.3M455.19 278.9v1.3M424.20 247.29h1.3M456.57 278.9v1.3M424.20 246.10h1.3M457.74 278.9v1.3M424.20 245.07h1.3M458.76 278.9v1.3M424.20 244.16h1.3M459.65 278.9v1.3M424.20 238.00h1.3M465.71 278.9v1.3M424.20 234.87h1.3M468.79 278.9v1.3M424.20 232.65h1.3M470.97 278.9v1.3M424.20 230.93h1.3M472.66 278.9v1.3M424.20 229.52h1.3M474.05 278.9v1.3M424.20 228.33h1.3M475.22 278.9v1.3M424.20 227.30h1.3M476.23 278.9v1.3M424.20 226.39h1.3M477.13 278.9v1.3M424.20 220.22h1.3M483.19 278.9v1.3M424.20 217.09h1.3M486.26 278.9v1.3M424.20 214.87h1.3M488.45 278.9v1.3M424.20 213.15h1.3M490.14 278.9v1.3M424.20 211.74h1.3M491.52 278.9v1.3M424.20 210.55h1.3M492.69 278.9v1.3M424.20 209.52h1.3M493.71 278.9v1.3M424.20 208.61h1.3M494.60 278.9v1.3" stroke="#000" stroke-width="0.4" stroke-opacity="0.55" fill="none"/>
<text x="444" y="216.4" font-size="6.2" text-anchor="end" style="stroke-width:0.1px">17%</text>
<text x="494.3" y="216.4" font-size="6.2" text-anchor="end" style="stroke-width:0.1px">13%</text>
<text x="426.7" y="211.20000000000002" font-size="3.3" fill-opacity="0.8" style="stroke:none">R1</text>
<text x="449.5" y="211.20000000000002" font-size="3.3" fill-opacity="0.8" style="stroke:none">R2</text>
<text x="426.7" y="256.59999999999997" font-size="3.3" fill-opacity="0.8" style="stroke:none">R3</text>
<text x="449.5" y="256.59999999999997" font-size="3.3" fill-opacity="0.8" style="stroke:none">R4</text>
</g></svg></body></html>
